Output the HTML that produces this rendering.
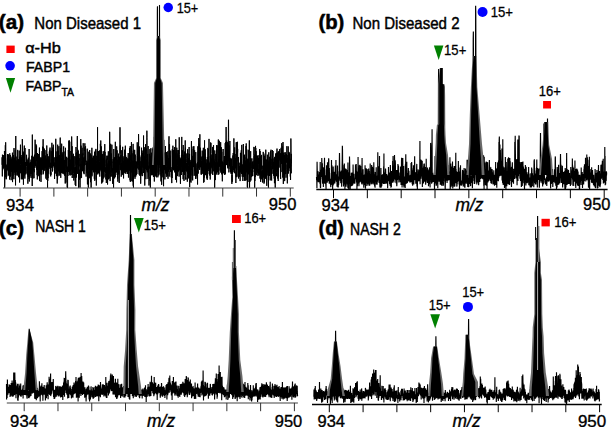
<!DOCTYPE html>
<html><head><meta charset="utf-8"><style>
html,body{margin:0;padding:0;background:#fff;}
body{width:611px;height:427px;overflow:hidden;}
svg{display:block;}
text{font-family:"Liberation Sans",sans-serif;fill:#000;}
</style></head><body>
<svg width="611" height="427" viewBox="0 0 611 427">
<line x1="3" y1="188" x2="293.7" y2="188" stroke="#808080" stroke-width="1.5"/><line x1="20.10" y1="188" x2="20.10" y2="196.6" stroke="#333" stroke-width="1"/><line x1="53.88" y1="188" x2="53.88" y2="196.6" stroke="#333" stroke-width="1"/><line x1="87.65" y1="188" x2="87.65" y2="196.6" stroke="#333" stroke-width="1"/><line x1="121.42" y1="188" x2="121.42" y2="196.6" stroke="#333" stroke-width="1"/><line x1="155.20" y1="188" x2="155.20" y2="196.6" stroke="#333" stroke-width="1"/><line x1="188.97" y1="188" x2="188.97" y2="196.6" stroke="#333" stroke-width="1"/><line x1="222.75" y1="188" x2="222.75" y2="196.6" stroke="#333" stroke-width="1"/><line x1="256.52" y1="188" x2="256.52" y2="196.6" stroke="#333" stroke-width="1"/><line x1="290.30" y1="188" x2="290.30" y2="196.6" stroke="#333" stroke-width="1"/>
<polyline points="2.00,164.8 2.11,157.3 2.22,163.0 2.33,176.4 2.44,154.7 2.56,159.8 2.67,170.2 2.78,157.8 2.89,161.2 3.00,159.6 3.11,162.3 3.22,156.9 3.33,168.6 3.44,164.2 3.56,165.6 3.67,155.0 3.78,161.0 3.89,164.5 4.00,167.8 4.11,165.4 4.22,164.4 4.33,166.1 4.44,151.0 4.56,155.8 4.67,187.5 4.78,183.1 4.89,169.7 5.00,173.1 5.11,168.3 5.22,166.2 5.33,145.2 5.44,177.1 5.56,169.0 5.67,142.3 5.78,157.8 5.89,159.7 6.00,170.6 6.11,179.3 6.22,164.6 6.33,167.3 6.44,178.6 6.56,172.6 6.67,170.4 6.78,176.4 6.89,168.9 7.00,165.9 7.11,166.8 7.22,170.0 7.33,158.8 7.44,154.4 7.56,159.3 7.67,169.0 7.78,154.3 7.89,166.4 8.00,154.6 8.11,171.1 8.22,154.6 8.33,163.9 8.44,174.9 8.56,168.2 8.67,165.1 8.78,164.1 8.89,174.6 9.00,176.1 9.11,164.9 9.22,172.4 9.33,166.7 9.44,160.3 9.56,179.5 9.67,165.9 9.78,153.3 9.89,169.7 10.00,173.4 10.11,158.7 10.22,164.0 10.33,155.0 10.44,166.9 10.56,176.6 10.67,167.1 10.78,168.1 10.89,158.4 11.00,164.7 11.11,180.2 11.22,176.5 11.33,158.8 11.44,161.3 11.56,171.8 11.67,167.1 11.78,161.6 11.89,160.9 12.00,156.7 12.11,162.6 12.22,163.6 12.33,166.6 12.44,152.7 12.56,182.1 12.67,164.7 12.78,164.6 12.89,176.0 13.00,161.3 13.11,170.2 13.22,156.4 13.33,169.2 13.44,161.2 13.56,155.0 13.67,162.9 13.78,175.9 13.89,179.2 14.00,148.1 14.11,167.8 14.22,172.5 14.33,165.0 14.44,167.9 14.56,157.7 14.67,167.3 14.78,167.4 14.89,172.2 15.00,163.0 15.11,174.9 15.22,160.7 15.33,150.3 15.44,179.4 15.56,185.4 15.67,158.8 15.78,136.0 15.89,171.5 16.00,170.4 16.11,156.6 16.22,172.2 16.33,169.6 16.44,169.3 16.56,160.5 16.67,169.7 16.78,164.0 16.89,168.6 17.00,175.3 17.11,170.5 17.22,175.5 17.33,166.0 17.44,173.8 17.56,173.4 17.67,149.9 17.78,165.3 17.89,164.4 18.00,159.2 18.11,168.3 18.22,169.8 18.33,162.4 18.44,163.5 18.56,177.2 18.67,159.4 18.78,172.0 18.89,175.9 19.00,174.4 19.11,171.1 19.22,150.6 19.33,174.1 19.44,164.6 19.56,182.5 19.67,167.7 19.78,156.7 19.89,169.0 20.00,173.4 20.11,165.7 20.22,159.0 20.33,158.1 20.44,144.7 20.56,164.4 20.67,172.9 20.78,167.7 20.89,168.0 21.00,165.2 21.11,166.7 21.22,164.6 21.33,179.3 21.44,157.4 21.56,172.5 21.67,178.2 21.78,162.0 21.89,155.0 22.00,163.5 22.11,168.8 22.22,176.4 22.33,139.1 22.44,161.7 22.56,179.3 22.67,175.2 22.78,165.3 22.89,178.6 23.00,163.7 23.11,168.9 23.22,151.6 23.33,155.4 23.44,184.7 23.56,163.7 23.67,177.1 23.78,153.1 23.89,164.2 24.00,159.8 24.11,175.8 24.22,147.9 24.33,145.6 24.44,174.8 24.56,163.2 24.67,173.8 24.78,169.3 24.89,178.6 25.00,148.0 25.11,174.5 25.22,167.5 25.33,162.0 25.44,171.7 25.56,168.0 25.67,170.7 25.78,166.9 25.89,173.3 26.00,167.0 26.11,164.5 26.22,165.8 26.33,164.6 26.44,165.3 26.56,154.8 26.67,165.3 26.78,162.8 26.89,166.3 27.00,166.7 27.11,173.7 27.22,159.5 27.33,174.7 27.44,171.4 27.56,162.8 27.67,161.8 27.78,169.4 27.89,183.7 28.00,163.0 28.11,163.1 28.22,176.8 28.33,157.7 28.44,170.4 28.56,174.5 28.67,165.3 28.78,168.6 28.89,164.8 29.00,179.0 29.11,149.0 29.22,173.6 29.33,181.5 29.44,163.4 29.56,173.2 29.67,165.1 29.78,170.7 29.89,168.0 30.00,167.5 30.11,176.4 30.22,161.9 30.33,173.7 30.44,173.6 30.56,166.4 30.67,162.9 30.78,168.4 30.89,172.6 31.00,159.6 31.11,178.0 31.22,172.2 31.33,163.9 31.44,173.8 31.56,165.4 31.67,167.3 31.78,155.8 31.89,171.8 32.00,170.3 32.11,161.9 32.22,186.0 32.33,134.6 32.44,173.6 32.56,172.4 32.67,156.8 32.78,165.1 32.89,178.5 33.00,159.1 33.11,156.8 33.22,169.5 33.33,165.9 33.44,157.5 33.56,170.3 33.67,160.4 33.78,163.7 33.89,171.7 34.00,178.2 34.11,169.0 34.22,172.2 34.33,155.8 34.44,163.2 34.56,154.7 34.67,161.3 34.78,160.2 34.89,168.0 35.00,154.1 35.11,139.7 35.22,163.0 35.33,166.3 35.44,160.5 35.56,163.1 35.67,165.7 35.78,160.2 35.89,163.0 36.00,144.3 36.11,159.8 36.22,156.8 36.33,149.8 36.44,160.8 36.56,145.6 36.67,167.7 36.78,169.8 36.89,166.2 37.00,163.0 37.11,175.2 37.22,165.5 37.33,179.4 37.44,153.0 37.56,169.7 37.67,174.8 37.78,176.5 37.89,170.0 38.00,168.3 38.11,175.8 38.22,174.1 38.33,168.4 38.44,171.4 38.56,155.9 38.67,154.0 38.78,162.7 38.89,157.7 39.00,175.4 39.11,156.5 39.22,167.6 39.33,160.6 39.44,147.6 39.56,181.1 39.67,160.6 39.78,172.0 39.89,159.0 40.00,174.7 40.11,169.6 40.22,163.9 40.33,157.4 40.44,165.8 40.56,174.0 40.67,172.2 40.78,159.9 40.89,169.2 41.00,181.9 41.11,160.0 41.22,165.8 41.33,158.5 41.44,171.9 41.56,157.6 41.67,174.7 41.78,160.7 41.89,169.8 42.00,155.9 42.11,151.1 42.22,168.4 42.33,160.5 42.44,160.2 42.56,146.7 42.67,152.9 42.78,169.8 42.89,156.1 43.00,152.3 43.11,139.2 43.22,174.3 43.33,165.9 43.44,147.0 43.56,172.7 43.67,170.9 43.78,156.5 43.89,151.5 44.00,168.1 44.11,157.3 44.22,162.8 44.33,148.6 44.44,165.1 44.56,152.5 44.67,170.7 44.78,166.0 44.89,164.9 45.00,150.1 45.11,154.7 45.22,168.2 45.33,156.3 45.44,155.6 45.56,164.2 45.67,167.4 45.78,167.0 45.89,178.6 46.00,164.1 46.11,164.0 46.22,174.3 46.33,159.6 46.44,175.4 46.56,170.4 46.67,170.0 46.78,145.5 46.89,179.8 47.00,162.8 47.11,158.6 47.22,165.9 47.33,153.9 47.44,174.9 47.56,187.5 47.67,162.6 47.78,180.9 47.89,172.7 48.00,178.1 48.11,156.3 48.22,160.0 48.33,173.6 48.44,159.7 48.56,165.6 48.67,165.9 48.78,163.4 48.89,164.2 49.00,156.5 49.11,159.8 49.22,165.8 49.33,151.4 49.44,166.9 49.56,160.1 49.67,160.4 49.78,149.7 49.89,168.7 50.00,147.6 50.11,166.9 50.22,169.3 50.33,174.4 50.44,162.8 50.56,169.8 50.67,176.2 50.78,176.4 50.89,172.2 51.00,174.8 51.11,156.2 51.22,151.2 51.33,158.7 51.44,162.9 51.56,167.7 51.67,165.1 51.78,157.7 51.89,142.8 52.00,155.2 52.11,167.1 52.22,167.0 52.33,170.4 52.44,171.5 52.56,167.6 52.67,164.8 52.78,147.5 52.89,167.5 53.00,153.5 53.11,148.5 53.22,166.1 53.33,144.7 53.44,155.9 53.56,165.5 53.67,158.6 53.78,163.8 53.89,164.3 54.00,162.0 54.11,159.7 54.22,157.3 54.33,170.5 54.44,166.2 54.56,179.0 54.67,166.3 54.78,162.6 54.89,167.0 55.00,165.5 55.11,162.9 55.22,173.6 55.33,169.8 55.44,160.3 55.56,155.2 55.67,160.9 55.78,138.8 55.89,167.1 56.00,154.9 56.11,151.4 56.22,168.5 56.33,173.5 56.44,176.1 56.56,166.3 56.67,156.9 56.78,166.5 56.89,165.7 57.00,171.9 57.11,162.4 57.22,183.5 57.33,164.7 57.44,167.6 57.56,179.5 57.67,144.7 57.78,176.4 57.89,170.8 58.00,171.7 58.11,150.7 58.22,169.4 58.33,156.6 58.44,156.6 58.56,158.8 58.67,171.1 58.78,166.1 58.89,146.2 59.00,175.6 59.11,172.1 59.22,166.4 59.33,157.2 59.44,161.7 59.56,157.0 59.67,173.1 59.78,155.0 59.89,159.7 60.00,175.5 60.11,145.9 60.22,137.6 60.33,167.8 60.44,161.1 60.56,148.1 60.67,174.5 60.78,177.8 60.89,170.7 61.00,165.9 61.11,166.2 61.22,158.3 61.33,161.3 61.44,173.1 61.56,157.4 61.67,143.7 61.78,149.8 61.89,153.1 62.00,165.2 62.11,153.4 62.22,172.8 62.33,156.8 62.44,167.4 62.56,155.0 62.67,160.8 62.78,173.2 62.89,163.3 63.00,152.0 63.11,174.0 63.22,169.4 63.33,169.2 63.44,172.8 63.56,149.3 63.67,146.4 63.78,155.9 63.89,161.9 64.00,167.1 64.11,165.4 64.22,174.6 64.33,160.9 64.44,160.0 64.56,162.5 64.67,175.7 64.78,171.2 64.89,170.9 65.00,151.5 65.11,168.8 65.22,183.5 65.33,163.3 65.44,147.8 65.56,159.5 65.67,158.3 65.78,168.5 65.89,182.6 66.00,180.5 66.11,174.5 66.22,165.5 66.33,160.8 66.44,158.3 66.56,168.4 66.67,156.8 66.78,167.2 66.89,172.0 67.00,157.9 67.11,173.3 67.22,187.4 67.33,174.7 67.44,167.1 67.56,187.5 67.67,167.7 67.78,167.2 67.89,176.0 68.00,175.4 68.11,166.2 68.22,167.6 68.33,150.0 68.44,158.8 68.56,172.0 68.67,166.4 68.78,154.0 68.89,140.8 69.00,158.1 69.11,156.8 69.22,140.3 69.33,162.5 69.44,164.7 69.56,172.4 69.67,168.5 69.78,141.7 69.89,174.9 70.00,164.5 70.11,175.5 70.22,165.9 70.33,159.7 70.44,170.7 70.56,161.3 70.67,163.1 70.78,165.3 70.89,151.0 71.00,161.6 71.11,172.6 71.22,174.5 71.33,175.0 71.44,161.3 71.56,169.4 71.67,136.5 71.78,145.2 71.89,166.8 72.00,167.2 72.11,146.2 72.22,178.0 72.33,169.1 72.44,155.8 72.56,174.3 72.67,170.6 72.78,170.2 72.89,160.2 73.00,164.7 73.11,162.1 73.22,158.9 73.33,165.8 73.44,153.8 73.56,173.6 73.67,178.5 73.78,180.5 73.89,179.0 74.00,171.8 74.11,156.2 74.22,166.6 74.33,174.6 74.44,175.9 74.56,170.0 74.67,167.5 74.78,170.7 74.89,177.8 75.00,171.0 75.11,156.5 75.22,184.9 75.33,169.7 75.44,182.0 75.56,167.1 75.67,175.7 75.78,186.1 75.89,166.7 76.00,147.0 76.11,164.5 76.22,152.9 76.33,162.7 76.44,177.5 76.56,157.8 76.67,165.1 76.78,173.1 76.89,152.2 77.00,157.4 77.11,154.3 77.22,139.1 77.33,136.0 77.44,147.4 77.56,164.7 77.67,159.9 77.78,173.9 77.89,149.8 78.00,164.3 78.11,150.8 78.22,174.0 78.33,172.2 78.44,156.5 78.56,187.5 78.67,176.9 78.78,153.7 78.89,160.5 79.00,154.0 79.11,166.4 79.22,158.2 79.33,170.3 79.44,174.9 79.56,179.7 79.67,169.8 79.78,170.2 79.89,171.4 80.00,187.5 80.11,182.1 80.22,170.1 80.33,164.5 80.44,167.6 80.56,168.7 80.67,178.3 80.78,139.1 80.89,170.3 81.00,145.6 81.11,146.0 81.22,160.6 81.33,169.6 81.44,164.0 81.56,177.8 81.67,165.5 81.78,168.6 81.89,163.4 82.00,156.9 82.11,147.8 82.22,169.1 82.33,154.6 82.44,169.9 82.56,171.0 82.67,168.6 82.78,171.3 82.89,153.4 83.00,155.1 83.11,151.3 83.22,143.2 83.33,162.1 83.44,168.0 83.56,173.2 83.67,158.1 83.78,159.1 83.89,171.1 84.00,157.1 84.11,174.2 84.22,163.8 84.33,165.4 84.44,162.6 84.56,165.3 84.67,147.5 84.78,150.7 84.89,143.3 85.00,154.0 85.11,162.0 85.22,156.3 85.33,161.1 85.44,150.3 85.56,146.3 85.67,157.7 85.78,165.2 85.89,164.8 86.00,160.6 86.11,176.6 86.22,166.9 86.33,165.5 86.44,170.7 86.56,169.5 86.67,163.3 86.78,172.2 86.89,173.2 87.00,160.9 87.11,167.9 87.22,148.7 87.33,175.6 87.44,184.4 87.56,162.7 87.67,162.1 87.78,176.5 87.89,182.0 88.00,171.0 88.11,183.0 88.22,172.7 88.33,187.5 88.44,172.0 88.56,184.4 88.67,169.6 88.78,151.7 88.89,170.7 89.00,159.6 89.11,171.4 89.22,174.3 89.33,178.2 89.44,155.7 89.56,168.0 89.67,150.0 89.78,176.2 89.89,167.8 90.00,167.0 90.11,153.9 90.22,153.3 90.33,175.4 90.44,178.5 90.56,182.2 90.67,154.2 90.78,170.4 90.89,174.2 91.00,171.5 91.11,187.5 91.22,181.4 91.33,155.1 91.44,160.7 91.56,164.0 91.67,174.9 91.78,161.3 91.89,147.8 92.00,176.3 92.11,165.4 92.22,167.4 92.33,157.7 92.44,162.9 92.56,165.6 92.67,170.2 92.78,162.7 92.89,167.4 93.00,165.0 93.11,162.9 93.22,155.7 93.33,169.5 93.44,172.3 93.56,156.2 93.67,168.5 93.78,169.2 93.89,159.4 94.00,165.6 94.11,166.4 94.22,169.8 94.33,178.8 94.44,163.1 94.56,151.7 94.67,162.1 94.78,180.8 94.89,163.9 95.00,172.2 95.11,168.3 95.22,164.1 95.33,171.5 95.44,150.2 95.56,165.6 95.67,156.5 95.78,157.0 95.89,148.9 96.00,154.3 96.11,179.5 96.22,166.8 96.33,185.5 96.44,173.5 96.56,163.3 96.67,160.3 96.78,155.9 96.89,173.1 97.00,167.0 97.11,167.6 97.22,153.0 97.33,150.6 97.44,170.4 97.56,127.2 97.67,170.2 97.78,174.4 97.89,164.6 98.00,161.6 98.11,162.1 98.22,173.2 98.33,153.2 98.44,168.1 98.56,151.0 98.67,151.6 98.78,173.1 98.89,169.7 99.00,172.6 99.11,162.9 99.22,166.5 99.33,164.8 99.44,173.8 99.56,161.7 99.67,150.4 99.78,176.6 99.89,165.7 100.00,162.6 100.11,163.8 100.22,163.6 100.33,143.8 100.44,148.0 100.56,153.6 100.67,169.7 100.78,140.5 100.89,158.6 101.00,171.3 101.11,168.4 101.22,169.9 101.33,146.4 101.44,164.7 101.56,167.3 101.67,183.5 101.78,159.0 101.89,175.0 102.00,178.0 102.11,161.6 102.22,176.0 102.33,160.5 102.44,154.2 102.56,182.4 102.67,171.0 102.78,181.7 102.89,170.2 103.00,158.3 103.11,178.7 103.22,151.2 103.33,171.4 103.44,177.3 103.56,169.2 103.67,159.6 103.78,176.5 103.89,165.0 104.00,177.5 104.11,153.8 104.22,158.2 104.33,164.8 104.44,150.7 104.56,171.6 104.67,166.6 104.78,144.1 104.89,166.4 105.00,151.9 105.11,163.6 105.22,171.0 105.33,169.3 105.44,167.4 105.56,173.4 105.67,176.9 105.78,177.0 105.89,179.4 106.00,167.9 106.11,164.4 106.22,160.1 106.33,183.0 106.44,158.8 106.56,166.6 106.67,176.3 106.78,163.6 106.89,155.8 107.00,159.7 107.11,157.5 107.22,155.7 107.33,156.1 107.44,166.0 107.56,184.5 107.67,177.3 107.78,167.0 107.89,175.1 108.00,163.5 108.11,163.4 108.22,171.3 108.33,151.3 108.44,179.3 108.56,162.3 108.67,174.2 108.78,174.5 108.89,161.9 109.00,173.7 109.11,160.6 109.22,178.5 109.33,168.3 109.44,162.8 109.56,144.1 109.67,131.8 109.78,135.2 109.89,151.5 110.00,169.5 110.11,181.1 110.22,163.6 110.33,162.0 110.44,163.7 110.56,165.5 110.67,143.8 110.78,176.6 110.89,170.5 111.00,171.5 111.11,153.7 111.22,162.1 111.33,153.7 111.44,156.4 111.56,169.8 111.67,173.4 111.78,176.5 111.89,144.7 112.00,159.3 112.11,161.3 112.22,170.5 112.33,168.9 112.44,168.4 112.56,168.6 112.67,183.8 112.78,168.9 112.89,167.9 113.00,161.6 113.11,162.6 113.22,159.0 113.33,168.3 113.44,159.0 113.56,187.5 113.67,175.1 113.78,149.0 113.89,175.2 114.00,169.8 114.11,158.7 114.22,172.9 114.33,157.2 114.44,175.2 114.56,178.4 114.67,175.0 114.78,177.5 114.89,165.0 115.00,168.1 115.11,162.4 115.22,176.8 115.33,141.8 115.44,170.0 115.56,168.6 115.67,164.0 115.78,168.7 115.89,172.9 116.00,166.4 116.11,157.0 116.22,159.3 116.33,154.8 116.44,169.4 116.56,172.1 116.67,146.4 116.78,168.8 116.89,159.2 117.00,156.2 117.11,150.3 117.22,175.0 117.33,168.4 117.44,168.2 117.56,164.5 117.67,178.6 117.78,159.7 117.89,181.7 118.00,159.7 118.11,155.9 118.22,155.9 118.33,172.7 118.44,153.6 118.56,171.3 118.67,174.3 118.78,173.9 118.89,174.2 119.00,165.7 119.11,157.3 119.22,183.0 119.33,170.7 119.44,157.0 119.56,164.4 119.67,160.2 119.78,155.3 119.89,136.0 120.00,127.3 120.11,136.0 120.22,153.3 120.33,145.4 120.44,161.5 120.56,157.0 120.67,170.2 120.78,169.4 120.89,155.2 121.00,169.6 121.11,166.9 121.22,176.7 121.33,164.8 121.44,163.0 121.56,173.1 121.67,170.0 121.78,150.2 121.89,164.7 122.00,168.9 122.11,175.1 122.22,171.7 122.33,167.6 122.44,150.9 122.56,169.5 122.67,146.8 122.78,174.2 122.89,169.5 123.00,157.5 123.11,166.7 123.22,170.9 123.33,165.7 123.44,160.8 123.56,178.4 123.67,167.3 123.78,166.6 123.89,168.3 124.00,156.2 124.11,169.4 124.22,170.3 124.33,167.1 124.44,159.4 124.56,167.1 124.67,149.7 124.78,172.7 124.89,151.9 125.00,173.3 125.11,170.0 125.22,165.1 125.33,145.7 125.44,157.2 125.56,170.8 125.67,155.5 125.78,169.4 125.89,173.8 126.00,160.9 126.11,166.6 126.22,157.0 126.33,171.4 126.44,164.1 126.56,161.6 126.67,164.0 126.78,166.7 126.89,172.1 127.00,157.9 127.11,167.4 127.22,160.9 127.33,170.4 127.44,165.8 127.56,173.9 127.67,165.5 127.78,159.9 127.89,166.8 128.00,158.8 128.11,163.7 128.22,153.0 128.33,168.5 128.44,177.6 128.56,161.8 128.67,167.1 128.78,173.6 128.89,158.8 129.00,162.3 129.11,159.3 129.22,167.1 129.33,162.1 129.44,163.0 129.56,147.9 129.67,170.8 129.78,166.5 129.89,162.0 130.00,179.9 130.11,180.4 130.22,146.0 130.33,181.9 130.44,162.1 130.56,173.4 130.67,171.3 130.78,180.6 130.89,170.2 131.00,154.7 131.11,172.5 131.22,155.9 131.33,159.9 131.44,142.1 131.56,166.5 131.67,151.1 131.78,156.1 131.89,169.8 132.00,181.0 132.11,153.3 132.22,181.6 132.33,175.8 132.44,161.9 132.56,160.7 132.67,179.5 132.78,170.9 132.89,172.9 133.00,157.5 133.11,143.9 133.22,185.7 133.33,161.4 133.44,187.5 133.56,170.2 133.67,176.9 133.78,149.8 133.89,170.4 134.00,176.8 134.11,175.0 134.22,176.0 134.33,167.3 134.44,167.9 134.56,159.4 134.67,149.9 134.78,160.8 134.89,176.2 135.00,178.8 135.11,172.3 135.22,154.6 135.33,168.2 135.44,171.6 135.56,165.9 135.67,176.8 135.78,176.4 135.89,161.0 136.00,171.2 136.11,173.0 136.22,166.5 136.33,175.2 136.44,174.4 136.56,172.4 136.67,161.9 136.78,168.0 136.89,174.1 137.00,167.4 137.11,155.6 137.22,142.3 137.33,168.4 137.44,156.0 137.56,163.0 137.67,151.2 137.78,155.4 137.89,145.4 138.00,155.7 138.11,164.7 138.22,163.0 138.33,153.9 138.44,155.6 138.56,134.1 138.67,140.6 138.78,169.6 138.89,157.8 139.00,170.1 139.11,174.5 139.22,154.4 139.33,157.8 139.44,172.0 139.56,146.5 139.67,172.5 139.78,175.7 139.89,157.2 140.00,163.9 140.11,169.1 140.22,167.3 140.33,166.3 140.44,170.6 140.56,171.7 140.67,183.7 140.78,179.0 140.89,161.2 141.00,175.6 141.11,162.6 141.22,155.5 141.33,173.8 141.44,166.7 141.56,147.7 141.67,162.2 141.78,151.1 141.89,153.2 142.00,160.8 142.11,167.9 142.22,174.5 142.33,176.1 142.44,159.5 142.56,159.3 142.67,164.8 142.78,153.0 142.89,167.5 143.00,150.4 143.11,163.8 143.22,164.6 143.33,163.4 143.44,162.7 143.56,135.5 143.67,173.0 143.78,159.4 143.89,149.2 144.00,155.7 144.11,168.3 144.22,147.2 144.33,175.3 144.44,175.7 144.56,160.9 144.67,177.2 144.78,185.5 144.89,156.5 145.00,157.7 145.11,157.8 145.22,166.3 145.33,160.5 145.44,168.8 145.56,144.2 145.67,153.5 145.78,156.0 145.89,179.2 146.00,156.8 146.11,148.5 146.22,151.4 146.33,158.5 146.44,165.9 146.56,170.2 146.67,158.9 146.78,140.4 146.89,130.7 147.00,137.3 147.11,149.2 147.22,172.3 147.33,167.3 147.44,170.5 147.56,157.5 147.67,154.0 147.78,155.9 147.89,161.6 148.00,178.9 148.11,146.0 148.22,164.2 148.33,172.9 148.44,173.8 148.56,176.4 148.67,167.7 148.78,166.1 148.89,172.1 149.00,185.5 149.11,166.9 149.22,163.2 149.33,161.7 149.44,167.3 149.56,159.2 149.67,153.8 149.78,168.6 149.89,149.1 150.00,180.7 150.11,178.1 150.22,176.9 150.33,187.5 150.44,177.5 150.56,155.8 150.67,156.0 150.78,166.9 150.89,148.2 151.00,166.3 151.11,171.2 151.22,162.3 151.33,165.4 151.44,156.7 151.56,175.0 151.67,152.7 151.78,166.3 151.89,155.6 152.00,175.4 152.11,166.4 152.22,162.8 152.33,155.7 152.44,174.5 152.56,148.6 152.67,163.1 152.78,174.6 152.89,156.8 153.00,169.2 153.11,161.2 153.22,147.2 153.33,165.1 153.44,177.0 153.56,175.4 153.67,163.2 153.78,164.8 153.89,171.2 154.00,172.8 154.11,158.0 154.22,136.9 154.33,181.5 154.44,155.4 154.56,165.5 154.67,157.0 154.78,154.8 154.89,163.4 155.00,170.6 155.11,171.1 155.22,176.5 155.33,151.7 155.44,168.8 155.56,168.0 155.67,166.0 155.78,175.1 155.89,163.1 156.00,151.3 156.11,152.6 156.22,176.0 156.33,147.9 156.44,168.9 156.56,177.3 156.67,173.9 156.78,171.0 156.89,163.0 157.00,162.8 157.11,122.5 157.22,62.7 157.33,12.1 157.44,6.5 157.56,50.5 157.67,111.5 157.78,135.4 157.89,177.3 158.00,150.2 158.11,172.7 158.22,168.0 158.33,165.1 158.44,128.6 158.56,167.1 158.67,175.5 158.78,147.8 158.89,167.9 159.00,163.4 159.11,159.3 159.22,115.6 159.33,53.7 159.44,5.2 159.56,5.2 159.67,53.7 159.78,115.6 159.89,159.3 160.00,174.5 160.11,162.7 160.22,171.5 160.33,163.8 160.44,164.4 160.56,152.3 160.67,168.0 160.78,163.5 160.89,180.2 161.00,181.4 161.11,172.4 161.22,176.1 161.33,159.5 161.44,176.7 161.56,166.2 161.67,184.8 161.78,174.4 161.89,166.5 162.00,166.0 162.11,176.8 162.22,164.3 162.33,155.5 162.44,158.4 162.56,170.2 162.67,169.8 162.78,173.1 162.89,157.2 163.00,149.4 163.11,169.5 163.22,177.7 163.33,162.7 163.44,158.6 163.56,186.2 163.67,162.4 163.78,139.9 163.89,156.9 164.00,158.4 164.11,159.4 164.22,152.6 164.33,170.1 164.44,169.6 164.56,157.6 164.67,168.0 164.78,161.3 164.89,179.4 165.00,154.2 165.11,153.7 165.22,163.7 165.33,161.0 165.44,146.0 165.56,171.8 165.67,173.1 165.78,173.6 165.89,169.9 166.00,172.9 166.11,166.9 166.22,172.0 166.33,176.8 166.44,175.4 166.56,152.0 166.67,164.8 166.78,164.8 166.89,164.0 167.00,163.5 167.11,155.3 167.22,155.4 167.33,168.4 167.44,171.4 167.56,175.2 167.67,176.3 167.78,151.3 167.89,171.3 168.00,178.8 168.11,171.0 168.22,171.1 168.33,162.9 168.44,171.6 168.56,158.2 168.67,160.0 168.78,149.9 168.89,141.9 169.00,136.3 169.11,153.1 169.22,176.6 169.33,170.4 169.44,162.4 169.56,144.2 169.67,160.4 169.78,155.1 169.89,169.2 170.00,161.0 170.11,157.5 170.22,169.9 170.33,158.1 170.44,156.6 170.56,171.7 170.67,157.4 170.78,150.6 170.89,166.8 171.00,168.3 171.11,171.6 171.22,177.3 171.33,169.9 171.44,175.2 171.56,172.5 171.67,177.1 171.78,183.1 171.89,176.5 172.00,167.1 172.11,178.0 172.22,173.7 172.33,149.0 172.44,154.2 172.56,168.9 172.67,158.2 172.78,168.5 172.89,145.7 173.00,169.1 173.11,163.8 173.22,150.0 173.33,169.8 173.44,150.4 173.56,170.3 173.67,163.8 173.78,167.7 173.89,165.0 174.00,157.1 174.11,164.2 174.22,169.4 174.33,153.5 174.44,154.3 174.56,147.1 174.67,147.5 174.78,172.4 174.89,150.3 175.00,151.1 175.11,171.5 175.22,155.8 175.33,153.6 175.44,171.2 175.56,179.7 175.67,172.5 175.78,139.3 175.89,167.3 176.00,177.6 176.11,169.8 176.22,171.1 176.33,165.8 176.44,160.2 176.56,182.4 176.67,158.8 176.78,147.7 176.89,164.1 177.00,164.7 177.11,150.0 177.22,171.4 177.33,173.8 177.44,176.1 177.56,165.9 177.67,159.7 177.78,163.5 177.89,157.4 178.00,153.6 178.11,158.2 178.22,169.1 178.33,165.3 178.44,150.1 178.56,171.5 178.67,167.1 178.78,170.1 178.89,169.2 179.00,173.9 179.11,176.6 179.22,137.3 179.33,154.6 179.44,170.3 179.56,164.3 179.67,157.6 179.78,166.9 179.89,157.5 180.00,169.8 180.11,168.5 180.22,166.6 180.33,168.5 180.44,183.8 180.56,164.5 180.67,161.3 180.78,158.6 180.89,171.9 181.00,158.8 181.11,159.2 181.22,173.8 181.33,175.0 181.44,155.0 181.56,166.4 181.67,149.1 181.78,136.9 181.89,164.0 182.00,165.1 182.11,161.3 182.22,154.6 182.33,171.9 182.44,150.4 182.56,155.4 182.67,160.6 182.78,171.4 182.89,158.3 183.00,160.2 183.11,179.2 183.22,145.0 183.33,170.9 183.44,165.0 183.56,172.6 183.67,164.4 183.78,154.9 183.89,175.6 184.00,180.9 184.11,168.3 184.22,175.0 184.33,172.5 184.44,166.0 184.56,165.7 184.67,151.5 184.78,171.9 184.89,161.6 185.00,168.6 185.11,151.0 185.22,140.4 185.33,162.5 185.44,147.6 185.56,171.2 185.67,179.1 185.78,177.6 185.89,179.7 186.00,173.9 186.11,167.9 186.22,153.5 186.33,158.8 186.44,162.4 186.56,170.9 186.67,171.5 186.78,165.3 186.89,163.8 187.00,163.2 187.11,163.2 187.22,168.6 187.33,181.7 187.44,177.4 187.56,174.4 187.67,149.2 187.78,172.3 187.89,162.5 188.00,153.3 188.11,164.4 188.22,172.2 188.33,171.5 188.44,178.4 188.56,165.8 188.67,158.2 188.78,164.0 188.89,161.6 189.00,161.6 189.11,147.0 189.22,174.0 189.33,166.1 189.44,159.4 189.56,153.9 189.67,187.1 189.78,172.3 189.89,170.9 190.00,177.9 190.11,159.9 190.22,167.2 190.33,172.2 190.44,181.5 190.56,179.4 190.67,176.2 190.78,161.6 190.89,177.0 191.00,182.6 191.11,176.6 191.22,172.1 191.33,149.5 191.44,141.1 191.56,169.6 191.67,154.5 191.78,149.0 191.89,151.4 192.00,165.6 192.11,175.4 192.22,169.0 192.33,179.6 192.44,162.7 192.56,155.9 192.67,180.4 192.78,167.0 192.89,161.2 193.00,150.2 193.11,146.5 193.22,152.4 193.33,167.1 193.44,162.4 193.56,149.3 193.67,166.7 193.78,162.3 193.89,146.2 194.00,163.9 194.11,175.8 194.22,168.1 194.33,157.9 194.44,165.5 194.56,152.6 194.67,150.3 194.78,169.9 194.89,171.2 195.00,166.9 195.11,175.2 195.22,163.7 195.33,169.8 195.44,161.6 195.56,175.3 195.67,178.9 195.78,152.1 195.89,178.7 196.00,174.1 196.11,175.9 196.22,173.4 196.33,175.8 196.44,171.3 196.56,175.9 196.67,175.8 196.78,167.3 196.89,163.5 197.00,166.4 197.11,176.4 197.22,165.6 197.33,171.2 197.44,171.9 197.56,184.5 197.67,162.0 197.78,166.6 197.89,146.3 198.00,156.2 198.11,170.5 198.22,173.6 198.33,151.3 198.44,168.2 198.56,153.2 198.67,161.1 198.78,138.1 198.89,159.0 199.00,143.6 199.11,146.2 199.22,166.3 199.33,164.0 199.44,145.8 199.56,163.9 199.67,169.9 199.78,150.2 199.89,134.3 200.00,164.4 200.11,149.7 200.22,166.4 200.33,147.7 200.44,166.0 200.56,150.8 200.67,159.4 200.78,167.3 200.89,163.7 201.00,170.7 201.11,174.5 201.22,174.3 201.33,165.7 201.44,174.5 201.56,160.7 201.67,157.2 201.78,156.6 201.89,167.5 202.00,162.6 202.11,164.5 202.22,150.6 202.33,170.7 202.44,169.2 202.56,167.2 202.67,167.9 202.78,173.7 202.89,173.4 203.00,155.9 203.11,174.1 203.22,159.3 203.33,147.8 203.44,154.0 203.56,182.6 203.67,162.3 203.78,164.1 203.89,163.3 204.00,182.1 204.11,161.6 204.22,177.6 204.33,152.6 204.44,154.9 204.56,140.3 204.67,167.4 204.78,175.5 204.89,153.4 205.00,156.5 205.11,167.0 205.22,149.3 205.33,155.8 205.44,174.9 205.56,167.6 205.67,167.4 205.78,166.8 205.89,162.8 206.00,168.7 206.11,164.8 206.22,159.4 206.33,166.0 206.44,166.3 206.56,166.3 206.67,164.5 206.78,178.4 206.89,163.9 207.00,174.2 207.11,166.4 207.22,179.8 207.33,156.9 207.44,164.9 207.56,177.9 207.67,164.6 207.78,174.2 207.89,147.9 208.00,160.8 208.11,171.0 208.22,159.9 208.33,161.4 208.44,149.1 208.56,157.9 208.67,155.5 208.78,169.2 208.89,153.0 209.00,138.9 209.11,155.4 209.22,163.3 209.33,163.9 209.44,173.5 209.56,163.1 209.67,175.5 209.78,166.8 209.89,172.0 210.00,173.2 210.11,161.7 210.22,179.5 210.33,167.8 210.44,174.0 210.56,142.5 210.67,142.9 210.78,153.4 210.89,142.9 211.00,155.7 211.11,156.5 211.22,163.9 211.33,166.2 211.44,158.6 211.56,166.8 211.67,167.5 211.78,154.5 211.89,163.5 212.00,173.6 212.11,164.2 212.22,168.6 212.33,167.1 212.44,174.2 212.56,154.2 212.67,147.1 212.78,175.0 212.89,158.7 213.00,159.6 213.11,146.8 213.22,165.3 213.33,150.9 213.44,154.1 213.56,145.2 213.67,171.3 213.78,169.0 213.89,160.3 214.00,159.4 214.11,162.8 214.22,164.9 214.33,166.2 214.44,167.6 214.56,161.1 214.67,187.5 214.78,150.4 214.89,171.1 215.00,179.9 215.11,163.3 215.22,180.1 215.33,166.5 215.44,173.8 215.56,163.2 215.67,161.7 215.78,153.9 215.89,169.5 216.00,167.7 216.11,163.9 216.22,174.6 216.33,156.1 216.44,161.8 216.56,173.3 216.67,148.5 216.78,145.1 216.89,170.8 217.00,153.7 217.11,145.3 217.22,150.0 217.33,168.8 217.44,172.3 217.56,163.1 217.67,164.8 217.78,165.3 217.89,167.4 218.00,161.7 218.11,174.8 218.22,172.7 218.33,139.5 218.44,171.1 218.56,164.0 218.67,168.1 218.78,168.2 218.89,174.3 219.00,159.4 219.11,165.2 219.22,155.0 219.33,140.8 219.44,159.6 219.56,153.2 219.67,166.7 219.78,158.0 219.89,143.9 220.00,164.1 220.11,170.6 220.22,162.7 220.33,166.0 220.44,166.0 220.56,167.3 220.67,142.2 220.78,172.6 220.89,168.0 221.00,168.3 221.11,148.0 221.22,161.9 221.33,147.2 221.44,161.0 221.56,164.4 221.67,174.3 221.78,151.9 221.89,159.7 222.00,163.0 222.11,170.2 222.22,172.9 222.33,181.3 222.44,161.6 222.56,166.5 222.67,170.7 222.78,173.1 222.89,166.8 223.00,169.2 223.11,149.0 223.22,155.5 223.33,169.4 223.44,172.8 223.56,168.7 223.67,173.3 223.78,166.7 223.89,165.4 224.00,162.4 224.11,163.5 224.22,169.3 224.33,160.3 224.44,174.8 224.56,168.3 224.67,156.0 224.78,163.8 224.89,173.6 225.00,172.1 225.11,173.2 225.22,143.1 225.33,174.4 225.44,165.7 225.56,142.2 225.67,151.3 225.78,148.8 225.89,158.5 226.00,145.4 226.11,127.0 226.22,162.6 226.33,157.5 226.44,165.1 226.56,151.5 226.67,140.6 226.78,140.5 226.89,157.1 227.00,159.3 227.11,154.8 227.22,148.4 227.33,142.2 227.44,145.5 227.56,167.5 227.67,142.8 227.78,147.9 227.89,166.5 228.00,168.5 228.11,143.5 228.22,161.0 228.33,137.9 228.44,119.8 228.56,119.8 228.67,137.9 228.78,161.0 228.89,172.4 229.00,169.8 229.11,145.3 229.22,161.4 229.33,155.8 229.44,166.3 229.56,155.6 229.67,154.7 229.78,150.3 229.89,141.0 230.00,160.3 230.11,169.1 230.22,164.4 230.33,159.4 230.44,162.1 230.56,169.7 230.67,172.1 230.78,159.9 230.89,157.9 231.00,173.7 231.11,162.5 231.22,168.0 231.33,170.4 231.44,158.9 231.56,168.8 231.67,173.6 231.78,170.9 231.89,183.9 232.00,174.9 232.11,175.6 232.22,181.8 232.33,169.0 232.44,166.2 232.56,173.5 232.67,171.5 232.78,162.0 232.89,155.5 233.00,172.2 233.11,162.1 233.22,153.0 233.33,163.7 233.44,170.1 233.56,169.1 233.67,162.7 233.78,166.9 233.89,138.4 234.00,164.2 234.11,156.1 234.22,158.3 234.33,156.5 234.44,167.1 234.56,173.2 234.67,147.4 234.78,168.9 234.89,166.5 235.00,164.4 235.11,153.9 235.22,161.6 235.33,158.1 235.44,160.0 235.56,168.0 235.67,166.6 235.78,174.7 235.89,183.0 236.00,171.5 236.11,176.8 236.22,142.3 236.33,152.0 236.44,153.9 236.56,171.1 236.67,142.3 236.78,177.2 236.89,173.6 237.00,170.5 237.11,170.0 237.22,162.3 237.33,161.4 237.44,141.8 237.56,152.5 237.67,148.9 237.78,160.5 237.89,166.1 238.00,169.9 238.11,176.4 238.22,173.5 238.33,169.1 238.44,157.0 238.56,178.5 238.67,174.8 238.78,163.0 238.89,172.9 239.00,162.6 239.11,170.1 239.22,174.0 239.33,176.9 239.44,166.3 239.56,171.6 239.67,169.8 239.78,172.6 239.89,166.5 240.00,167.5 240.11,181.1 240.22,167.6 240.33,159.3 240.44,152.9 240.56,157.7 240.67,162.2 240.78,172.3 240.89,169.5 241.00,152.9 241.11,166.5 241.22,150.6 241.33,150.2 241.44,174.0 241.56,161.6 241.67,166.8 241.78,144.9 241.89,158.2 242.00,171.1 242.11,164.3 242.22,176.7 242.33,169.9 242.44,166.0 242.56,167.4 242.67,164.9 242.78,173.9 242.89,181.0 243.00,170.4 243.11,175.0 243.22,167.2 243.33,144.0 243.44,154.8 243.56,168.4 243.67,176.5 243.78,177.0 243.89,163.3 244.00,156.6 244.11,171.1 244.22,165.2 244.33,163.5 244.44,154.7 244.56,180.7 244.67,164.1 244.78,163.4 244.89,157.2 245.00,165.3 245.11,176.1 245.22,172.1 245.33,180.7 245.44,165.3 245.56,164.9 245.67,160.3 245.78,172.7 245.89,171.0 246.00,146.1 246.11,159.7 246.22,143.4 246.33,157.2 246.44,172.1 246.56,153.1 246.67,149.5 246.78,167.3 246.89,180.3 247.00,160.2 247.11,167.3 247.22,163.8 247.33,187.2 247.44,162.9 247.56,187.5 247.67,176.7 247.78,158.7 247.89,182.0 248.00,182.0 248.11,169.9 248.22,149.8 248.33,150.4 248.44,174.1 248.56,159.8 248.67,162.4 248.78,165.3 248.89,165.8 249.00,174.4 249.11,160.0 249.22,157.8 249.33,140.4 249.44,160.0 249.56,187.5 249.67,175.7 249.78,162.8 249.89,166.7 250.00,181.8 250.11,169.4 250.22,171.4 250.33,168.5 250.44,168.9 250.56,157.5 250.67,151.2 250.78,162.4 250.89,180.5 251.00,178.5 251.11,175.5 251.22,170.5 251.33,172.1 251.44,172.8 251.56,176.8 251.67,159.2 251.78,159.7 251.89,158.3 252.00,168.2 252.11,162.6 252.22,174.3 252.33,176.1 252.44,173.8 252.56,162.0 252.67,169.4 252.78,176.1 252.89,167.7 253.00,160.8 253.11,163.1 253.22,169.0 253.33,164.8 253.44,168.1 253.56,166.6 253.67,165.9 253.78,155.5 253.89,146.9 254.00,150.0 254.11,162.2 254.22,172.1 254.33,170.2 254.44,169.1 254.56,154.6 254.67,187.5 254.78,162.9 254.89,181.0 255.00,161.5 255.11,147.3 255.22,166.6 255.33,176.8 255.44,147.8 255.56,145.9 255.67,156.7 255.78,148.0 255.89,170.9 256.00,153.3 256.11,151.2 256.22,161.3 256.33,168.1 256.44,156.9 256.56,158.1 256.67,175.2 256.78,155.7 256.89,163.4 257.00,169.7 257.11,156.7 257.22,155.9 257.33,159.2 257.44,170.4 257.56,156.3 257.67,172.7 257.78,165.0 257.89,175.8 258.00,174.1 258.11,155.2 258.22,161.9 258.33,163.9 258.44,158.0 258.56,159.5 258.67,174.0 258.78,169.2 258.89,171.9 259.00,175.5 259.11,171.3 259.22,174.0 259.33,174.5 259.44,174.1 259.56,165.9 259.67,149.1 259.78,173.7 259.89,160.4 260.00,178.6 260.11,151.1 260.22,171.8 260.33,167.2 260.44,156.3 260.56,157.6 260.67,181.9 260.78,161.3 260.89,169.9 261.00,161.6 261.11,165.7 261.22,158.8 261.33,164.7 261.44,168.6 261.56,154.9 261.67,179.3 261.78,171.8 261.89,176.1 262.00,170.4 262.11,172.3 262.22,171.0 262.33,172.5 262.44,173.0 262.56,182.5 262.67,169.6 262.78,165.7 262.89,173.3 263.00,174.7 263.11,176.2 263.22,151.9 263.33,167.1 263.44,166.4 263.56,174.1 263.67,175.7 263.78,177.6 263.89,153.6 264.00,183.6 264.11,167.0 264.22,168.5 264.33,172.6 264.44,182.3 264.56,178.7 264.67,155.7 264.78,172.4 264.89,159.5 265.00,161.7 265.11,162.0 265.22,159.8 265.33,178.8 265.44,170.8 265.56,159.2 265.67,175.3 265.78,149.7 265.89,171.1 266.00,167.5 266.11,177.0 266.22,166.3 266.33,175.9 266.44,172.1 266.56,180.0 266.67,159.6 266.78,185.8 266.89,167.1 267.00,168.2 267.11,164.1 267.22,175.5 267.33,154.7 267.44,156.0 267.56,164.6 267.67,164.1 267.78,168.1 267.89,160.0 268.00,172.4 268.11,161.4 268.22,162.4 268.33,178.7 268.44,187.5 268.56,167.2 268.67,167.1 268.78,152.3 268.89,165.8 269.00,168.2 269.11,175.0 269.22,165.5 269.33,171.0 269.44,175.8 269.56,168.5 269.67,156.8 269.78,168.8 269.89,175.7 270.00,162.7 270.11,175.1 270.22,180.4 270.33,162.4 270.44,170.1 270.56,151.0 270.67,158.8 270.78,170.0 270.89,159.9 271.00,149.7 271.11,165.7 271.22,173.7 271.33,170.4 271.44,173.8 271.56,179.1 271.67,180.5 271.78,165.8 271.89,158.8 272.00,173.9 272.11,162.1 272.22,160.0 272.33,150.0 272.44,169.2 272.56,168.4 272.67,160.6 272.78,163.7 272.89,162.8 273.00,151.0 273.11,168.7 273.22,162.0 273.33,173.1 273.44,169.9 273.56,174.1 273.67,175.8 273.78,170.5 273.89,171.3 274.00,163.1 274.11,158.7 274.22,178.6 274.33,158.0 274.44,183.2 274.56,161.3 274.67,157.2 274.78,169.6 274.89,166.6 275.00,171.9 275.11,156.7 275.22,187.5 275.33,173.1 275.44,180.6 275.56,165.1 275.67,153.7 275.78,154.1 275.89,158.9 276.00,163.2 276.11,171.4 276.22,153.1 276.33,161.3 276.44,172.6 276.56,176.2 276.67,170.3 276.78,155.2 276.89,153.7 277.00,148.6 277.11,171.3 277.22,168.4 277.33,152.5 277.44,164.2 277.56,161.0 277.67,178.5 277.78,172.5 277.89,168.0 278.00,169.8 278.11,171.1 278.22,181.0 278.33,151.5 278.44,165.4 278.56,176.6 278.67,151.5 278.78,160.9 278.89,154.2 279.00,163.8 279.11,167.6 279.22,166.9 279.33,156.4 279.44,150.8 279.56,154.0 279.67,153.8 279.78,149.0 279.89,159.9 280.00,153.1 280.11,153.6 280.22,162.6 280.33,165.7 280.44,171.5 280.56,176.9 280.67,178.9 280.78,153.4 280.89,167.6 281.00,172.1 281.11,147.8 281.22,153.0 281.33,162.0 281.44,153.6 281.56,163.6 281.67,158.2 281.78,143.2 281.89,151.0 282.00,163.6 282.11,155.2 282.22,152.0 282.33,167.4 282.44,171.1 282.56,146.4 282.67,169.5 282.78,177.6 282.89,165.4 283.00,142.0 283.11,161.2 283.22,156.6 283.33,183.9 283.44,171.0 283.56,153.2 283.67,170.7 283.78,155.1 283.89,164.0 284.00,165.3 284.11,152.4 284.22,174.9 284.33,174.4 284.44,169.1 284.56,167.2 284.67,181.1 284.78,155.1 284.89,163.0 285.00,167.7 285.11,158.8 285.22,169.5 285.33,152.3 285.44,163.8 285.56,157.5 285.67,174.1 285.78,172.6 285.89,164.6 286.00,177.7 286.11,174.2 286.22,169.6 286.33,154.0 286.44,158.7 286.56,158.0 286.67,162.5 286.78,154.9 286.89,146.2 287.00,162.5 287.11,160.5 287.22,161.0 287.33,183.4 287.44,170.2 287.56,162.1 287.67,158.4 287.78,170.3 287.89,155.1 288.00,171.4 288.11,166.8 288.22,146.4 288.33,173.6 288.44,162.0 288.56,160.3 288.67,159.2 288.78,163.8 288.89,151.9 289.00,166.8 289.11,168.4 289.22,152.6 289.33,167.8 289.44,154.4 289.56,160.0 289.67,167.5 289.78,167.2 289.89,163.5 290.00,158.7 290.11,171.1 290.22,167.2 290.33,176.6 290.44,166.0 290.56,180.0 290.67,163.5 290.78,166.4 290.89,138.5 291.00,147.0 291.11,163.4 291.22,153.9 291.33,161.1 291.44,173.4" fill="none" stroke="#000" stroke-width="1.0" stroke-linejoin="bevel"/>
<polygon points="157.45,36.00 156.20,40.00 156.20,78.00 153.95,83.00 153.15,142.00 151.95,165.00 164.95,165.00 164.25,142.00 162.95,83.00 160.70,78.00 160.70,40.00 159.45,36.00" fill="#6a6a6a"/>
<polygon points="157.73,36.00 156.83,40.00 156.83,78.00 155.21,83.00 154.63,142.00 153.77,165.00 163.13,165.00 162.63,142.00 161.69,83.00 160.07,78.00 160.07,40.00 159.17,36.00" fill="#000"/>
<line x1="316.3" y1="189.5" x2="607.6" y2="189.5" stroke="#000" stroke-width="1.5"/><line x1="333.50" y1="189.5" x2="333.50" y2="198.2" stroke="#000" stroke-width="1"/><line x1="367.34" y1="189.5" x2="367.34" y2="198.2" stroke="#000" stroke-width="1"/><line x1="401.18" y1="189.5" x2="401.18" y2="198.2" stroke="#000" stroke-width="1"/><line x1="435.01" y1="189.5" x2="435.01" y2="198.2" stroke="#000" stroke-width="1"/><line x1="468.85" y1="189.5" x2="468.85" y2="198.2" stroke="#000" stroke-width="1"/><line x1="502.69" y1="189.5" x2="502.69" y2="198.2" stroke="#000" stroke-width="1"/><line x1="536.53" y1="189.5" x2="536.53" y2="198.2" stroke="#000" stroke-width="1"/><line x1="570.36" y1="189.5" x2="570.36" y2="198.2" stroke="#000" stroke-width="1"/><line x1="604.20" y1="189.5" x2="604.20" y2="198.2" stroke="#000" stroke-width="1"/>
<polyline points="316.50,177.1 316.64,180.8 316.79,180.4 316.93,188.3 317.07,161.7 317.21,168.8 317.36,179.4 317.50,171.8 317.64,176.2 317.79,181.4 317.93,171.1 318.07,179.4 318.21,180.0 318.36,182.2 318.50,174.5 318.64,178.5 318.79,174.6 318.93,180.5 319.07,178.0 319.21,182.2 319.36,171.9 319.50,178.4 319.64,176.5 319.79,176.5 319.93,183.8 320.07,173.1 320.21,162.0 320.36,186.9 320.50,188.1 320.64,187.0 320.79,172.9 320.93,179.2 321.07,169.7 321.21,171.4 321.36,176.3 321.50,176.1 321.64,166.4 321.79,158.1 321.93,163.9 322.07,177.0 322.21,176.1 322.36,163.3 322.50,182.1 322.64,183.6 322.79,182.1 322.93,171.1 323.07,180.4 323.21,167.4 323.36,187.1 323.50,169.8 323.64,170.2 323.79,183.1 323.93,176.5 324.07,166.9 324.21,176.6 324.36,168.9 324.50,157.8 324.64,177.3 324.79,181.3 324.93,183.9 325.07,175.3 325.21,181.0 325.36,180.8 325.50,182.2 325.64,175.9 325.79,185.1 325.93,186.4 326.07,189.0 326.21,169.6 326.36,178.7 326.50,165.3 326.64,178.3 326.79,180.8 326.93,174.3 327.07,178.8 327.21,182.6 327.36,180.8 327.50,162.2 327.64,175.2 327.79,175.6 327.93,179.3 328.07,181.3 328.21,171.2 328.36,179.7 328.50,169.8 328.64,158.3 328.79,159.9 328.93,172.6 329.07,169.8 329.21,183.7 329.36,167.9 329.50,182.9 329.64,179.8 329.79,183.4 329.93,180.9 330.07,178.8 330.21,181.9 330.36,183.3 330.50,184.4 330.64,184.8 330.79,187.3 330.93,182.5 331.07,177.5 331.21,172.9 331.36,175.2 331.50,160.1 331.64,178.5 331.79,183.7 331.93,165.3 332.07,185.1 332.21,172.5 332.36,185.1 332.50,179.3 332.64,189.0 332.79,174.4 332.93,182.0 333.07,185.4 333.21,166.4 333.36,174.9 333.50,181.4 333.64,184.6 333.79,181.0 333.93,180.9 334.07,174.0 334.21,171.8 334.36,181.4 334.50,181.1 334.64,181.7 334.79,183.5 334.93,181.0 335.07,178.2 335.21,170.7 335.36,165.6 335.50,180.4 335.64,172.7 335.79,179.1 335.93,160.1 336.07,179.0 336.21,173.9 336.36,181.7 336.50,181.5 336.64,176.9 336.79,181.1 336.93,177.3 337.07,186.8 337.21,174.9 337.36,183.7 337.50,165.6 337.64,181.9 337.79,171.2 337.93,187.5 338.07,178.9 338.21,187.5 338.36,185.7 338.50,183.4 338.64,185.1 338.79,181.1 338.93,176.6 339.07,177.8 339.21,176.3 339.36,161.2 339.50,153.0 339.64,161.2 339.79,176.3 339.93,172.6 340.07,180.3 340.21,180.5 340.36,171.4 340.50,173.9 340.64,178.3 340.79,183.2 340.93,176.5 341.07,176.2 341.21,182.5 341.36,170.5 341.50,175.4 341.64,186.8 341.79,177.7 341.93,182.8 342.07,167.4 342.21,160.4 342.36,145.7 342.50,150.0 342.64,168.1 342.79,179.1 342.93,164.8 343.07,168.3 343.21,178.8 343.36,173.3 343.50,186.6 343.64,176.1 343.79,172.3 343.93,180.7 344.07,183.2 344.21,175.8 344.36,163.6 344.50,178.0 344.64,184.4 344.79,168.6 344.93,188.9 345.07,177.5 345.21,183.3 345.36,173.1 345.50,184.0 345.64,168.6 345.79,177.0 345.93,185.7 346.07,186.8 346.21,181.0 346.36,169.2 346.50,179.3 346.64,179.4 346.79,180.4 346.93,173.5 347.07,176.8 347.21,177.2 347.36,184.4 347.50,171.0 347.64,170.5 347.79,187.7 347.93,162.4 348.07,175.7 348.21,183.9 348.36,188.8 348.50,176.5 348.64,177.9 348.79,184.9 348.93,189.0 349.07,172.3 349.21,184.0 349.36,183.2 349.50,156.5 349.64,162.2 349.79,172.4 349.93,183.1 350.07,176.2 350.21,189.0 350.36,180.3 350.50,183.5 350.64,185.8 350.79,186.4 350.93,176.1 351.07,179.6 351.21,178.7 351.36,172.8 351.50,183.3 351.64,183.8 351.79,186.0 351.93,179.7 352.07,172.4 352.21,180.9 352.36,174.6 352.50,185.4 352.64,181.9 352.79,182.9 352.93,184.5 353.07,164.4 353.21,172.4 353.36,182.2 353.50,181.8 353.64,178.8 353.79,183.4 353.93,173.7 354.07,183.1 354.21,179.1 354.36,181.1 354.50,179.0 354.64,183.0 354.79,183.6 354.93,181.1 355.07,179.7 355.21,178.3 355.36,177.0 355.50,164.4 355.64,169.8 355.79,176.5 355.93,169.4 356.07,179.0 356.21,164.0 356.36,172.1 356.50,182.6 356.64,171.3 356.79,172.0 356.93,189.0 357.07,182.0 357.21,180.7 357.36,186.1 357.50,183.6 357.64,183.5 357.79,176.1 357.93,177.7 358.07,156.9 358.21,180.9 358.36,169.4 358.50,170.8 358.64,176.5 358.79,183.3 358.93,186.2 359.07,182.8 359.21,172.1 359.36,165.3 359.50,173.4 359.64,174.3 359.79,182.5 359.93,164.8 360.07,166.5 360.21,180.2 360.36,178.3 360.50,181.8 360.64,166.1 360.79,174.9 360.93,180.1 361.07,175.9 361.21,174.5 361.36,179.4 361.50,182.1 361.64,182.5 361.79,184.1 361.93,172.5 362.07,157.9 362.21,184.6 362.36,175.5 362.50,173.8 362.64,181.1 362.79,175.6 362.93,183.2 363.07,169.2 363.21,182.3 363.36,179.4 363.50,174.8 363.64,182.5 363.79,187.7 363.93,182.0 364.07,174.9 364.21,181.2 364.36,179.2 364.50,185.0 364.64,179.1 364.79,174.1 364.93,180.6 365.07,165.2 365.21,182.5 365.36,185.8 365.50,188.7 365.64,173.7 365.79,182.9 365.93,174.0 366.07,178.2 366.21,168.2 366.36,171.1 366.50,183.5 366.64,179.4 366.79,171.9 366.93,186.1 367.07,169.0 367.21,170.0 367.36,171.2 367.50,180.9 367.64,177.6 367.79,184.6 367.93,179.6 368.07,181.7 368.21,178.1 368.36,180.5 368.50,175.9 368.64,168.4 368.79,183.6 368.93,171.0 369.07,185.7 369.21,185.5 369.36,177.4 369.50,177.4 369.64,173.5 369.79,185.4 369.93,179.8 370.07,178.4 370.21,163.4 370.36,179.1 370.50,173.9 370.64,182.5 370.79,180.2 370.93,182.0 371.07,174.2 371.21,184.0 371.36,184.0 371.50,174.8 371.64,165.0 371.79,177.3 371.93,178.5 372.07,182.8 372.21,172.5 372.36,177.3 372.50,166.7 372.64,178.1 372.79,183.9 372.93,182.0 373.07,183.3 373.21,184.4 373.36,167.9 373.50,172.0 373.64,183.2 373.79,162.3 373.93,175.8 374.07,181.4 374.21,174.2 374.36,178.4 374.50,180.9 374.64,186.4 374.79,178.1 374.93,175.6 375.07,187.8 375.21,172.4 375.36,172.2 375.50,180.7 375.64,177.4 375.79,179.0 375.93,181.6 376.07,179.1 376.21,167.2 376.36,184.4 376.50,176.7 376.64,177.6 376.79,181.6 376.93,180.4 377.07,184.7 377.21,181.2 377.36,177.5 377.50,175.5 377.64,181.8 377.79,152.2 377.93,180.1 378.07,177.3 378.21,178.9 378.36,179.2 378.50,166.9 378.64,180.1 378.79,166.3 378.93,168.5 379.07,183.1 379.21,169.7 379.36,181.8 379.50,156.0 379.64,181.8 379.79,183.6 379.93,187.6 380.07,185.3 380.21,182.4 380.36,184.3 380.50,185.6 380.64,184.0 380.79,181.1 380.93,168.1 381.07,187.8 381.21,182.8 381.36,183.8 381.50,186.2 381.64,186.2 381.79,185.5 381.93,175.0 382.07,181.9 382.21,183.4 382.36,174.5 382.50,178.3 382.64,181.7 382.79,176.6 382.93,183.3 383.07,174.0 383.21,175.8 383.36,180.7 383.50,184.1 383.64,166.6 383.79,179.1 383.93,153.6 384.07,183.6 384.21,173.0 384.36,181.0 384.50,177.3 384.64,172.6 384.79,183.9 384.93,180.2 385.07,179.0 385.21,177.1 385.36,173.3 385.50,168.5 385.64,169.9 385.79,175.1 385.93,179.8 386.07,183.8 386.21,182.5 386.36,181.7 386.50,174.0 386.64,180.5 386.79,182.7 386.93,174.6 387.07,182.9 387.21,183.0 387.36,181.1 387.50,175.6 387.64,188.2 387.79,182.6 387.93,176.8 388.07,179.2 388.21,180.9 388.36,179.8 388.50,167.1 388.64,181.0 388.79,173.2 388.93,172.5 389.07,180.8 389.21,175.0 389.36,181.5 389.50,181.9 389.64,184.3 389.79,172.5 389.93,181.9 390.07,183.6 390.21,185.9 390.36,165.0 390.50,173.8 390.64,182.0 390.79,184.1 390.93,187.8 391.07,177.0 391.21,178.8 391.36,187.0 391.50,171.0 391.64,172.9 391.79,181.4 391.93,177.9 392.07,180.5 392.21,176.6 392.36,178.1 392.50,182.7 392.64,161.1 392.79,176.5 392.93,168.3 393.07,156.0 393.21,180.9 393.36,171.2 393.50,175.0 393.64,174.5 393.79,168.6 393.93,182.4 394.07,165.4 394.21,177.1 394.36,162.8 394.50,155.0 394.64,162.8 394.79,177.1 394.93,176.5 395.07,179.5 395.21,160.4 395.36,162.7 395.50,173.8 395.64,179.8 395.79,180.0 395.93,182.7 396.07,170.0 396.21,183.2 396.36,180.1 396.50,183.4 396.64,182.8 396.79,186.3 396.93,183.6 397.07,180.5 397.21,170.1 397.36,179.8 397.50,179.0 397.64,173.0 397.79,174.4 397.93,163.9 398.07,173.5 398.21,178.9 398.36,165.7 398.50,165.5 398.64,179.7 398.79,176.0 398.93,182.5 399.07,177.6 399.21,179.7 399.36,178.3 399.50,178.5 399.64,177.9 399.79,177.1 399.93,172.5 400.07,175.3 400.21,179.2 400.36,182.1 400.50,167.4 400.64,166.5 400.79,181.2 400.93,174.5 401.07,184.9 401.21,184.4 401.36,174.0 401.50,160.8 401.64,157.7 401.79,168.4 401.93,165.4 402.07,187.5 402.21,173.8 402.36,175.6 402.50,180.2 402.64,178.9 402.79,157.9 402.93,184.9 403.07,181.6 403.21,181.2 403.36,183.2 403.50,185.5 403.64,166.1 403.79,178.1 403.93,187.4 404.07,183.7 404.21,177.6 404.36,176.5 404.50,185.6 404.64,180.5 404.79,177.6 404.93,176.7 405.07,176.8 405.21,187.9 405.36,164.5 405.50,178.0 405.64,163.8 405.79,154.2 405.93,179.6 406.07,184.0 406.21,171.1 406.36,178.7 406.50,178.9 406.64,181.3 406.79,161.8 406.93,179.0 407.07,183.1 407.21,180.3 407.36,182.9 407.50,176.4 407.64,178.7 407.79,181.2 407.93,172.9 408.07,181.4 408.21,173.2 408.36,168.0 408.50,180.5 408.64,181.1 408.79,177.3 408.93,170.7 409.07,179.0 409.21,178.1 409.36,180.1 409.50,177.5 409.64,175.2 409.79,182.4 409.93,175.8 410.07,179.2 410.21,182.4 410.36,178.4 410.50,174.7 410.64,179.0 410.79,181.5 410.93,182.3 411.07,163.1 411.21,170.2 411.36,181.7 411.50,181.1 411.64,162.0 411.79,165.2 411.93,177.7 412.07,168.3 412.21,184.3 412.36,178.4 412.50,172.1 412.64,185.8 412.79,182.7 412.93,173.6 413.07,170.2 413.21,181.4 413.36,176.3 413.50,165.2 413.64,180.1 413.79,184.6 413.93,178.9 414.07,180.0 414.21,166.4 414.36,176.0 414.50,180.2 414.64,156.3 414.79,179.3 414.93,173.6 415.07,172.7 415.21,172.0 415.36,176.6 415.50,172.4 415.64,177.9 415.79,183.7 415.93,178.9 416.07,178.2 416.21,178.3 416.36,175.0 416.50,179.0 416.64,167.1 416.79,163.9 416.93,186.5 417.07,177.9 417.21,180.9 417.36,189.0 417.50,176.0 417.64,181.7 417.79,180.7 417.93,180.3 418.07,171.2 418.21,169.4 418.36,176.8 418.50,173.0 418.64,180.2 418.79,173.4 418.93,181.2 419.07,176.6 419.21,171.7 419.36,173.6 419.50,170.0 419.64,174.0 419.79,163.0 419.93,141.0 420.07,184.3 420.21,177.2 420.36,163.0 420.50,174.4 420.64,173.8 420.79,159.5 420.93,178.7 421.07,168.0 421.21,159.9 421.36,167.3 421.50,175.8 421.64,161.5 421.79,176.4 421.93,162.1 422.07,172.2 422.21,160.8 422.36,186.9 422.50,167.8 422.64,178.5 422.79,171.5 422.93,169.5 423.07,168.0 423.21,170.2 423.36,171.5 423.50,183.4 423.64,166.7 423.79,166.3 423.93,163.7 424.07,172.2 424.21,181.7 424.36,163.5 424.50,174.8 424.64,176.0 424.79,181.8 424.93,174.0 425.07,174.7 425.21,168.8 425.36,166.9 425.50,173.7 425.64,184.8 425.79,182.4 425.93,178.8 426.07,179.5 426.21,158.8 426.36,177.8 426.50,179.7 426.64,171.3 426.79,169.8 426.93,180.4 427.07,173.7 427.21,182.4 427.36,181.0 427.50,167.6 427.64,183.0 427.79,169.7 427.93,172.0 428.07,171.2 428.21,169.5 428.36,172.7 428.50,186.2 428.64,181.9 428.79,180.5 428.93,171.0 429.07,183.6 429.21,181.6 429.36,180.0 429.50,167.3 429.64,184.0 429.79,184.0 429.93,173.5 430.07,187.5 430.21,176.2 430.36,178.3 430.50,160.1 430.64,142.9 430.79,145.3 430.93,164.3 431.07,178.1 431.21,169.0 431.36,182.3 431.50,181.1 431.64,183.7 431.79,180.9 431.93,171.3 432.07,129.2 432.21,174.4 432.36,182.4 432.50,179.6 432.64,176.6 432.79,172.7 432.93,177.3 433.07,180.8 433.21,177.2 433.36,180.0 433.50,181.9 433.64,179.4 433.79,174.4 433.93,180.4 434.07,180.3 434.21,180.2 434.36,182.7 434.50,189.0 434.64,175.6 434.79,185.7 434.93,170.4 435.07,156.0 435.21,182.9 435.36,169.8 435.50,176.7 435.64,182.7 435.79,183.4 435.93,176.0 436.07,168.3 436.21,176.7 436.36,185.8 436.50,184.1 436.64,181.6 436.79,168.8 436.93,178.0 437.07,178.3 437.21,171.2 437.36,181.9 437.50,181.6 437.64,181.3 437.79,188.3 437.93,177.0 438.07,177.3 438.21,170.3 438.36,130.6 438.50,80.8 438.64,69.1 438.79,109.4 438.93,157.5 439.07,181.8 439.21,177.5 439.36,181.3 439.50,175.4 439.64,180.1 439.79,173.6 439.93,168.9 440.07,173.1 440.21,184.7 440.36,168.9 440.50,172.7 440.64,180.2 440.79,179.9 440.93,176.8 441.07,172.6 441.21,179.5 441.36,184.9 441.50,176.6 441.64,178.0 441.79,158.5 441.93,186.0 442.07,159.2 442.21,166.0 442.36,178.6 442.50,167.0 442.64,179.6 442.79,172.3 442.93,183.5 443.07,179.2 443.21,183.9 443.36,185.8 443.50,180.3 443.64,181.6 443.79,173.8 443.93,168.3 444.07,162.1 444.21,120.8 444.36,86.2 444.50,96.2 444.64,138.9 444.79,173.0 444.93,181.4 445.07,185.8 445.21,189.0 445.36,183.1 445.50,179.5 445.64,170.3 445.79,171.8 445.93,168.6 446.07,177.3 446.21,170.8 446.36,180.8 446.50,173.8 446.64,170.7 446.79,156.1 446.93,176.7 447.07,183.0 447.21,165.9 447.36,180.7 447.50,177.0 447.64,178.2 447.79,180.7 447.93,165.1 448.07,171.9 448.21,179.7 448.36,177.0 448.50,179.3 448.64,171.4 448.79,178.4 448.93,180.2 449.07,179.6 449.21,178.3 449.36,172.6 449.50,179.9 449.64,176.9 449.79,172.3 449.93,157.3 450.07,170.3 450.21,189.0 450.36,179.3 450.50,178.8 450.64,173.8 450.79,163.5 450.93,171.2 451.07,187.3 451.21,174.2 451.36,176.1 451.50,173.9 451.64,166.5 451.79,181.7 451.93,168.5 452.07,185.8 452.21,178.9 452.36,176.8 452.50,161.4 452.64,184.1 452.79,188.4 452.93,175.9 453.07,184.1 453.21,167.8 453.36,183.3 453.50,184.2 453.64,169.3 453.79,179.4 453.93,171.9 454.07,186.8 454.21,166.0 454.36,183.2 454.50,173.6 454.64,183.8 454.79,186.6 454.93,181.6 455.07,178.4 455.21,166.0 455.36,176.5 455.50,173.8 455.64,174.1 455.79,152.8 455.93,183.2 456.07,168.9 456.21,180.9 456.36,179.0 456.50,183.3 456.64,171.2 456.79,186.2 456.93,186.6 457.07,182.1 457.21,184.4 457.36,173.8 457.50,172.2 457.64,181.9 457.79,172.0 457.93,180.5 458.07,178.6 458.21,178.0 458.36,161.0 458.50,176.7 458.64,180.4 458.79,180.7 458.93,167.4 459.07,184.6 459.21,179.9 459.36,180.6 459.50,189.0 459.64,182.6 459.79,171.5 459.93,179.2 460.07,185.4 460.21,176.1 460.36,178.1 460.50,165.3 460.64,185.4 460.79,183.9 460.93,181.2 461.07,182.6 461.21,180.9 461.36,181.0 461.50,183.4 461.64,185.6 461.79,180.5 461.93,184.4 462.07,181.9 462.21,179.3 462.36,172.8 462.50,169.9 462.64,181.9 462.79,174.7 462.93,170.5 463.07,177.7 463.21,183.6 463.36,186.6 463.50,171.9 463.64,170.5 463.79,177.6 463.93,184.1 464.07,168.0 464.21,170.4 464.36,180.5 464.50,180.1 464.64,187.4 464.79,174.0 464.93,187.8 465.07,175.7 465.21,175.7 465.36,181.7 465.50,168.6 465.64,182.9 465.79,176.3 465.93,174.4 466.07,179.1 466.21,183.7 466.36,170.6 466.50,176.8 466.64,180.3 466.79,180.1 466.93,178.0 467.07,159.8 467.21,178.4 467.36,180.9 467.50,184.1 467.64,183.8 467.79,187.0 467.93,159.7 468.07,180.4 468.21,185.1 468.36,187.3 468.50,183.0 468.64,184.4 468.79,186.9 468.93,178.2 469.07,179.4 469.21,180.2 469.36,174.7 469.50,183.8 469.64,168.8 469.79,184.0 469.93,175.4 470.07,174.6 470.21,180.5 470.36,176.3 470.50,184.9 470.64,186.1 470.79,180.7 470.93,182.8 471.07,175.2 471.21,179.9 471.36,175.6 471.50,178.1 471.64,179.0 471.79,179.5 471.93,181.9 472.07,183.0 472.21,163.7 472.36,188.2 472.50,182.9 472.64,174.4 472.79,177.9 472.93,160.2 473.07,103.8 473.21,39.3 473.36,31.5 473.50,89.7 473.64,151.6 473.79,168.3 473.93,181.1 474.07,175.2 474.21,180.6 474.36,184.1 474.50,180.7 474.64,184.0 474.79,180.0 474.93,174.8 475.07,170.0 475.21,165.4 475.36,145.4 475.50,73.3 475.64,5.7 475.79,14.8 475.93,89.8 476.07,155.4 476.21,170.6 476.36,182.5 476.50,175.2 476.64,170.0 476.79,184.6 476.93,177.9 477.07,175.4 477.21,177.0 477.36,182.6 477.50,174.8 477.64,179.4 477.79,169.9 477.93,174.1 478.07,180.2 478.21,177.8 478.36,181.1 478.50,183.5 478.64,185.3 478.79,181.0 478.93,172.4 479.07,179.3 479.21,179.0 479.36,181.7 479.50,178.1 479.64,168.9 479.79,182.0 479.93,160.3 480.07,172.7 480.21,158.3 480.36,164.9 480.50,179.1 480.64,173.0 480.79,164.2 480.93,147.4 481.07,147.4 481.21,164.2 481.36,167.1 481.50,177.2 481.64,178.5 481.79,175.8 481.93,166.9 482.07,173.8 482.21,175.4 482.36,175.0 482.50,171.1 482.64,176.4 482.79,179.3 482.93,169.0 483.07,172.1 483.21,170.1 483.36,171.5 483.50,155.2 483.64,168.8 483.79,185.7 483.93,166.7 484.07,189.0 484.21,156.8 484.36,170.3 484.50,181.0 484.64,170.1 484.79,180.2 484.93,162.4 485.07,179.8 485.21,180.0 485.36,185.3 485.50,176.9 485.64,174.4 485.79,174.0 485.93,169.5 486.07,180.7 486.21,161.6 486.36,179.5 486.50,185.7 486.64,175.9 486.79,181.0 486.93,162.0 487.07,189.0 487.21,170.3 487.36,180.2 487.50,177.6 487.64,162.2 487.79,182.2 487.93,181.9 488.07,170.4 488.21,179.0 488.36,181.3 488.50,173.8 488.64,180.6 488.79,171.7 488.93,177.1 489.07,175.8 489.21,168.6 489.36,160.0 489.50,179.4 489.64,166.6 489.79,168.9 489.93,177.2 490.07,174.1 490.21,181.1 490.36,179.8 490.50,175.4 490.64,177.7 490.79,167.2 490.93,183.3 491.07,179.3 491.21,180.8 491.36,178.8 491.50,168.9 491.64,183.7 491.79,171.3 491.93,180.2 492.07,178.5 492.21,169.2 492.36,178.5 492.50,172.2 492.64,177.2 492.79,178.3 492.93,178.2 493.07,184.5 493.21,180.5 493.36,176.5 493.50,176.3 493.64,183.8 493.79,170.3 493.93,174.7 494.07,184.1 494.21,183.0 494.36,174.8 494.50,185.8 494.64,182.0 494.79,178.6 494.93,179.9 495.07,179.7 495.21,176.2 495.36,182.5 495.50,181.2 495.64,161.9 495.79,185.0 495.93,180.1 496.07,178.4 496.21,181.4 496.36,168.4 496.50,178.7 496.64,172.8 496.79,187.7 496.93,168.9 497.07,168.8 497.21,180.7 497.36,168.4 497.50,178.1 497.64,163.1 497.79,162.4 497.93,171.4 498.07,179.9 498.21,169.9 498.36,181.3 498.50,160.6 498.64,162.7 498.79,177.7 498.93,142.1 499.07,160.8 499.21,139.2 499.36,136.6 499.50,156.1 499.64,161.6 499.79,176.3 499.93,144.4 500.07,174.4 500.21,169.1 500.36,150.0 500.50,159.9 500.64,162.8 500.79,175.1 500.93,175.4 501.07,174.1 501.21,172.7 501.36,173.7 501.50,165.1 501.64,171.2 501.79,157.0 501.93,148.4 502.07,180.5 502.21,168.2 502.36,167.0 502.50,178.5 502.64,183.1 502.79,139.3 502.93,183.6 503.07,165.9 503.21,185.0 503.36,177.2 503.50,178.5 503.64,180.8 503.79,167.3 503.93,180.3 504.07,167.5 504.21,179.5 504.36,181.9 504.50,188.1 504.64,173.6 504.79,170.8 504.93,173.7 505.07,177.9 505.21,181.9 505.36,156.9 505.50,171.7 505.64,186.4 505.79,179.4 505.93,189.0 506.07,165.9 506.21,162.1 506.36,167.8 506.50,180.9 506.64,182.5 506.79,186.2 506.93,175.3 507.07,183.7 507.21,180.4 507.36,180.3 507.50,180.2 507.64,168.5 507.79,158.4 507.93,171.9 508.07,182.7 508.21,184.2 508.36,179.5 508.50,168.7 508.64,157.2 508.79,180.4 508.93,162.2 509.07,176.9 509.21,180.7 509.36,185.1 509.50,177.6 509.64,184.2 509.79,157.9 509.93,171.4 510.07,178.7 510.21,161.2 510.36,179.0 510.50,172.8 510.64,178.5 510.79,175.7 510.93,180.9 511.07,175.5 511.21,167.4 511.36,184.3 511.50,187.0 511.64,166.8 511.79,177.5 511.93,171.6 512.07,180.2 512.21,165.3 512.36,162.3 512.50,182.3 512.64,171.0 512.79,179.7 512.93,182.3 513.07,179.0 513.21,171.5 513.36,181.7 513.50,183.8 513.64,168.8 513.79,175.7 513.93,176.3 514.07,172.7 514.21,179.0 514.36,177.8 514.50,179.0 514.64,177.4 514.79,142.1 514.93,168.0 515.07,145.7 515.21,135.7 515.36,149.9 515.50,163.6 515.64,174.9 515.79,166.2 515.93,176.1 516.07,178.4 516.21,172.7 516.36,170.6 516.50,159.3 516.64,173.6 516.79,175.7 516.93,173.2 517.07,185.2 517.21,166.3 517.36,158.9 517.50,174.9 517.64,177.1 517.79,139.4 517.93,181.0 518.07,165.0 518.21,175.7 518.36,155.7 518.50,176.3 518.64,171.0 518.79,157.3 518.93,135.8 519.07,135.8 519.21,136.4 519.36,173.9 519.50,162.9 519.64,164.5 519.79,164.9 519.93,178.8 520.07,171.2 520.21,175.9 520.36,166.4 520.50,181.0 520.64,180.4 520.79,162.0 520.93,176.1 521.07,174.3 521.21,172.6 521.36,187.1 521.50,180.3 521.64,178.5 521.79,161.9 521.93,182.8 522.07,174.7 522.21,186.0 522.36,183.0 522.50,179.3 522.64,175.8 522.79,178.3 522.93,161.6 523.07,174.3 523.21,173.4 523.36,166.5 523.50,173.0 523.64,180.0 523.79,183.3 523.93,174.8 524.07,182.0 524.21,168.7 524.36,183.8 524.50,189.0 524.64,179.3 524.79,169.9 524.93,179.3 525.07,177.3 525.21,178.3 525.36,164.9 525.50,178.0 525.64,180.5 525.79,182.1 525.93,185.6 526.07,166.8 526.21,168.6 526.36,183.0 526.50,174.4 526.64,177.3 526.79,180.5 526.93,179.8 527.07,172.3 527.21,183.3 527.36,180.8 527.50,179.6 527.64,179.4 527.79,180.5 527.93,178.4 528.07,174.3 528.21,182.5 528.36,178.1 528.50,181.1 528.64,167.1 528.79,185.3 528.93,179.9 529.07,173.4 529.21,179.8 529.36,180.4 529.50,181.6 529.64,177.6 529.79,185.7 529.93,180.9 530.07,181.4 530.21,187.5 530.36,178.7 530.50,182.2 530.64,178.8 530.79,173.2 530.93,177.4 531.07,185.7 531.21,177.5 531.36,187.5 531.50,184.6 531.64,167.6 531.79,182.2 531.93,168.7 532.07,182.3 532.21,182.3 532.36,186.2 532.50,173.3 532.64,181.6 532.79,175.2 532.93,177.8 533.07,176.0 533.21,176.4 533.36,179.1 533.50,178.8 533.64,181.3 533.79,187.3 533.93,173.6 534.07,160.2 534.21,169.8 534.36,159.2 534.50,174.8 534.64,182.3 534.79,183.2 534.93,173.6 535.07,177.3 535.21,180.7 535.36,173.7 535.50,184.4 535.64,176.6 535.79,181.7 535.93,179.0 536.07,170.5 536.21,181.3 536.36,168.3 536.50,168.0 536.64,182.3 536.79,159.4 536.93,184.6 537.07,179.2 537.21,171.6 537.36,187.5 537.50,169.7 537.64,168.1 537.79,177.7 537.93,175.2 538.07,175.9 538.21,178.8 538.36,169.1 538.50,179.9 538.64,178.1 538.79,174.4 538.93,170.2 539.07,168.5 539.21,184.0 539.36,187.8 539.50,180.5 539.64,179.4 539.79,183.0 539.93,175.7 540.07,172.4 540.21,169.1 540.36,145.7 540.50,133.0 540.64,145.7 540.79,162.1 540.93,172.5 541.07,181.4 541.21,175.8 541.36,167.4 541.50,159.8 541.64,172.4 541.79,168.5 541.93,183.2 542.07,179.8 542.21,168.6 542.36,182.8 542.50,178.0 542.64,186.4 542.79,166.1 542.93,178.5 543.07,173.0 543.21,184.5 543.36,183.7 543.50,162.1 543.64,175.3 543.79,150.1 543.93,123.8 544.07,123.8 544.21,150.1 544.36,175.3 544.50,178.6 544.64,179.9 544.79,177.7 544.93,182.8 545.07,181.6 545.21,178.6 545.36,183.5 545.50,184.4 545.64,182.9 545.79,180.3 545.93,181.6 546.07,183.2 546.21,182.5 546.36,181.0 546.50,177.7 546.64,177.5 546.79,186.1 546.93,172.3 547.07,182.4 547.21,163.9 547.36,134.5 547.50,118.5 547.64,134.5 547.79,163.9 547.93,173.3 548.07,176.5 548.21,181.2 548.36,174.9 548.50,180.2 548.64,176.3 548.79,181.8 548.93,170.4 549.07,171.7 549.21,170.8 549.36,180.5 549.50,161.7 549.64,161.2 549.79,178.5 549.93,179.5 550.07,180.6 550.21,172.8 550.36,171.1 550.50,183.0 550.64,188.5 550.79,176.9 550.93,180.6 551.07,178.3 551.21,175.2 551.36,184.0 551.50,179.2 551.64,181.0 551.79,175.9 551.93,169.0 552.07,179.7 552.21,183.0 552.36,169.0 552.50,172.7 552.64,179.8 552.79,187.1 552.93,183.3 553.07,179.0 553.21,175.4 553.36,181.4 553.50,175.2 553.64,181.8 553.79,181.0 553.93,175.1 554.07,179.2 554.21,178.0 554.36,171.6 554.50,169.4 554.64,181.0 554.79,178.9 554.93,183.3 555.07,171.5 555.21,158.0 555.36,156.4 555.50,168.6 555.64,176.8 555.79,185.8 555.93,183.4 556.07,178.4 556.21,178.3 556.36,182.0 556.50,189.0 556.64,176.8 556.79,182.4 556.93,185.0 557.07,187.4 557.21,166.9 557.36,177.4 557.50,177.0 557.64,172.8 557.79,179.3 557.93,185.1 558.07,173.4 558.21,169.8 558.36,175.2 558.50,167.6 558.64,164.7 558.79,184.3 558.93,183.3 559.07,173.1 559.21,179.8 559.36,180.3 559.50,173.2 559.64,174.6 559.79,183.3 559.93,180.6 560.07,182.7 560.21,176.7 560.36,162.0 560.50,154.0 560.64,162.0 560.79,176.7 560.93,171.1 561.07,164.8 561.21,178.3 561.36,174.9 561.50,180.5 561.64,182.9 561.79,181.7 561.93,181.2 562.07,177.6 562.21,179.4 562.36,165.7 562.50,180.5 562.64,187.5 562.79,179.8 562.93,183.6 563.07,179.3 563.21,172.1 563.36,183.2 563.50,180.2 563.64,175.8 563.79,184.3 563.93,179.0 564.07,176.5 564.21,174.3 564.36,171.3 564.50,176.0 564.64,177.8 564.79,185.8 564.93,189.0 565.07,183.8 565.21,168.1 565.36,178.7 565.50,189.0 565.64,181.5 565.79,176.9 565.93,187.6 566.07,175.4 566.21,184.4 566.36,169.6 566.50,179.4 566.64,152.9 566.79,184.8 566.93,177.0 567.07,185.1 567.21,168.9 567.36,177.7 567.50,170.4 567.64,177.6 567.79,183.6 567.93,181.7 568.07,184.0 568.21,182.9 568.36,176.9 568.50,169.9 568.64,172.4 568.79,175.4 568.93,182.3 569.07,175.8 569.21,184.1 569.36,178.2 569.50,173.1 569.64,181.7 569.79,184.0 569.93,183.7 570.07,176.5 570.21,182.3 570.36,186.1 570.50,182.4 570.64,184.1 570.79,167.1 570.93,179.1 571.07,184.7 571.21,175.8 571.36,171.1 571.50,173.3 571.64,177.9 571.79,175.6 571.93,175.2 572.07,169.5 572.21,174.2 572.36,158.5 572.50,179.5 572.64,165.4 572.79,178.3 572.93,185.4 573.07,183.9 573.21,185.9 573.36,185.0 573.50,167.4 573.64,180.1 573.79,171.8 573.93,181.2 574.07,177.8 574.21,181.7 574.36,171.0 574.50,180.2 574.64,181.2 574.79,179.1 574.93,160.4 575.07,176.5 575.21,173.2 575.36,185.9 575.50,183.5 575.64,178.3 575.79,188.1 575.93,169.0 576.07,178.3 576.21,179.7 576.36,181.5 576.50,182.5 576.64,183.2 576.79,168.5 576.93,175.0 577.07,170.0 577.21,182.5 577.36,184.4 577.50,169.5 577.64,185.6 577.79,182.4 577.93,175.2 578.07,171.5 578.21,185.9 578.36,182.3 578.50,180.6 578.64,181.8 578.79,184.5 578.93,174.8 579.07,182.9 579.21,180.9 579.36,189.0 579.50,181.4 579.64,188.9 579.79,174.8 579.93,175.9 580.07,182.1 580.21,179.2 580.36,179.7 580.50,181.1 580.64,177.6 580.79,180.4 580.93,182.1 581.07,185.0 581.21,167.6 581.36,178.8 581.50,179.6 581.64,174.3 581.79,180.8 581.93,180.1 582.07,174.4 582.21,172.0 582.36,175.5 582.50,187.9 582.64,180.9 582.79,180.6 582.93,173.9 583.07,179.7 583.21,182.9 583.36,181.0 583.50,183.3 583.64,184.4 583.79,179.0 583.93,169.3 584.07,171.4 584.21,166.3 584.36,181.3 584.50,164.3 584.64,171.2 584.79,171.5 584.93,174.5 585.07,174.8 585.21,178.1 585.36,177.4 585.50,157.8 585.64,172.3 585.79,181.4 585.93,169.4 586.07,172.7 586.21,177.3 586.36,166.6 586.50,180.2 586.64,178.1 586.79,154.6 586.93,178.1 587.07,172.1 587.21,158.9 587.36,157.3 587.50,169.2 587.64,179.5 587.79,159.8 587.93,180.4 588.07,177.3 588.21,174.7 588.36,182.9 588.50,187.8 588.64,166.1 588.79,167.3 588.93,172.2 589.07,186.6 589.21,175.5 589.36,156.7 589.50,186.1 589.64,189.0 589.79,170.9 589.93,175.6 590.07,169.1 590.21,169.9 590.36,178.7 590.50,174.1 590.64,177.1 590.79,178.5 590.93,179.7 591.07,177.8 591.21,174.4 591.36,172.6 591.50,182.0 591.64,167.2 591.79,182.9 591.93,179.5 592.07,178.3 592.21,183.1 592.36,180.6 592.50,170.0 592.64,172.9 592.79,182.0 592.93,179.8 593.07,182.2 593.21,178.6 593.36,178.6 593.50,185.2 593.64,174.8 593.79,178.7 593.93,180.1 594.07,181.8 594.21,181.0 594.36,186.5 594.50,179.4 594.64,179.0 594.79,180.2 594.93,185.3 595.07,169.0 595.21,171.1 595.36,188.1 595.50,177.1 595.64,177.8 595.79,188.2 595.93,174.0 596.07,173.6 596.21,173.0 596.36,177.7 596.50,182.3 596.64,181.3 596.79,176.6 596.93,169.9 597.07,181.5 597.21,179.8 597.36,173.8 597.50,188.5 597.64,176.9 597.79,181.1 597.93,188.1 598.07,172.2 598.21,181.7 598.36,171.1 598.50,165.1 598.64,182.7 598.79,182.6 598.93,179.3 599.07,185.7 599.21,172.5 599.36,177.0 599.50,171.0 599.64,186.4 599.79,178.1 599.93,176.1 600.07,187.3 600.21,173.4 600.36,185.5 600.50,177.8 600.64,184.1 600.79,171.7 600.93,164.8 601.07,178.4 601.21,177.7 601.36,166.7 601.50,178.8 601.64,176.4 601.79,170.2 601.93,173.1 602.07,163.7 602.21,167.5 602.36,160.8 602.50,177.2 602.64,167.4 602.79,180.1 602.93,169.7 603.07,163.1 603.21,158.8 603.36,183.5 603.50,178.9 603.64,171.4 603.79,180.9 603.93,173.7 604.07,174.6 604.21,182.1 604.36,181.5 604.50,182.8 604.64,176.7 604.79,147.1 604.93,176.7 605.07,156.1 605.21,185.3 605.36,182.2 605.50,174.2 605.64,184.4 605.79,176.2 605.93,172.2 606.07,177.9 606.21,180.9 606.36,171.3 606.50,175.5 606.64,172.5" fill="none" stroke="#000" stroke-width="1.15" stroke-linejoin="bevel"/>
<polygon points="439.70,68.00 438.30,84.00 438.30,84.50 438.30,124.00 436.90,125.00 435.90,135.00 435.70,143.00 435.00,155.00 433.50,175.00 449.50,175.00 448.00,155.00 446.00,143.00 445.30,135.00 444.90,125.00 444.80,124.00 444.80,84.50 443.00,84.00 443.00,68.00" fill="#6a6a6a"/>
<polygon points="440.20,68.00 439.20,84.00 439.20,84.50 439.20,124.00 438.19,125.00 437.47,135.00 437.32,143.00 436.82,155.00 435.74,175.00 447.26,175.00 446.18,155.00 444.74,143.00 444.24,135.00 443.95,125.00 443.88,124.00 443.88,84.50 442.58,84.00 442.58,68.00" fill="#000"/>
<polygon points="473.00,56.00 472.90,58.00 471.90,68.00 470.90,87.00 469.80,115.00 469.00,144.00 468.00,158.00 466.50,175.00 484.50,175.00 483.50,158.00 482.00,144.00 479.60,115.00 477.30,87.00 476.80,68.00 476.50,58.00 476.50,56.00" fill="#6a6a6a"/>
<polygon points="473.42,56.00 473.35,58.00 472.63,68.00 471.91,87.00 471.12,115.00 470.54,144.00 469.82,158.00 468.74,175.00 481.70,175.00 480.98,158.00 479.90,144.00 478.17,115.00 476.52,87.00 476.16,68.00 475.94,58.00 475.94,56.00" fill="#000"/>
<polygon points="544.00,122.00 543.50,133.00 542.50,145.00 540.50,159.00 539.00,175.00 553.00,175.00 552.00,159.00 549.20,145.00 548.50,133.00 548.20,122.00" fill="#6a6a6a"/>
<polygon points="544.56,122.00 544.20,133.00 543.48,145.00 542.04,159.00 540.96,175.00 551.04,175.00 550.32,159.00 548.30,145.00 547.80,133.00 547.58,122.00" fill="#000"/>
<line x1="6.8" y1="402.9" x2="297.9" y2="402.9" stroke="#808080" stroke-width="1.5"/><line x1="24.20" y1="402.9" x2="24.20" y2="411.2" stroke="#333" stroke-width="1"/><line x1="57.97" y1="402.9" x2="57.97" y2="411.2" stroke="#333" stroke-width="1"/><line x1="91.75" y1="402.9" x2="91.75" y2="411.2" stroke="#333" stroke-width="1"/><line x1="125.52" y1="402.9" x2="125.52" y2="411.2" stroke="#333" stroke-width="1"/><line x1="159.30" y1="402.9" x2="159.30" y2="411.2" stroke="#333" stroke-width="1"/><line x1="193.07" y1="402.9" x2="193.07" y2="411.2" stroke="#333" stroke-width="1"/><line x1="226.85" y1="402.9" x2="226.85" y2="411.2" stroke="#333" stroke-width="1"/><line x1="260.62" y1="402.9" x2="260.62" y2="411.2" stroke="#333" stroke-width="1"/><line x1="294.40" y1="402.9" x2="294.40" y2="411.2" stroke="#333" stroke-width="1"/>
<polyline points="6.50,383.9 6.60,399.5 6.70,389.8 6.80,392.5 6.90,392.8 7.00,393.1 7.10,398.1 7.20,392.5 7.30,395.1 7.40,379.4 7.50,391.8 7.60,393.2 7.70,393.6 7.80,393.9 7.90,394.8 8.00,391.2 8.10,388.8 8.20,392.1 8.30,387.2 8.40,392.5 8.50,390.4 8.60,386.8 8.70,389.8 8.80,393.2 8.90,392.5 9.00,389.5 9.10,384.2 9.20,392.5 9.30,390.8 9.40,385.3 9.50,391.2 9.60,393.0 9.70,389.6 9.80,391.0 9.90,391.9 10.00,385.1 10.10,397.0 10.20,388.1 10.30,393.1 10.40,395.9 10.50,386.7 10.60,388.4 10.70,393.1 10.80,388.7 10.90,390.4 11.00,392.8 11.10,386.7 11.20,383.1 11.30,389.6 11.40,386.2 11.50,384.0 11.60,395.7 11.70,388.5 11.80,386.7 11.90,392.0 12.00,394.3 12.10,380.5 12.20,396.7 12.30,387.8 12.40,387.0 12.50,382.7 12.60,389.7 12.70,391.6 12.80,387.2 12.90,389.7 13.00,392.3 13.10,385.0 13.20,385.2 13.30,396.6 13.40,388.5 13.50,389.6 13.60,387.4 13.70,372.6 13.80,380.8 13.90,375.1 14.00,395.3 14.10,387.0 14.20,384.1 14.30,390.5 14.40,395.0 14.50,385.7 14.60,386.2 14.70,386.2 14.80,372.4 14.90,377.8 15.00,394.6 15.10,389.0 15.20,382.7 15.30,380.0 15.40,382.7 15.50,388.6 15.60,393.3 15.70,382.5 15.80,390.1 15.90,393.6 16.00,398.3 16.10,385.6 16.20,387.6 16.30,386.5 16.40,386.5 16.50,394.0 16.60,390.7 16.70,390.3 16.80,389.6 16.90,393.3 17.00,392.9 17.10,390.8 17.20,393.2 17.30,394.3 17.40,383.8 17.50,385.8 17.60,388.4 17.70,400.4 17.80,395.4 17.90,392.8 18.00,389.1 18.10,400.8 18.20,387.8 18.30,388.7 18.40,397.5 18.50,396.3 18.60,394.6 18.70,392.0 18.80,388.8 18.90,383.8 19.00,393.2 19.10,389.8 19.20,391.0 19.30,385.9 19.40,390.1 19.50,386.2 19.60,395.1 19.70,392.9 19.80,394.4 19.90,385.6 20.00,389.3 20.10,392.9 20.20,394.5 20.30,391.2 20.40,395.2 20.50,395.8 20.60,391.5 20.70,383.5 20.80,393.4 20.90,394.1 21.00,396.5 21.10,396.8 21.20,390.5 21.30,389.8 21.40,393.4 21.50,391.2 21.60,391.6 21.70,390.4 21.80,395.5 21.90,392.7 22.00,391.3 22.10,394.2 22.20,394.0 22.30,395.4 22.40,393.8 22.50,389.2 22.60,393.0 22.70,392.1 22.80,387.8 22.90,389.1 23.00,385.6 23.10,398.5 23.20,389.5 23.30,394.1 23.40,392.4 23.50,389.5 23.60,387.7 23.70,387.2 23.80,390.4 23.90,385.1 24.00,392.4 24.10,392.9 24.20,389.8 24.30,394.9 24.40,384.7 24.50,389.1 24.60,384.6 24.70,392.8 24.80,393.6 24.90,391.5 25.00,389.3 25.10,394.9 25.20,391.6 25.30,392.4 25.40,386.0 25.50,394.5 25.60,387.5 25.70,393.4 25.80,394.9 25.90,393.6 26.00,395.1 26.10,391.1 26.20,388.8 26.30,392.0 26.40,390.1 26.50,386.0 26.60,390.8 26.70,391.6 26.80,394.0 26.90,397.7 27.00,390.2 27.10,398.8 27.20,390.9 27.30,392.8 27.40,389.0 27.50,393.2 27.60,395.4 27.70,391.0 27.80,394.3 27.90,393.3 28.00,392.5 28.10,393.5 28.20,393.4 28.30,395.0 28.40,392.8 28.50,397.9 28.60,392.7 28.70,395.9 28.80,388.2 28.90,387.3 29.00,398.2 29.10,392.3 29.20,393.7 29.30,396.0 29.40,391.2 29.50,394.3 29.60,397.3 29.70,393.2 29.80,393.2 29.90,392.4 30.00,396.3 30.10,389.7 30.20,389.7 30.30,396.1 30.40,395.0 30.50,393.8 30.60,395.0 30.70,386.2 30.80,392.3 30.90,395.9 31.00,395.1 31.10,393.4 31.20,383.8 31.30,393.2 31.40,392.1 31.50,390.5 31.60,392.5 31.70,382.5 31.80,392.7 31.90,387.8 32.00,389.3 32.10,387.6 32.20,393.4 32.30,383.4 32.40,390.9 32.50,390.9 32.60,393.3 32.70,392.7 32.80,388.3 32.90,387.0 33.00,388.6 33.10,386.3 33.20,388.8 33.30,391.3 33.40,388.4 33.50,389.9 33.60,392.7 33.70,389.5 33.80,386.7 33.90,391.0 34.00,392.8 34.10,389.4 34.20,384.6 34.30,393.0 34.40,392.3 34.50,392.4 34.60,388.4 34.70,398.7 34.80,392.5 34.90,389.4 35.00,396.6 35.10,387.9 35.20,392.1 35.30,396.1 35.40,393.5 35.50,399.0 35.60,396.6 35.70,387.8 35.80,397.3 35.90,387.6 36.00,395.0 36.10,390.2 36.20,394.0 36.30,400.2 36.40,395.0 36.50,392.0 36.60,396.8 36.70,397.2 36.80,392.1 36.90,395.6 37.00,398.5 37.10,395.4 37.20,390.2 37.30,395.2 37.40,389.9 37.50,387.9 37.60,393.7 37.70,397.3 37.80,397.3 37.90,393.5 38.00,390.7 38.10,392.4 38.20,391.1 38.30,394.4 38.40,391.5 38.50,393.8 38.60,393.4 38.70,395.8 38.80,396.7 38.90,393.9 39.00,395.4 39.10,395.7 39.20,389.1 39.30,392.4 39.40,381.2 39.50,388.8 39.60,394.5 39.70,390.3 39.80,392.4 39.90,396.0 40.00,389.2 40.10,395.5 40.20,401.6 40.30,389.7 40.40,394.2 40.50,386.6 40.60,393.6 40.70,395.4 40.80,386.5 40.90,395.2 41.00,391.0 41.10,385.5 41.20,389.7 41.30,390.3 41.40,389.7 41.50,387.4 41.60,393.0 41.70,389.0 41.80,389.5 41.90,383.2 42.00,393.0 42.10,394.8 42.20,389.7 42.30,393.4 42.40,391.3 42.50,392.1 42.60,389.0 42.70,395.9 42.80,394.1 42.90,400.8 43.00,395.4 43.10,386.7 43.20,394.6 43.30,393.9 43.40,394.6 43.50,388.9 43.60,390.4 43.70,394.8 43.80,387.8 43.90,389.6 44.00,388.6 44.10,393.2 44.20,385.0 44.30,389.9 44.40,393.1 44.50,394.6 44.60,394.1 44.70,388.9 44.80,393.7 44.90,388.4 45.00,390.5 45.10,389.2 45.20,390.9 45.30,394.8 45.40,400.4 45.50,392.9 45.60,392.8 45.70,394.9 45.80,392.5 45.90,395.6 46.00,393.5 46.10,397.3 46.20,385.3 46.30,392.3 46.40,398.1 46.50,397.2 46.60,394.6 46.70,388.9 46.80,391.9 46.90,390.8 47.00,385.9 47.10,384.4 47.20,382.3 47.30,388.2 47.40,385.2 47.50,388.5 47.60,384.6 47.70,395.9 47.80,387.5 47.90,389.8 48.00,384.8 48.10,399.3 48.20,390.8 48.30,390.0 48.40,389.5 48.50,391.1 48.60,391.0 48.70,388.7 48.80,384.3 48.90,394.0 49.00,383.5 49.10,376.7 49.20,391.6 49.30,392.1 49.40,378.7 49.50,387.6 49.60,389.7 49.70,394.9 49.80,389.2 49.90,386.7 50.00,390.4 50.10,379.1 50.20,386.5 50.30,382.2 50.40,387.5 50.50,385.1 50.60,373.5 50.70,396.1 50.80,395.4 50.90,387.3 51.00,388.8 51.10,394.6 51.20,394.1 51.30,382.3 51.40,390.9 51.50,389.0 51.60,386.9 51.70,393.7 51.80,385.5 51.90,392.4 52.00,382.0 52.10,383.4 52.20,382.4 52.30,387.3 52.40,388.6 52.50,383.9 52.60,385.9 52.70,387.6 52.80,389.0 52.90,387.7 53.00,389.8 53.10,390.3 53.20,380.9 53.30,379.1 53.40,390.9 53.50,390.0 53.60,397.0 53.70,390.7 53.80,392.0 53.90,395.7 54.00,390.6 54.10,399.1 54.20,395.0 54.30,392.8 54.40,399.0 54.50,392.2 54.60,389.8 54.70,398.2 54.80,398.6 54.90,391.6 55.00,394.4 55.10,397.2 55.20,394.8 55.30,395.7 55.40,395.1 55.50,391.1 55.60,392.2 55.70,385.9 55.80,387.6 55.90,390.3 56.00,388.4 56.10,388.5 56.20,391.9 56.30,396.8 56.40,389.7 56.50,393.1 56.60,386.8 56.70,393.0 56.80,390.9 56.90,391.7 57.00,386.6 57.10,393.0 57.20,395.0 57.30,392.7 57.40,395.1 57.50,393.8 57.60,393.6 57.70,391.8 57.80,385.7 57.90,394.8 58.00,393.0 58.10,393.9 58.20,390.3 58.30,396.4 58.40,395.3 58.50,392.9 58.60,390.5 58.70,392.9 58.80,394.4 58.90,395.4 59.00,390.3 59.10,386.2 59.20,391.1 59.30,391.3 59.40,390.7 59.50,395.1 59.60,392.7 59.70,392.9 59.80,391.5 59.90,392.5 60.00,396.6 60.10,388.4 60.20,386.3 60.30,393.8 60.40,391.3 60.50,392.0 60.60,390.5 60.70,397.5 60.80,386.7 60.90,394.6 61.00,387.8 61.10,392.8 61.20,394.7 61.30,393.1 61.40,389.3 61.50,395.1 61.60,393.0 61.70,393.2 61.80,396.9 61.90,386.9 62.00,390.1 62.10,392.0 62.20,386.4 62.30,394.3 62.40,392.1 62.50,385.6 62.60,388.4 62.70,396.7 62.80,400.1 62.90,393.9 63.00,386.8 63.10,390.2 63.20,392.5 63.30,385.5 63.40,395.1 63.50,391.7 63.60,383.1 63.70,390.7 63.80,381.7 63.90,394.3 64.00,390.7 64.10,390.8 64.20,378.1 64.30,377.9 64.40,381.9 64.50,396.7 64.60,384.9 64.70,382.9 64.80,387.0 64.90,382.4 65.00,377.9 65.10,390.4 65.20,382.6 65.30,386.9 65.40,386.8 65.50,384.4 65.60,376.0 65.70,371.3 65.80,376.0 65.90,379.4 66.00,393.0 66.10,381.3 66.20,387.9 66.30,387.1 66.40,383.3 66.50,393.0 66.60,390.4 66.70,383.8 66.80,394.6 66.90,386.9 67.00,390.3 67.10,389.5 67.20,383.7 67.30,394.4 67.40,394.6 67.50,390.1 67.60,387.7 67.70,398.5 67.80,379.8 67.90,383.6 68.00,385.3 68.10,387.2 68.20,380.1 68.30,384.9 68.40,390.4 68.50,391.8 68.60,389.8 68.70,390.6 68.80,398.1 68.90,388.8 69.00,393.9 69.10,391.9 69.20,392.9 69.30,388.8 69.40,393.2 69.50,394.4 69.60,390.5 69.70,387.1 69.80,393.9 69.90,386.1 70.00,390.8 70.10,393.6 70.20,385.6 70.30,394.2 70.40,387.7 70.50,393.3 70.60,389.5 70.70,395.2 70.80,394.6 70.90,389.0 71.00,392.1 71.10,393.0 71.20,394.1 71.30,391.9 71.40,398.3 71.50,398.0 71.60,395.2 71.70,396.9 71.80,395.5 71.90,394.2 72.00,394.1 72.10,394.6 72.20,387.2 72.30,388.1 72.40,386.6 72.50,392.7 72.60,394.0 72.70,396.0 72.80,393.6 72.90,397.8 73.00,394.2 73.10,388.6 73.20,385.0 73.30,388.2 73.40,392.8 73.50,390.6 73.60,394.4 73.70,389.5 73.80,392.3 73.90,389.3 74.00,382.5 74.10,389.2 74.20,382.4 74.30,389.9 74.40,391.0 74.50,386.6 74.60,384.3 74.70,393.6 74.80,391.8 74.90,393.4 75.00,392.0 75.10,388.1 75.20,388.5 75.30,392.1 75.40,389.9 75.50,389.8 75.60,380.9 75.70,390.2 75.80,387.8 75.90,393.0 76.00,376.9 76.10,384.0 76.20,383.1 76.30,388.3 76.40,397.7 76.50,390.2 76.60,391.1 76.70,390.8 76.80,384.1 76.90,382.6 77.00,390.5 77.10,393.1 77.20,387.5 77.30,381.3 77.40,383.7 77.50,397.4 77.60,390.8 77.70,392.1 77.80,388.7 77.90,397.8 78.00,379.5 78.10,401.5 78.20,389.4 78.30,377.7 78.40,394.5 78.50,387.3 78.60,396.7 78.70,382.1 78.80,397.0 78.90,391.3 79.00,393.3 79.10,395.9 79.20,377.6 79.30,397.7 79.40,381.2 79.50,380.4 79.60,384.4 79.70,385.8 79.80,389.7 79.90,393.1 80.00,382.5 80.10,385.0 80.20,384.9 80.30,376.8 80.40,393.6 80.50,392.5 80.60,387.7 80.70,393.0 80.80,388.7 80.90,395.9 81.00,394.2 81.10,373.0 81.20,381.4 81.30,384.7 81.40,394.1 81.50,386.5 81.60,379.1 81.70,375.9 81.80,379.1 81.90,383.6 82.00,383.3 82.10,381.4 82.20,390.4 82.30,392.9 82.40,392.4 82.50,392.8 82.60,395.0 82.70,391.2 82.80,381.4 82.90,384.2 83.00,387.1 83.10,381.7 83.20,385.7 83.30,393.6 83.40,388.9 83.50,394.0 83.60,392.2 83.70,382.5 83.80,392.0 83.90,393.9 84.00,388.1 84.10,389.3 84.20,391.3 84.30,390.4 84.40,390.1 84.50,391.1 84.60,387.4 84.70,397.8 84.80,396.9 84.90,387.3 85.00,389.5 85.10,396.9 85.20,388.9 85.30,392.8 85.40,392.1 85.50,390.9 85.60,392.9 85.70,392.8 85.80,390.6 85.90,392.1 86.00,397.2 86.10,401.6 86.20,396.6 86.30,396.9 86.40,393.6 86.50,388.9 86.60,391.4 86.70,395.3 86.80,391.9 86.90,387.7 87.00,394.8 87.10,389.5 87.20,390.3 87.30,391.1 87.40,386.8 87.50,394.6 87.60,387.9 87.70,394.1 87.80,393.1 87.90,392.9 88.00,389.4 88.10,393.6 88.20,391.2 88.30,394.5 88.40,388.1 88.50,385.4 88.60,392.2 88.70,387.0 88.80,392.0 88.90,386.4 89.00,394.3 89.10,399.3 89.20,389.8 89.30,395.8 89.40,399.7 89.50,399.3 89.60,401.5 89.70,397.1 89.80,399.6 89.90,390.3 90.00,393.0 90.10,399.4 90.20,399.2 90.30,396.3 90.40,399.2 90.50,394.1 90.60,393.9 90.70,395.3 90.80,394.4 90.90,390.5 91.00,386.4 91.10,386.6 91.20,392.7 91.30,388.9 91.40,394.1 91.50,391.1 91.60,395.6 91.70,390.4 91.80,397.3 91.90,396.7 92.00,393.7 92.10,391.4 92.20,397.3 92.30,394.6 92.40,392.2 92.50,391.8 92.60,394.6 92.70,392.1 92.80,393.4 92.90,387.0 93.00,390.1 93.10,396.7 93.20,398.9 93.30,392.1 93.40,387.7 93.50,392.1 93.60,389.8 93.70,395.4 93.80,398.0 93.90,391.2 94.00,393.6 94.10,391.5 94.20,397.4 94.30,392.7 94.40,395.4 94.50,390.1 94.60,394.5 94.70,394.3 94.80,394.0 94.90,387.1 95.00,391.9 95.10,393.9 95.20,394.0 95.30,393.9 95.40,385.7 95.50,396.9 95.60,394.5 95.70,389.9 95.80,388.0 95.90,392.8 96.00,389.8 96.10,389.6 96.20,389.1 96.30,393.0 96.40,386.6 96.50,392.5 96.60,387.2 96.70,396.3 96.80,389.8 96.90,396.4 97.00,396.1 97.10,389.7 97.20,394.5 97.30,390.7 97.40,396.2 97.50,386.3 97.60,392.8 97.70,395.8 97.80,391.6 97.90,389.1 98.00,395.3 98.10,390.5 98.20,384.5 98.30,388.9 98.40,392.8 98.50,394.9 98.60,391.0 98.70,397.5 98.80,401.3 98.90,394.2 99.00,395.1 99.10,384.9 99.20,392.3 99.30,395.8 99.40,396.1 99.50,390.0 99.60,394.7 99.70,394.2 99.80,393.5 99.90,392.8 100.00,393.3 100.10,392.6 100.20,387.6 100.30,386.0 100.40,397.2 100.50,382.0 100.60,392.1 100.70,386.8 100.80,394.0 100.90,390.9 101.00,391.7 101.10,392.5 101.20,389.1 101.30,389.7 101.40,394.6 101.50,392.0 101.60,388.8 101.70,389.6 101.80,393.5 101.90,392.9 102.00,392.8 102.10,387.8 102.20,395.0 102.30,384.5 102.40,392.1 102.50,390.1 102.60,392.3 102.70,385.2 102.80,384.2 102.90,392.2 103.00,389.3 103.10,394.1 103.20,384.3 103.30,387.0 103.40,394.4 103.50,387.4 103.60,391.2 103.70,392.3 103.80,393.1 103.90,396.4 104.00,395.7 104.10,389.9 104.20,393.7 104.30,395.8 104.40,385.1 104.50,392.3 104.60,392.4 104.70,395.0 104.80,390.0 104.90,387.0 105.00,391.1 105.10,386.5 105.20,394.0 105.30,389.7 105.40,392.6 105.50,391.2 105.60,387.8 105.70,396.5 105.80,376.9 105.90,391.1 106.00,388.4 106.10,386.6 106.20,386.0 106.30,389.4 106.40,398.0 106.50,393.6 106.60,387.7 106.70,393.6 106.80,392.0 106.90,398.0 107.00,382.8 107.10,385.5 107.20,392.5 107.30,389.2 107.40,389.1 107.50,392.8 107.60,388.7 107.70,389.0 107.80,388.2 107.90,385.8 108.00,390.7 108.10,390.3 108.20,388.6 108.30,387.5 108.40,395.5 108.50,382.6 108.60,390.9 108.70,391.5 108.80,381.1 108.90,388.2 109.00,383.8 109.10,390.2 109.20,384.4 109.30,380.7 109.40,393.4 109.50,392.1 109.60,392.6 109.70,383.8 109.80,388.9 109.90,389.8 110.00,380.9 110.10,386.8 110.20,379.2 110.30,383.4 110.40,379.0 110.50,375.2 110.60,388.6 110.70,389.1 110.80,373.6 110.90,377.8 111.00,374.5 111.10,377.8 111.20,385.3 111.30,391.0 111.40,390.8 111.50,383.6 111.60,384.6 111.70,386.3 111.80,389.3 111.90,379.9 112.00,386.8 112.10,390.9 112.20,386.8 112.30,374.5 112.40,377.9 112.50,387.8 112.60,377.6 112.70,384.7 112.80,384.6 112.90,378.4 113.00,394.5 113.10,376.1 113.20,392.7 113.30,390.9 113.40,375.9 113.50,379.6 113.60,385.8 113.70,386.3 113.80,382.9 113.90,393.6 114.00,382.6 114.10,393.0 114.20,394.7 114.30,387.2 114.40,383.8 114.50,382.9 114.60,390.8 114.70,387.2 114.80,393.7 114.90,387.2 115.00,388.8 115.10,389.5 115.20,392.0 115.30,390.1 115.40,378.7 115.50,396.5 115.60,397.1 115.70,388.9 115.80,397.1 115.90,387.5 116.00,388.0 116.10,394.7 116.20,393.2 116.30,388.4 116.40,382.6 116.50,391.7 116.60,398.8 116.70,388.6 116.80,393.3 116.90,398.9 117.00,392.7 117.10,388.5 117.20,392.3 117.30,390.6 117.40,388.0 117.50,382.7 117.60,397.5 117.70,391.0 117.80,378.7 117.90,395.4 118.00,385.9 118.10,384.1 118.20,387.1 118.30,388.8 118.40,394.4 118.50,395.1 118.60,386.4 118.70,385.1 118.80,387.5 118.90,387.2 119.00,384.3 119.10,391.4 119.20,395.2 119.30,388.1 119.40,390.4 119.50,392.2 119.60,393.5 119.70,393.4 119.80,394.8 119.90,393.1 120.00,393.5 120.10,393.4 120.20,389.2 120.30,392.6 120.40,387.5 120.50,393.6 120.60,397.9 120.70,385.8 120.80,384.3 120.90,386.0 121.00,390.1 121.10,389.3 121.20,390.5 121.30,395.1 121.40,393.7 121.50,388.9 121.60,393.9 121.70,383.7 121.80,396.1 121.90,394.0 122.00,389.0 122.10,394.8 122.20,396.1 122.30,396.5 122.40,394.8 122.50,387.2 122.60,391.7 122.70,390.2 122.80,393.8 122.90,388.0 123.00,390.6 123.10,394.3 123.20,393.8 123.30,392.4 123.40,388.7 123.50,393.7 123.60,391.4 123.70,385.9 123.80,396.3 123.90,397.4 124.00,390.4 124.10,392.5 124.20,395.0 124.30,393.9 124.40,396.0 124.50,393.3 124.60,396.1 124.70,391.5 124.80,397.6 124.90,396.7 125.00,393.8 125.10,395.8 125.20,391.2 125.30,393.3 125.40,394.1 125.50,391.6 125.60,393.6 125.70,396.2 125.80,394.8 125.90,393.2 126.00,392.6 126.10,390.4 126.20,387.3 126.30,388.5 126.40,383.6 126.50,386.0 126.60,392.0 126.70,384.3 126.80,386.5 126.90,393.2 127.00,390.9 127.10,387.5 127.20,391.4 127.30,388.6 127.40,390.8 127.50,389.1 127.60,393.1 127.70,390.2 127.80,393.4 127.90,389.6 128.00,397.1 128.10,390.4 128.20,387.7 128.30,390.8 128.40,393.0 128.50,390.7 128.60,395.5 128.70,395.4 128.80,394.4 128.90,394.2 129.00,390.1 129.10,397.4 129.20,390.6 129.30,398.9 129.40,396.4 129.50,393.6 129.60,389.0 129.70,395.3 129.80,399.7 129.90,392.0 130.00,393.9 130.10,377.5 130.20,341.9 130.30,288.9 130.40,237.1 130.50,215.0 130.60,237.1 130.70,288.9 130.80,341.9 130.90,377.5 131.00,390.7 131.10,393.0 131.20,383.5 131.30,388.1 131.40,393.0 131.50,392.7 131.60,393.4 131.70,392.8 131.80,388.8 131.90,393.5 132.00,384.4 132.10,391.2 132.20,391.1 132.30,386.7 132.40,396.1 132.50,394.1 132.60,388.7 132.70,392.0 132.80,392.0 132.90,391.1 133.00,394.4 133.10,393.2 133.20,396.3 133.30,398.2 133.40,387.9 133.50,396.0 133.60,394.3 133.70,386.9 133.80,388.4 133.90,394.8 134.00,394.6 134.10,392.9 134.20,395.0 134.30,390.6 134.40,392.0 134.50,391.7 134.60,389.7 134.70,389.5 134.80,384.4 134.90,385.7 135.00,396.8 135.10,388.2 135.20,395.2 135.30,395.8 135.40,388.3 135.50,393.4 135.60,392.9 135.70,387.3 135.80,393.4 135.90,394.2 136.00,390.6 136.10,386.7 136.20,390.4 136.30,397.0 136.40,395.0 136.50,393.4 136.60,385.6 136.70,389.3 136.80,389.4 136.90,388.1 137.00,393.3 137.10,390.8 137.20,390.8 137.30,395.6 137.40,392.4 137.50,390.3 137.60,395.3 137.70,388.9 137.80,388.9 137.90,387.3 138.00,394.1 138.10,391.1 138.20,386.0 138.30,389.3 138.40,395.0 138.50,392.5 138.60,388.0 138.70,394.1 138.80,392.8 138.90,384.3 139.00,395.1 139.10,395.4 139.20,397.2 139.30,396.5 139.40,388.9 139.50,394.6 139.60,398.2 139.70,397.5 139.80,394.7 139.90,391.5 140.00,396.1 140.10,390.5 140.20,394.9 140.30,391.4 140.40,390.7 140.50,389.6 140.60,393.2 140.70,393.3 140.80,390.4 140.90,395.8 141.00,392.2 141.10,391.5 141.20,389.6 141.30,393.3 141.40,393.4 141.50,392.7 141.60,394.9 141.70,393.5 141.80,391.0 141.90,391.9 142.00,395.8 142.10,393.7 142.20,398.5 142.30,389.4 142.40,394.5 142.50,391.9 142.60,395.4 142.70,392.7 142.80,390.8 142.90,388.6 143.00,396.0 143.10,389.5 143.20,392.9 143.30,394.9 143.40,390.5 143.50,393.5 143.60,393.7 143.70,394.4 143.80,392.0 143.90,392.5 144.00,393.6 144.10,395.8 144.20,394.5 144.30,391.9 144.40,388.5 144.50,393.8 144.60,387.6 144.70,393.5 144.80,396.8 144.90,392.1 145.00,397.1 145.10,392.6 145.20,390.6 145.30,395.7 145.40,395.7 145.50,385.2 145.60,394.3 145.70,393.7 145.80,391.5 145.90,395.1 146.00,395.2 146.10,394.2 146.20,401.9 146.30,389.3 146.40,396.6 146.50,397.4 146.60,391.3 146.70,393.5 146.80,396.3 146.90,392.0 147.00,396.6 147.10,395.3 147.20,396.8 147.30,395.4 147.40,391.0 147.50,390.9 147.60,391.7 147.70,387.2 147.80,392.5 147.90,392.2 148.00,394.1 148.10,383.9 148.20,394.3 148.30,390.2 148.40,389.6 148.50,392.5 148.60,386.8 148.70,392.2 148.80,393.8 148.90,395.3 149.00,396.3 149.10,389.0 149.20,387.3 149.30,387.3 149.40,392.8 149.50,395.8 149.60,392.9 149.70,393.2 149.80,396.5 149.90,390.0 150.00,385.3 150.10,381.8 150.20,393.8 150.30,389.9 150.40,382.5 150.50,395.1 150.60,393.9 150.70,385.2 150.80,391.0 150.90,396.1 151.00,386.6 151.10,387.7 151.20,386.4 151.30,385.2 151.40,390.8 151.50,375.8 151.60,383.7 151.70,387.9 151.80,390.6 151.90,383.7 152.00,390.9 152.10,387.7 152.20,390.3 152.30,384.5 152.40,382.2 152.50,384.0 152.60,385.8 152.70,388.6 152.80,393.2 152.90,392.6 153.00,390.6 153.10,387.2 153.20,383.5 153.30,384.1 153.40,386.8 153.50,394.3 153.60,385.5 153.70,387.6 153.80,396.3 153.90,395.1 154.00,388.9 154.10,394.5 154.20,377.1 154.30,390.8 154.40,394.5 154.50,391.5 154.60,382.3 154.70,394.2 154.80,386.9 154.90,391.1 155.00,386.5 155.10,389.8 155.20,393.2 155.30,387.6 155.40,392.3 155.50,388.7 155.60,389.7 155.70,382.7 155.80,393.2 155.90,390.6 156.00,390.9 156.10,391.9 156.20,391.9 156.30,390.7 156.40,388.6 156.50,392.6 156.60,394.2 156.70,387.0 156.80,391.9 156.90,394.5 157.00,388.5 157.10,389.2 157.20,399.9 157.30,393.3 157.40,388.9 157.50,388.9 157.60,393.5 157.70,385.6 157.80,394.3 157.90,392.0 158.00,390.7 158.10,391.3 158.20,387.4 158.30,386.8 158.40,390.4 158.50,384.0 158.60,392.4 158.70,391.6 158.80,384.4 158.90,390.8 159.00,387.1 159.10,392.8 159.20,392.6 159.30,392.5 159.40,392.0 159.50,392.9 159.60,391.6 159.70,389.3 159.80,387.0 159.90,392.4 160.00,390.5 160.10,389.0 160.20,395.7 160.30,397.7 160.40,386.4 160.50,387.9 160.60,392.7 160.70,391.1 160.80,394.7 160.90,395.6 161.00,390.5 161.10,396.3 161.20,388.2 161.30,393.5 161.40,390.0 161.50,383.1 161.60,383.9 161.70,392.3 161.80,386.8 161.90,394.8 162.00,393.8 162.10,390.8 162.20,387.1 162.30,393.4 162.40,390.4 162.50,392.5 162.60,396.7 162.70,394.7 162.80,388.2 162.90,394.2 163.00,391.7 163.10,390.7 163.20,395.5 163.30,388.1 163.40,386.8 163.50,386.3 163.60,387.1 163.70,393.0 163.80,394.7 163.90,394.9 164.00,395.1 164.10,393.7 164.20,389.1 164.30,387.4 164.40,394.4 164.50,390.1 164.60,396.1 164.70,394.4 164.80,393.6 164.90,398.0 165.00,391.3 165.10,391.8 165.20,392.2 165.30,391.9 165.40,395.2 165.50,390.9 165.60,394.0 165.70,389.6 165.80,392.4 165.90,387.2 166.00,388.8 166.10,384.9 166.20,386.4 166.30,389.5 166.40,389.5 166.50,394.3 166.60,392.4 166.70,386.4 166.80,384.1 166.90,399.5 167.00,394.7 167.10,387.1 167.20,389.1 167.30,389.6 167.40,393.3 167.50,394.7 167.60,390.7 167.70,395.2 167.80,393.1 167.90,386.7 168.00,382.2 168.10,393.4 168.20,385.4 168.30,384.5 168.40,389.1 168.50,382.9 168.60,388.5 168.70,389.2 168.80,385.7 168.90,379.9 169.00,377.9 169.10,381.4 169.20,384.8 169.30,392.7 169.40,384.9 169.50,382.4 169.60,386.0 169.70,385.8 169.80,375.4 169.90,383.0 170.00,383.9 170.10,381.8 170.20,390.1 170.30,383.0 170.40,383.7 170.50,389.2 170.60,384.6 170.70,388.6 170.80,391.8 170.90,388.6 171.00,384.5 171.10,389.1 171.20,385.8 171.30,389.7 171.40,395.5 171.50,388.2 171.60,392.0 171.70,386.5 171.80,387.2 171.90,393.4 172.00,391.6 172.10,399.9 172.20,386.9 172.30,381.0 172.40,383.3 172.50,389.4 172.60,393.6 172.70,386.2 172.80,385.4 172.90,389.1 173.00,385.8 173.10,384.1 173.20,382.5 173.30,391.3 173.40,377.1 173.50,392.0 173.60,386.2 173.70,389.5 173.80,390.8 173.90,393.2 174.00,392.7 174.10,388.3 174.20,382.4 174.30,393.2 174.40,390.8 174.50,388.8 174.60,392.7 174.70,383.6 174.80,394.7 174.90,393.5 175.00,395.7 175.10,386.3 175.20,391.9 175.30,381.7 175.40,394.5 175.50,390.3 175.60,388.8 175.70,389.4 175.80,382.1 175.90,382.5 176.00,381.5 176.10,391.6 176.20,386.0 176.30,386.1 176.40,388.8 176.50,390.1 176.60,390.8 176.70,394.7 176.80,391.7 176.90,385.6 177.00,395.7 177.10,392.3 177.20,388.9 177.30,396.1 177.40,391.8 177.50,396.3 177.60,393.0 177.70,395.5 177.80,394.4 177.90,393.4 178.00,392.3 178.10,391.4 178.20,397.8 178.30,385.7 178.40,392.7 178.50,394.2 178.60,393.2 178.70,391.7 178.80,395.8 178.90,394.5 179.00,395.0 179.10,390.9 179.20,396.0 179.30,392.4 179.40,392.7 179.50,395.0 179.60,388.3 179.70,393.3 179.80,396.9 179.90,385.9 180.00,392.3 180.10,393.5 180.20,392.6 180.30,384.1 180.40,392.5 180.50,390.9 180.60,392.1 180.70,384.7 180.80,391.7 180.90,393.9 181.00,394.8 181.10,387.6 181.20,386.2 181.30,394.8 181.40,389.1 181.50,384.7 181.60,383.7 181.70,393.2 181.80,389.5 181.90,384.9 182.00,386.5 182.10,387.4 182.20,391.1 182.30,390.9 182.40,389.0 182.50,388.7 182.60,392.6 182.70,390.2 182.80,381.8 182.90,388.5 183.00,381.8 183.10,389.7 183.20,383.4 183.30,390.4 183.40,385.6 183.50,386.9 183.60,393.3 183.70,386.2 183.80,393.1 183.90,391.0 184.00,392.6 184.10,395.7 184.20,383.2 184.30,384.4 184.40,387.3 184.50,383.4 184.60,395.9 184.70,397.0 184.80,391.5 184.90,387.9 185.00,394.5 185.10,382.9 185.20,378.9 185.30,387.2 185.40,387.3 185.50,395.2 185.60,382.8 185.70,383.1 185.80,387.6 185.90,383.9 186.00,388.7 186.10,386.6 186.20,379.2 186.30,376.0 186.40,379.2 186.50,386.6 186.60,394.2 186.70,377.1 186.80,394.4 186.90,391.9 187.00,393.8 187.10,382.0 187.20,393.2 187.30,397.2 187.40,389.3 187.50,395.6 187.60,390.8 187.70,379.9 187.80,392.8 187.90,387.3 188.00,384.5 188.10,389.2 188.20,383.8 188.30,377.4 188.40,388.0 188.50,391.1 188.60,384.3 188.70,387.8 188.80,390.1 188.90,388.0 189.00,382.2 189.10,394.3 189.20,383.9 189.30,381.6 189.40,395.0 189.50,389.0 189.60,381.6 189.70,385.5 189.80,392.8 189.90,385.5 190.00,390.6 190.10,391.3 190.20,388.5 190.30,379.6 190.40,386.1 190.50,391.6 190.60,388.8 190.70,385.0 190.80,384.2 190.90,390.9 191.00,392.3 191.10,394.4 191.20,391.6 191.30,393.8 191.40,394.7 191.50,383.5 191.60,398.2 191.70,394.9 191.80,392.1 191.90,389.6 192.00,387.0 192.10,396.7 192.20,395.9 192.30,393.6 192.40,393.0 192.50,394.6 192.60,394.5 192.70,386.9 192.80,394.9 192.90,394.2 193.00,386.3 193.10,386.3 193.20,389.8 193.30,395.8 193.40,395.5 193.50,395.5 193.60,395.2 193.70,393.8 193.80,388.2 193.90,392.8 194.00,395.0 194.10,395.5 194.20,396.6 194.30,389.2 194.40,399.1 194.50,392.3 194.60,397.9 194.70,395.9 194.80,397.4 194.90,389.5 195.00,393.8 195.10,382.6 195.20,396.6 195.30,395.8 195.40,390.1 195.50,391.2 195.60,393.2 195.70,398.9 195.80,387.6 195.90,390.9 196.00,391.5 196.10,393.7 196.20,390.4 196.30,393.9 196.40,392.5 196.50,392.7 196.60,387.7 196.70,393.1 196.80,393.0 196.90,388.7 197.00,391.5 197.10,391.9 197.20,392.0 197.30,386.9 197.40,393.7 197.50,388.8 197.60,383.4 197.70,389.9 197.80,392.6 197.90,395.0 198.00,390.6 198.10,394.4 198.20,396.7 198.30,394.2 198.40,393.1 198.50,388.5 198.60,394.6 198.70,387.6 198.80,395.6 198.90,391.9 199.00,391.8 199.10,392.5 199.20,392.1 199.30,396.4 199.40,396.7 199.50,394.8 199.60,396.4 199.70,394.9 199.80,388.4 199.90,393.9 200.00,391.4 200.10,397.2 200.20,393.4 200.30,393.8 200.40,392.5 200.50,392.1 200.60,391.9 200.70,390.7 200.80,392.8 200.90,387.3 201.00,386.2 201.10,391.3 201.20,385.5 201.30,388.8 201.40,381.8 201.50,382.6 201.60,388.9 201.70,388.3 201.80,381.3 201.90,395.4 202.00,383.3 202.10,384.2 202.20,380.5 202.30,390.4 202.40,383.3 202.50,394.5 202.60,392.4 202.70,383.6 202.80,380.4 202.90,390.5 203.00,389.8 203.10,370.5 203.20,380.0 203.30,392.5 203.40,385.0 203.50,400.5 203.60,386.5 203.70,393.0 203.80,389.9 203.90,387.6 204.00,387.6 204.10,392.1 204.20,390.4 204.30,386.2 204.40,391.1 204.50,390.6 204.60,392.6 204.70,396.5 204.80,387.6 204.90,381.8 205.00,387.5 205.10,391.3 205.20,392.7 205.30,387.4 205.40,395.1 205.50,382.2 205.60,391.3 205.70,390.2 205.80,392.0 205.90,396.0 206.00,383.4 206.10,392.9 206.20,392.0 206.30,391.5 206.40,394.9 206.50,389.7 206.60,392.5 206.70,389.0 206.80,390.8 206.90,393.9 207.00,387.4 207.10,389.2 207.20,392.8 207.30,389.5 207.40,389.5 207.50,382.8 207.60,392.7 207.70,387.0 207.80,390.5 207.90,388.2 208.00,391.7 208.10,391.0 208.20,389.8 208.30,396.0 208.40,398.8 208.50,393.4 208.60,395.8 208.70,393.4 208.80,391.6 208.90,393.7 209.00,388.0 209.10,392.6 209.20,392.1 209.30,389.2 209.40,390.8 209.50,394.1 209.60,393.2 209.70,395.7 209.80,394.8 209.90,392.3 210.00,387.6 210.10,392.9 210.20,389.1 210.30,384.0 210.40,384.2 210.50,393.6 210.60,389.6 210.70,391.5 210.80,390.9 210.90,389.4 211.00,391.5 211.10,388.5 211.20,392.8 211.30,393.0 211.40,390.8 211.50,389.0 211.60,389.0 211.70,392.6 211.80,390.8 211.90,387.0 212.00,395.0 212.10,394.5 212.20,390.7 212.30,390.1 212.40,395.4 212.50,388.0 212.60,392.7 212.70,393.2 212.80,383.9 212.90,393.1 213.00,392.6 213.10,394.3 213.20,387.0 213.30,389.0 213.40,393.4 213.50,387.9 213.60,390.9 213.70,392.4 213.80,386.1 213.90,385.3 214.00,383.7 214.10,385.6 214.20,393.4 214.30,383.9 214.40,393.4 214.50,383.7 214.60,399.4 214.70,395.7 214.80,391.9 214.90,383.9 215.00,383.9 215.10,392.9 215.20,381.8 215.30,384.9 215.40,378.3 215.50,378.8 215.60,378.8 215.70,388.7 215.80,378.9 215.90,385.4 216.00,385.1 216.10,394.5 216.20,382.8 216.30,373.5 216.40,391.9 216.50,378.9 216.60,391.5 216.70,385.3 216.80,390.3 216.90,381.9 217.00,387.9 217.10,398.8 217.20,381.5 217.30,384.4 217.40,396.8 217.50,388.1 217.60,392.4 217.70,387.9 217.80,379.0 217.90,386.4 218.00,383.3 218.10,373.9 218.20,374.4 218.30,376.5 218.40,382.2 218.50,386.9 218.60,376.5 218.70,392.9 218.80,377.5 218.90,385.0 219.00,387.7 219.10,365.6 219.20,378.0 219.30,380.5 219.40,374.9 219.50,391.6 219.60,389.9 219.70,378.1 219.80,376.8 219.90,393.3 220.00,392.8 220.10,389.5 220.20,381.6 220.30,371.9 220.40,388.0 220.50,387.0 220.60,386.9 220.70,384.1 220.80,386.9 220.90,390.3 221.00,381.4 221.10,384.8 221.20,393.0 221.30,377.1 221.40,388.6 221.50,394.1 221.60,383.3 221.70,400.2 221.80,389.1 221.90,389.3 222.00,376.8 222.10,384.6 222.20,394.2 222.30,390.9 222.40,388.4 222.50,385.8 222.60,392.1 222.70,389.0 222.80,388.8 222.90,386.9 223.00,391.1 223.10,392.3 223.20,389.9 223.30,389.8 223.40,395.1 223.50,393.5 223.60,388.8 223.70,388.4 223.80,387.4 223.90,388.7 224.00,388.0 224.10,395.4 224.20,391.8 224.30,389.2 224.40,397.2 224.50,395.7 224.60,396.6 224.70,396.2 224.80,395.0 224.90,396.0 225.00,390.4 225.10,394.9 225.20,393.6 225.30,394.5 225.40,396.4 225.50,389.6 225.60,392.8 225.70,390.5 225.80,395.6 225.90,390.9 226.00,392.2 226.10,394.1 226.20,399.6 226.30,390.1 226.40,390.1 226.50,393.7 226.60,392.7 226.70,392.5 226.80,391.7 226.90,395.4 227.00,392.5 227.10,390.6 227.20,394.5 227.30,395.2 227.40,384.5 227.50,390.3 227.60,394.0 227.70,393.9 227.80,400.1 227.90,396.6 228.00,393.8 228.10,388.1 228.20,398.8 228.30,395.1 228.40,385.3 228.50,390.2 228.60,391.9 228.70,388.2 228.80,393.1 228.90,392.8 229.00,388.6 229.10,387.9 229.20,394.9 229.30,386.2 229.40,397.8 229.50,394.1 229.60,379.3 229.70,393.1 229.80,388.6 229.90,394.0 230.00,392.0 230.10,392.5 230.20,391.8 230.30,388.2 230.40,383.8 230.50,387.9 230.60,385.7 230.70,393.9 230.80,385.0 230.90,388.1 231.00,385.0 231.10,392.3 231.20,392.1 231.30,386.3 231.40,389.4 231.50,391.9 231.60,394.8 231.70,393.1 231.80,390.6 231.90,389.9 232.00,393.9 232.10,392.8 232.20,389.6 232.30,395.4 232.40,388.6 232.50,392.4 232.60,392.1 232.70,399.0 232.80,396.6 232.90,394.9 233.00,392.6 233.10,394.0 233.20,389.7 233.30,391.0 233.40,392.1 233.50,397.3 233.60,386.8 233.70,393.4 233.80,390.2 233.90,394.6 234.00,379.5 234.10,346.9 234.20,298.2 234.30,250.6 234.40,230.3 234.50,250.6 234.60,298.2 234.70,346.9 234.80,379.5 234.90,395.3 235.00,396.1 235.10,399.0 235.20,388.9 235.30,398.8 235.40,391.2 235.50,392.7 235.60,389.7 235.70,387.2 235.80,394.2 235.90,394.8 236.00,393.4 236.10,397.4 236.20,389.0 236.30,393.7 236.40,391.9 236.50,395.9 236.60,393.0 236.70,394.8 236.80,393.2 236.90,396.5 237.00,389.0 237.10,395.5 237.20,401.3 237.30,392.0 237.40,395.7 237.50,396.5 237.60,384.0 237.70,393.6 237.80,397.2 237.90,394.6 238.00,391.8 238.10,393.7 238.20,388.1 238.30,389.1 238.40,396.3 238.50,394.2 238.60,391.3 238.70,395.1 238.80,395.3 238.90,390.3 239.00,391.9 239.10,397.3 239.20,395.8 239.30,395.5 239.40,394.6 239.50,395.6 239.60,387.6 239.70,395.9 239.80,396.0 239.90,392.2 240.00,399.1 240.10,396.1 240.20,390.8 240.30,397.1 240.40,395.4 240.50,388.4 240.60,391.4 240.70,392.7 240.80,391.3 240.90,394.8 241.00,392.0 241.10,394.1 241.20,383.2 241.30,391.4 241.40,394.6 241.50,394.0 241.60,393.2 241.70,396.9 241.80,395.2 241.90,387.4 242.00,397.7 242.10,395.2 242.20,389.3 242.30,387.7 242.40,396.0 242.50,387.3 242.60,394.4 242.70,387.4 242.80,392.1 242.90,394.0 243.00,389.8 243.10,390.5 243.20,394.9 243.30,383.7 243.40,392.8 243.50,387.5 243.60,393.4 243.70,397.5 243.80,395.5 243.90,392.4 244.00,389.2 244.10,384.7 244.20,390.8 244.30,391.6 244.40,394.6 244.50,391.8 244.60,390.9 244.70,398.0 244.80,386.5 244.90,386.8 245.00,382.1 245.10,394.3 245.20,391.1 245.30,391.3 245.40,395.6 245.50,394.5 245.60,394.9 245.70,390.6 245.80,391.0 245.90,386.7 246.00,393.0 246.10,395.4 246.20,390.1 246.30,390.4 246.40,389.9 246.50,387.7 246.60,394.0 246.70,389.4 246.80,395.4 246.90,392.3 247.00,389.6 247.10,392.5 247.20,391.1 247.30,395.8 247.40,394.0 247.50,391.4 247.60,395.6 247.70,394.5 247.80,382.9 247.90,391.2 248.00,393.9 248.10,394.1 248.20,385.3 248.30,399.3 248.40,392.3 248.50,389.2 248.60,393.4 248.70,390.4 248.80,395.4 248.90,392.3 249.00,392.6 249.10,393.0 249.20,392.7 249.30,393.7 249.40,389.8 249.50,395.5 249.60,396.9 249.70,396.4 249.80,395.8 249.90,398.8 250.00,400.5 250.10,399.2 250.20,394.6 250.30,397.7 250.40,397.8 250.50,385.0 250.60,391.6 250.70,396.6 250.80,396.6 250.90,389.9 251.00,397.3 251.10,390.5 251.20,393.3 251.30,390.2 251.40,398.3 251.50,392.6 251.60,401.4 251.70,396.6 251.80,391.4 251.90,392.2 252.00,400.3 252.10,392.5 252.20,393.5 252.30,395.5 252.40,397.5 252.50,396.1 252.60,396.5 252.70,391.0 252.80,392.6 252.90,390.1 253.00,391.0 253.10,396.7 253.20,392.7 253.30,385.3 253.40,396.5 253.50,392.4 253.60,395.5 253.70,395.7 253.80,392.2 253.90,388.6 254.00,389.0 254.10,390.5 254.20,388.6 254.30,396.6 254.40,389.1 254.50,391.9 254.60,393.5 254.70,392.3 254.80,394.7 254.90,388.2 255.00,394.5 255.10,396.5 255.20,391.7 255.30,393.4 255.40,392.5 255.50,386.7 255.60,392.6 255.70,391.5 255.80,383.4 255.90,395.7 256.00,390.1 256.10,387.1 256.20,386.5 256.30,383.0 256.40,393.2 256.50,388.7 256.60,391.6 256.70,394.0 256.80,395.1 256.90,396.6 257.00,391.2 257.10,389.7 257.20,396.3 257.30,390.5 257.40,395.7 257.50,397.1 257.60,402.1 257.70,389.4 257.80,391.0 257.90,395.5 258.00,396.3 258.10,398.9 258.20,392.6 258.30,394.7 258.40,393.3 258.50,394.8 258.60,399.6 258.70,399.2 258.80,393.5 258.90,399.3 259.00,393.5 259.10,390.6 259.20,398.7 259.30,392.8 259.40,395.3 259.50,393.8 259.60,397.4 259.70,395.6 259.80,394.1 259.90,388.3 260.00,393.0 260.10,387.1 260.20,399.6 260.30,394.2 260.40,397.0 260.50,394.8 260.60,393.2 260.70,389.8 260.80,391.0 260.90,392.3 261.00,392.8 261.10,386.9 261.20,394.5 261.30,391.6 261.40,385.8 261.50,391.2 261.60,387.6 261.70,387.4 261.80,383.2 261.90,387.1 262.00,396.7 262.10,392.4 262.20,391.0 262.30,389.0 262.40,390.6 262.50,384.3 262.60,387.3 262.70,394.8 262.80,393.2 262.90,397.4 263.00,385.4 263.10,391.8 263.20,392.3 263.30,396.1 263.40,392.7 263.50,389.2 263.60,392.2 263.70,392.5 263.80,393.7 263.90,384.1 264.00,393.7 264.10,396.7 264.20,394.5 264.30,393.9 264.40,393.0 264.50,392.8 264.60,395.8 264.70,392.9 264.80,390.9 264.90,396.4 265.00,384.7 265.10,385.9 265.20,397.0 265.30,392.4 265.40,387.8 265.50,386.4 265.60,384.5 265.70,396.7 265.80,395.0 265.90,393.0 266.00,389.9 266.10,394.5 266.20,389.8 266.30,389.9 266.40,382.3 266.50,394.9 266.60,391.4 266.70,392.4 266.80,393.7 266.90,387.1 267.00,393.0 267.10,386.1 267.20,393.3 267.30,384.5 267.40,385.2 267.50,393.8 267.60,390.1 267.70,390.6 267.80,394.5 267.90,389.0 268.00,390.2 268.10,394.5 268.20,391.4 268.30,388.4 268.40,392.5 268.50,394.4 268.60,386.1 268.70,395.5 268.80,391.1 268.90,387.6 269.00,388.9 269.10,397.2 269.20,392.4 269.30,392.2 269.40,391.9 269.50,388.9 269.60,388.7 269.70,390.4 269.80,390.1 269.90,387.2 270.00,385.4 270.10,395.5 270.20,381.7 270.30,393.0 270.40,388.5 270.50,396.8 270.60,395.2 270.70,397.5 270.80,389.6 270.90,390.8 271.00,394.7 271.10,395.6 271.20,393.9 271.30,397.2 271.40,396.2 271.50,397.1 271.60,391.9 271.70,394.5 271.80,398.0 271.90,393.6 272.00,391.9 272.10,386.9 272.20,394.1 272.30,391.1 272.40,383.6 272.50,392.7 272.60,392.9 272.70,389.9 272.80,393.5 272.90,392.1 273.00,393.8 273.10,394.8 273.20,389.3 273.30,394.2 273.40,395.2 273.50,393.8 273.60,393.3 273.70,392.1 273.80,389.0 273.90,385.7 274.00,396.2 274.10,393.6 274.20,397.9 274.30,392.1 274.40,390.4 274.50,394.4 274.60,394.4 274.70,394.3 274.80,395.6 274.90,389.4 275.00,384.1 275.10,395.5 275.20,385.2 275.30,392.4 275.40,396.5 275.50,391.2 275.60,390.2 275.70,391.4 275.80,393.1 275.90,385.6 276.00,393.1 276.10,390.3 276.20,390.0 276.30,394.6 276.40,396.9 276.50,396.6 276.60,393.2 276.70,391.1 276.80,396.5 276.90,393.4 277.00,384.7 277.10,395.5 277.20,389.0 277.30,389.8 277.40,388.6 277.50,395.8 277.60,390.5 277.70,396.0 277.80,387.1 277.90,395.2 278.00,391.3 278.10,394.8 278.20,391.7 278.30,396.9 278.40,391.4 278.50,390.3 278.60,393.3 278.70,387.3 278.80,392.9 278.90,390.8 279.00,392.0 279.10,385.9 279.20,395.9 279.30,394.9 279.40,394.7 279.50,391.8 279.60,393.9 279.70,392.3 279.80,394.4 279.90,397.6 280.00,395.8 280.10,393.2 280.20,401.0 280.30,388.6 280.40,396.0 280.50,395.4 280.60,393.3 280.70,394.3 280.80,397.3 280.90,393.7 281.00,387.2 281.10,387.8 281.20,387.2 281.30,394.2 281.40,392.7 281.50,388.7 281.60,387.2 281.70,393.1 281.80,396.0 281.90,398.8 282.00,387.8 282.10,397.6 282.20,392.5 282.30,391.2 282.40,382.1 282.50,394.5 282.60,395.4 282.70,392.3 282.80,392.0 282.90,388.5 283.00,390.9 283.10,395.9 283.20,399.5 283.30,392.7 283.40,395.9 283.50,388.1 283.60,398.2 283.70,392.8 283.80,396.0 283.90,395.9 284.00,387.0 284.10,394.2 284.20,396.3 284.30,392.7 284.40,398.6 284.50,397.5 284.60,397.9 284.70,388.0 284.80,394.0 284.90,392.3 285.00,390.0 285.10,394.5 285.20,394.5 285.30,398.3 285.40,391.8 285.50,392.3 285.60,393.8 285.70,387.2 285.80,397.0 285.90,389.6 286.00,395.4 286.10,395.4 286.20,392.8 286.30,387.2 286.40,397.0 286.50,396.5 286.60,398.2 286.70,386.2 286.80,392.7 286.90,392.8 287.00,386.5 287.10,394.2 287.20,401.0 287.30,396.5 287.40,398.4 287.50,386.0 287.60,398.4 287.70,392.8 287.80,395.2 287.90,394.5 288.00,393.3 288.10,393.7 288.20,396.4 288.30,397.8 288.40,396.5 288.50,397.2 288.60,396.5 288.70,393.7 288.80,394.5 288.90,392.5 289.00,395.1 289.10,386.3 289.20,396.5 289.30,397.5 289.40,390.0 289.50,396.4 289.60,393.7 289.70,389.2 289.80,393.2 289.90,393.5 290.00,388.4 290.10,391.2 290.20,393.7 290.30,395.4 290.40,392.9 290.50,396.7 290.60,394.5 290.70,394.7 290.80,390.4 290.90,388.6 291.00,392.7 291.10,392.2 291.20,393.5 291.30,394.7 291.40,392.1 291.50,388.2 291.60,388.7 291.70,388.7 291.80,392.6 291.90,399.7 292.00,388.0 292.10,386.7 292.20,388.6 292.30,388.2 292.40,387.8 292.50,381.6 292.60,391.1 292.70,386.9 292.80,389.7 292.90,390.2 293.00,393.8 293.10,394.1 293.20,396.8 293.30,391.6 293.40,394.6 293.50,397.2 293.60,394.9 293.70,396.5 293.80,386.3 293.90,393.9 294.00,393.3 294.10,397.6 294.20,396.7 294.30,389.5 294.40,394.3 294.50,392.1 294.60,385.9 294.70,384.6 294.80,389.0 294.90,389.5 295.00,390.9 295.10,393.5 295.20,383.5 295.30,396.0 295.40,392.0 295.50,397.6 295.60,395.6 295.70,390.6 295.80,390.2 295.90,390.6 296.00,393.1 296.10,393.5 296.20,392.5 296.30,392.0 296.40,386.6 296.50,385.4 296.60,389.8 296.70,393.5 296.80,394.2 296.90,390.3 297.00,391.7 297.10,396.4 297.20,385.7 297.30,391.9 297.40,393.2 297.50,395.2 297.60,396.1" fill="none" stroke="#000" stroke-width="1.15" stroke-linejoin="bevel"/>
<polygon points="28.50,328.70 27.30,342.40 26.20,355.00 25.10,373.00 23.30,390.00 37.80,390.00 36.00,373.00 34.40,355.00 33.20,342.40 29.30,328.70" fill="#6a6a6a"/>
<polygon points="28.99,328.70 28.14,342.40 27.35,355.00 26.56,373.00 25.26,390.00 35.70,390.00 34.40,373.00 33.25,355.00 32.39,342.40 29.59,328.70" fill="#000"/>
<polygon points="129.80,234.00 128.70,260.00 127.00,285.00 126.40,310.00 126.20,330.00 125.10,350.00 123.70,366.50 123.40,386.00 122.80,394.00 141.80,394.00 141.00,386.00 138.10,366.50 136.70,350.00 135.30,330.00 135.40,310.00 134.40,285.00 134.40,260.00 131.80,234.00" fill="#6a6a6a"/>
<polygon points="130.08,234.00 129.29,260.00 128.06,285.00 127.63,310.00 127.49,330.00 126.70,350.00 125.69,366.50 125.47,386.00 125.04,394.00 138.72,394.00 138.14,386.00 136.06,366.50 135.05,350.00 134.04,330.00 134.11,310.00 133.39,285.00 133.39,260.00 131.52,234.00" fill="#000"/>
<line x1="128.4" y1="300" x2="128.4" y2="388" stroke="#fff" stroke-width="0.7"/>
<polygon points="233.20,266.00 231.90,277.00 232.30,297.00 231.00,314.00 229.80,332.00 228.70,360.00 227.70,376.00 226.30,392.00 243.80,392.00 242.40,376.00 240.30,360.00 238.90,332.00 238.90,314.00 238.00,297.00 236.80,277.00 236.40,266.00" fill="#6a6a6a"/>
<polygon points="233.65,266.00 232.71,277.00 233.00,297.00 232.06,314.00 231.20,332.00 230.41,360.00 229.69,376.00 228.68,392.00 241.28,392.00 240.27,376.00 238.76,360.00 237.75,332.00 237.75,314.00 237.10,297.00 236.24,277.00 235.95,266.00" fill="#000"/>
<line x1="233.4" y1="248" x2="233.4" y2="268" stroke="#777" stroke-width="1.3"/>
<line x1="235.4" y1="240" x2="235.4" y2="268" stroke="#555" stroke-width="1.2"/>
<line x1="232.5" y1="262" x2="232.5" y2="280" stroke="#666" stroke-width="1.2"/>
<line x1="312" y1="404.5" x2="601.7" y2="404.5" stroke="#000" stroke-width="1.5"/><line x1="329.30" y1="404.5" x2="329.30" y2="412.2" stroke="#000" stroke-width="1"/><line x1="363.09" y1="404.5" x2="363.09" y2="412.2" stroke="#000" stroke-width="1"/><line x1="396.88" y1="404.5" x2="396.88" y2="412.2" stroke="#000" stroke-width="1"/><line x1="430.66" y1="404.5" x2="430.66" y2="412.2" stroke="#000" stroke-width="1"/><line x1="464.45" y1="404.5" x2="464.45" y2="412.2" stroke="#000" stroke-width="1"/><line x1="498.24" y1="404.5" x2="498.24" y2="412.2" stroke="#000" stroke-width="1"/><line x1="532.03" y1="404.5" x2="532.03" y2="412.2" stroke="#000" stroke-width="1"/><line x1="565.81" y1="404.5" x2="565.81" y2="412.2" stroke="#000" stroke-width="1"/><line x1="599.60" y1="404.5" x2="599.60" y2="412.2" stroke="#000" stroke-width="1"/>
<polyline points="313.80,396.9 313.90,395.0 314.00,389.4 314.10,392.8 314.20,399.4 314.30,394.7 314.40,396.3 314.50,393.6 314.60,398.1 314.70,392.6 314.80,393.1 314.90,388.1 315.00,392.2 315.10,391.5 315.20,397.6 315.30,385.9 315.40,399.1 315.50,390.1 315.60,395.1 315.70,396.8 315.80,396.5 315.90,396.4 316.00,393.7 316.10,396.1 316.20,390.6 316.30,399.7 316.40,395.3 316.50,398.1 316.60,393.1 316.70,400.9 316.80,396.1 316.90,394.7 317.00,399.4 317.10,391.9 317.20,395.2 317.30,392.1 317.40,392.7 317.50,398.4 317.60,397.3 317.70,395.7 317.80,393.3 317.90,392.7 318.00,397.7 318.10,397.4 318.20,398.6 318.30,397.4 318.40,396.7 318.50,397.3 318.60,389.4 318.70,397.6 318.80,397.3 318.90,394.8 319.00,398.5 319.10,397.1 319.20,396.5 319.30,393.1 319.40,398.9 319.50,381.9 319.60,396.5 319.70,394.6 319.80,393.0 319.90,393.6 320.00,391.7 320.10,394.7 320.20,394.8 320.30,393.3 320.40,396.6 320.50,390.9 320.60,397.1 320.70,398.7 320.80,388.4 320.90,395.9 321.00,399.2 321.10,389.7 321.20,397.3 321.30,392.9 321.40,398.9 321.50,397.5 321.60,401.4 321.70,402.7 321.80,400.7 321.90,399.1 322.00,395.6 322.10,389.9 322.20,400.6 322.30,394.4 322.40,400.0 322.50,398.3 322.60,401.4 322.70,401.5 322.80,398.9 322.90,399.4 323.00,395.8 323.10,397.9 323.20,391.6 323.30,394.9 323.40,394.3 323.50,391.0 323.60,393.4 323.70,395.6 323.80,396.6 323.90,396.2 324.00,392.1 324.10,393.2 324.20,394.2 324.30,393.0 324.40,397.4 324.50,394.8 324.60,400.1 324.70,391.5 324.80,395.7 324.90,395.3 325.00,393.9 325.10,396.1 325.20,396.1 325.30,390.6 325.40,394.5 325.50,397.2 325.60,393.1 325.70,399.3 325.80,388.6 325.90,394.7 326.00,393.7 326.10,386.1 326.20,386.5 326.30,393.8 326.40,392.2 326.50,390.7 326.60,388.9 326.70,395.4 326.80,394.2 326.90,390.9 327.00,394.4 327.10,393.1 327.20,393.4 327.30,399.2 327.40,398.6 327.50,403.1 327.60,397.0 327.70,391.6 327.80,399.7 327.90,392.5 328.00,392.9 328.10,395.9 328.20,396.1 328.30,396.1 328.40,398.1 328.50,396.4 328.60,395.6 328.70,393.7 328.80,393.1 328.90,397.8 329.00,393.0 329.10,397.3 329.20,396.0 329.30,393.9 329.40,395.2 329.50,395.9 329.60,395.2 329.70,397.7 329.80,397.9 329.90,397.4 330.00,394.1 330.10,398.4 330.20,391.5 330.30,396.8 330.40,404.0 330.50,398.8 330.60,392.2 330.70,397.7 330.80,398.9 330.90,400.6 331.00,393.2 331.10,393.5 331.20,394.5 331.30,395.7 331.40,391.5 331.50,393.1 331.60,398.8 331.70,392.8 331.80,394.7 331.90,395.8 332.00,392.4 332.10,394.8 332.20,403.0 332.30,389.7 332.40,390.9 332.50,394.9 332.60,395.3 332.70,392.9 332.80,396.8 332.90,392.4 333.00,393.9 333.10,394.3 333.20,396.1 333.30,395.7 333.40,390.3 333.50,389.9 333.60,392.4 333.70,393.6 333.80,395.6 333.90,390.9 334.00,387.8 334.10,398.3 334.20,390.6 334.30,400.5 334.40,396.1 334.50,393.7 334.60,398.5 334.70,398.9 334.80,394.3 334.90,391.3 335.00,395.2 335.10,390.2 335.20,394.5 335.30,380.5 335.40,359.7 335.50,339.4 335.60,330.7 335.70,339.4 335.80,359.7 335.90,380.5 336.00,394.5 336.10,397.6 336.20,399.9 336.30,399.1 336.40,397.5 336.50,398.5 336.60,398.4 336.70,398.2 336.80,395.8 336.90,401.5 337.00,400.8 337.10,394.1 337.20,395.8 337.30,400.4 337.40,394.4 337.50,400.0 337.60,398.4 337.70,402.5 337.80,395.0 337.90,398.1 338.00,393.6 338.10,394.8 338.20,396.2 338.30,396.0 338.40,392.0 338.50,396.5 338.60,396.1 338.70,394.8 338.80,392.0 338.90,390.9 339.00,387.8 339.10,395.3 339.20,390.4 339.30,396.2 339.40,392.1 339.50,393.8 339.60,387.5 339.70,392.3 339.80,395.6 339.90,392.5 340.00,393.2 340.10,396.1 340.20,396.2 340.30,397.7 340.40,385.5 340.50,395.0 340.60,391.7 340.70,398.2 340.80,398.1 340.90,395.5 341.00,395.4 341.10,392.7 341.20,397.8 341.30,393.0 341.40,389.8 341.50,396.8 341.60,390.6 341.70,396.4 341.80,393.1 341.90,393.8 342.00,389.3 342.10,396.9 342.20,394.9 342.30,391.8 342.40,398.7 342.50,395.9 342.60,398.1 342.70,397.5 342.80,393.7 342.90,394.0 343.00,388.6 343.10,392.7 343.20,392.6 343.30,397.4 343.40,397.7 343.50,395.7 343.60,402.8 343.70,390.9 343.80,399.0 343.90,400.1 344.00,399.6 344.10,395.6 344.20,395.1 344.30,400.2 344.40,397.0 344.50,398.3 344.60,400.4 344.70,397.6 344.80,389.7 344.90,402.3 345.00,394.4 345.10,401.8 345.20,396.1 345.30,399.2 345.40,398.9 345.50,398.0 345.60,393.0 345.70,399.1 345.80,396.2 345.90,390.1 346.00,397.5 346.10,396.3 346.20,393.5 346.30,396.6 346.40,392.9 346.50,396.2 346.60,392.2 346.70,395.4 346.80,398.8 346.90,390.6 347.00,395.1 347.10,396.2 347.20,396.7 347.30,395.8 347.40,395.2 347.50,394.6 347.60,390.8 347.70,398.9 347.80,397.2 347.90,392.3 348.00,395.9 348.10,394.8 348.20,390.7 348.30,394.5 348.40,394.8 348.50,397.0 348.60,389.8 348.70,392.5 348.80,397.7 348.90,394.0 349.00,398.7 349.10,392.4 349.20,393.1 349.30,395.6 349.40,395.9 349.50,399.1 349.60,392.4 349.70,395.1 349.80,395.3 349.90,391.8 350.00,395.4 350.10,395.7 350.20,395.9 350.30,398.4 350.40,385.8 350.50,394.7 350.60,395.1 350.70,391.5 350.80,403.0 350.90,395.4 351.00,396.4 351.10,398.5 351.20,394.1 351.30,400.8 351.40,395.8 351.50,393.0 351.60,402.1 351.70,400.3 351.80,396.4 351.90,396.0 352.00,397.9 352.10,394.9 352.20,395.1 352.30,398.7 352.40,395.8 352.50,398.4 352.60,400.6 352.70,401.8 352.80,393.3 352.90,396.5 353.00,388.2 353.10,400.4 353.20,397.0 353.30,395.8 353.40,396.0 353.50,392.9 353.60,393.8 353.70,397.5 353.80,402.7 353.90,394.4 354.00,390.6 354.10,393.9 354.20,388.7 354.30,392.4 354.40,396.3 354.50,398.0 354.60,387.2 354.70,388.5 354.80,392.4 354.90,388.5 355.00,394.6 355.10,393.1 355.20,386.9 355.30,392.2 355.40,391.8 355.50,391.9 355.60,383.1 355.70,387.9 355.80,385.9 355.90,397.2 356.00,396.7 356.10,393.4 356.20,393.0 356.30,395.6 356.40,395.6 356.50,392.2 356.60,382.2 356.70,386.5 356.80,386.1 356.90,387.0 357.00,389.7 357.10,386.7 357.20,394.9 357.30,381.3 357.40,388.4 357.50,392.2 357.60,390.6 357.70,392.4 357.80,394.3 357.90,394.5 358.00,392.3 358.10,398.7 358.20,396.5 358.30,394.1 358.40,396.6 358.50,394.2 358.60,391.1 358.70,401.0 358.80,395.4 358.90,396.2 359.00,396.1 359.10,397.9 359.20,395.8 359.30,395.9 359.40,393.4 359.50,397.2 359.60,392.0 359.70,396.9 359.80,392.6 359.90,392.3 360.00,399.4 360.10,393.4 360.20,389.4 360.30,398.5 360.40,396.0 360.50,397.5 360.60,397.2 360.70,398.3 360.80,399.0 360.90,395.1 361.00,394.6 361.10,397.1 361.20,391.7 361.30,393.0 361.40,393.4 361.50,397.5 361.60,388.4 361.70,390.3 361.80,400.7 361.90,397.8 362.00,396.5 362.10,392.1 362.20,390.8 362.30,395.8 362.40,393.8 362.50,392.4 362.60,398.6 362.70,392.9 362.80,395.9 362.90,395.0 363.00,395.2 363.10,398.5 363.20,397.7 363.30,394.4 363.40,393.5 363.50,395.4 363.60,390.9 363.70,396.5 363.80,397.9 363.90,395.6 364.00,395.5 364.10,395.6 364.20,391.6 364.30,394.5 364.40,391.4 364.50,393.6 364.60,396.4 364.70,392.4 364.80,396.9 364.90,395.9 365.00,398.4 365.10,394.8 365.20,396.3 365.30,395.1 365.40,388.0 365.50,388.2 365.60,392.0 365.70,396.4 365.80,393.2 365.90,394.9 366.00,396.8 366.10,394.9 366.20,395.7 366.30,396.3 366.40,389.5 366.50,394.4 366.60,395.1 366.70,392.4 366.80,395.0 366.90,396.5 367.00,393.8 367.10,392.1 367.20,390.0 367.30,390.6 367.40,393.4 367.50,395.2 367.60,390.8 367.70,393.2 367.80,389.6 367.90,395.2 368.00,393.7 368.10,394.0 368.20,392.4 368.30,400.5 368.40,391.6 368.50,398.4 368.60,395.4 368.70,392.7 368.80,394.2 368.90,389.4 369.00,389.5 369.10,395.6 369.20,392.9 369.30,395.0 369.40,387.5 369.50,390.1 369.60,382.5 369.70,388.6 369.80,392.5 369.90,396.1 370.00,387.6 370.10,391.3 370.20,396.5 370.30,388.1 370.40,396.5 370.50,386.8 370.60,386.2 370.70,392.3 370.80,393.9 370.90,393.4 371.00,395.5 371.10,394.1 371.20,379.4 371.30,389.1 371.40,391.3 371.50,392.8 371.60,398.9 371.70,377.1 371.80,390.9 371.90,392.6 372.00,386.8 372.10,376.8 372.20,392.3 372.30,383.2 372.40,389.3 372.50,379.5 372.60,373.4 372.70,376.2 372.80,386.5 372.90,395.6 373.00,392.3 373.10,382.0 373.20,393.8 373.30,382.7 373.40,383.6 373.50,393.2 373.60,391.6 373.70,369.6 373.80,394.4 373.90,372.1 374.00,373.6 374.10,386.0 374.20,372.9 374.30,391.0 374.40,387.5 374.50,379.7 374.60,376.4 374.70,379.7 374.80,374.5 374.90,391.5 375.00,390.9 375.10,392.3 375.20,395.7 375.30,373.1 375.40,376.7 375.50,370.0 375.60,385.9 375.70,376.1 375.80,391.9 375.90,389.9 376.00,369.9 376.10,389.0 376.20,386.3 376.30,381.8 376.40,389.7 376.50,383.2 376.60,388.4 376.70,389.3 376.80,397.9 376.90,380.4 377.00,386.0 377.10,381.1 377.20,395.0 377.30,381.2 377.40,386.6 377.50,382.7 377.60,383.1 377.70,378.9 377.80,394.9 377.90,393.5 378.00,392.3 378.10,395.8 378.20,400.4 378.30,396.6 378.40,389.4 378.50,400.7 378.60,388.0 378.70,383.0 378.80,383.5 378.90,386.1 379.00,397.8 379.10,393.1 379.20,389.1 379.30,391.5 379.40,393.0 379.50,386.9 379.60,391.9 379.70,390.7 379.80,395.9 379.90,387.4 380.00,388.2 380.10,392.8 380.20,375.3 380.30,391.2 380.40,388.3 380.50,396.0 380.60,392.3 380.70,392.4 380.80,393.3 380.90,395.0 381.00,394.4 381.10,391.6 381.20,392.9 381.30,394.8 381.40,399.9 381.50,390.9 381.60,393.8 381.70,398.3 381.80,395.9 381.90,385.7 382.00,392.4 382.10,392.4 382.20,391.3 382.30,392.9 382.40,397.9 382.50,395.2 382.60,395.2 382.70,397.1 382.80,395.8 382.90,396.2 383.00,393.2 383.10,397.7 383.20,386.1 383.30,399.5 383.40,397.4 383.50,393.1 383.60,398.2 383.70,396.5 383.80,393.6 383.90,402.5 384.00,396.0 384.10,397.3 384.20,396.0 384.30,393.6 384.40,392.3 384.50,388.7 384.60,388.8 384.70,390.1 384.80,392.8 384.90,389.4 385.00,396.1 385.10,393.4 385.20,388.3 385.30,390.7 385.40,397.4 385.50,395.1 385.60,390.5 385.70,391.1 385.80,389.9 385.90,399.2 386.00,398.7 386.10,395.7 386.20,398.2 386.30,395.4 386.40,396.4 386.50,395.1 386.60,397.2 386.70,395.6 386.80,395.1 386.90,396.0 387.00,399.9 387.10,392.3 387.20,397.0 387.30,395.5 387.40,396.2 387.50,400.1 387.60,391.5 387.70,397.2 387.80,399.2 387.90,390.4 388.00,394.9 388.10,394.0 388.20,391.7 388.30,389.3 388.40,396.5 388.50,397.8 388.60,390.2 388.70,391.2 388.80,399.8 388.90,390.6 389.00,387.4 389.10,384.5 389.20,392.6 389.30,387.0 389.40,387.3 389.50,386.1 389.60,397.2 389.70,386.9 389.80,385.3 389.90,388.7 390.00,388.8 390.10,384.4 390.20,391.7 390.30,401.3 390.40,391.7 390.50,393.3 390.60,394.6 390.70,389.8 390.80,396.1 390.90,387.4 391.00,392.4 391.10,392.7 391.20,387.5 391.30,392.1 391.40,393.4 391.50,397.0 391.60,392.9 391.70,389.8 391.80,390.6 391.90,397.9 392.00,389.4 392.10,389.0 392.20,392.1 392.30,395.9 392.40,398.6 392.50,398.2 392.60,398.0 392.70,395.1 392.80,393.6 392.90,396.3 393.00,400.9 393.10,397.3 393.20,398.6 393.30,391.4 393.40,398.6 393.50,394.5 393.60,393.2 393.70,398.8 393.80,387.6 393.90,393.8 394.00,391.6 394.10,397.4 394.20,397.9 394.30,385.2 394.40,402.0 394.50,392.6 394.60,391.2 394.70,400.6 394.80,397.8 394.90,390.9 395.00,396.2 395.10,396.3 395.20,394.6 395.30,391.2 395.40,390.8 395.50,394.8 395.60,401.5 395.70,397.4 395.80,398.8 395.90,396.0 396.00,395.6 396.10,391.2 396.20,397.3 396.30,392.6 396.40,396.7 396.50,397.8 396.60,390.5 396.70,396.5 396.80,397.3 396.90,398.0 397.00,396.1 397.10,395.0 397.20,396.8 397.30,399.2 397.40,395.0 397.50,398.1 397.60,397.2 397.70,395.9 397.80,395.7 397.90,403.0 398.00,390.1 398.10,393.6 398.20,389.7 398.30,387.0 398.40,398.9 398.50,397.4 398.60,394.9 398.70,392.8 398.80,397.2 398.90,396.2 399.00,392.3 399.10,398.8 399.20,395.5 399.30,392.6 399.40,397.1 399.50,394.2 399.60,397.6 399.70,401.5 399.80,399.1 399.90,398.0 400.00,398.5 400.10,397.1 400.20,395.0 400.30,395.9 400.40,396.6 400.50,397.4 400.60,396.6 400.70,396.6 400.80,397.4 400.90,390.8 401.00,400.2 401.10,393.5 401.20,398.0 401.30,395.0 401.40,390.1 401.50,393.7 401.60,388.7 401.70,395.9 401.80,393.9 401.90,394.6 402.00,392.7 402.10,393.0 402.20,393.2 402.30,392.1 402.40,388.7 402.50,392.4 402.60,393.2 402.70,394.6 402.80,395.6 402.90,398.0 403.00,396.9 403.10,394.2 403.20,400.4 403.30,393.5 403.40,397.0 403.50,398.4 403.60,397.9 403.70,394.6 403.80,395.5 403.90,395.9 404.00,390.9 404.10,388.5 404.20,400.3 404.30,394.1 404.40,398.7 404.50,400.2 404.60,398.0 404.70,393.0 404.80,396.7 404.90,397.9 405.00,392.0 405.10,395.3 405.20,397.2 405.30,390.6 405.40,395.7 405.50,398.2 405.60,399.2 405.70,396.9 405.80,395.5 405.90,392.8 406.00,392.6 406.10,394.9 406.20,398.5 406.30,392.9 406.40,395.9 406.50,399.1 406.60,399.3 406.70,395.3 406.80,394.9 406.90,393.2 407.00,399.6 407.10,390.1 407.20,401.3 407.30,396.0 407.40,391.1 407.50,392.6 407.60,399.1 407.70,393.8 407.80,391.5 407.90,392.5 408.00,397.7 408.10,389.9 408.20,400.0 408.30,395.8 408.40,399.0 408.50,397.7 408.60,397.2 408.70,395.3 408.80,400.5 408.90,396.9 409.00,393.1 409.10,397.4 409.20,395.9 409.30,396.6 409.40,399.8 409.50,398.5 409.60,397.3 409.70,396.2 409.80,390.1 409.90,391.1 410.00,397.9 410.10,397.6 410.20,398.6 410.30,401.0 410.40,390.4 410.50,394.3 410.60,401.1 410.70,396.2 410.80,387.2 410.90,393.7 411.00,393.7 411.10,394.6 411.20,396.6 411.30,398.1 411.40,396.8 411.50,394.5 411.60,396.0 411.70,393.3 411.80,390.3 411.90,394.7 412.00,392.8 412.10,396.5 412.20,398.5 412.30,388.0 412.40,392.7 412.50,391.5 412.60,396.5 412.70,399.8 412.80,390.8 412.90,401.9 413.00,396.0 413.10,397.1 413.20,394.9 413.30,393.3 413.40,392.3 413.50,400.6 413.60,391.2 413.70,399.8 413.80,392.2 413.90,396.0 414.00,398.1 414.10,396.8 414.20,399.0 414.30,395.1 414.40,391.5 414.50,392.4 414.60,394.7 414.70,391.4 414.80,392.8 414.90,388.0 415.00,394.0 415.10,397.9 415.20,397.3 415.30,399.3 415.40,398.2 415.50,397.8 415.60,394.2 415.70,394.8 415.80,397.3 415.90,395.4 416.00,399.2 416.10,398.6 416.20,403.1 416.30,399.1 416.40,397.9 416.50,387.9 416.60,399.7 416.70,396.6 416.80,397.2 416.90,399.8 417.00,394.9 417.10,396.5 417.20,399.6 417.30,401.9 417.40,394.5 417.50,399.1 417.60,392.4 417.70,395.8 417.80,392.8 417.90,395.1 418.00,387.1 418.10,391.7 418.20,387.4 418.30,388.2 418.40,396.3 418.50,393.6 418.60,389.6 418.70,392.1 418.80,392.4 418.90,382.5 419.00,391.8 419.10,388.0 419.20,389.1 419.30,390.3 419.40,389.5 419.50,391.1 419.60,383.4 419.70,394.1 419.80,394.3 419.90,387.5 420.00,389.5 420.10,391.0 420.20,384.5 420.30,389.9 420.40,395.5 420.50,390.0 420.60,388.4 420.70,389.8 420.80,387.4 420.90,390.1 421.00,389.4 421.10,395.3 421.20,399.5 421.30,390.9 421.40,396.3 421.50,392.8 421.60,392.6 421.70,388.9 421.80,392.8 421.90,389.4 422.00,387.9 422.10,394.6 422.20,393.1 422.30,392.3 422.40,396.4 422.50,388.6 422.60,396.2 422.70,398.3 422.80,394.9 422.90,393.1 423.00,392.8 423.10,394.5 423.20,394.9 423.30,398.8 423.40,390.5 423.50,387.8 423.60,395.1 423.70,397.5 423.80,389.8 423.90,393.3 424.00,403.1 424.10,394.6 424.20,396.7 424.30,396.5 424.40,386.0 424.50,390.5 424.60,394.2 424.70,393.9 424.80,389.0 424.90,398.3 425.00,391.5 425.10,395.6 425.20,391.0 425.30,393.2 425.40,395.8 425.50,390.7 425.60,392.8 425.70,388.3 425.80,395.9 425.90,394.4 426.00,396.4 426.10,390.5 426.20,396.6 426.30,394.6 426.40,389.9 426.50,393.2 426.60,395.2 426.70,395.1 426.80,394.7 426.90,393.5 427.00,397.0 427.10,401.4 427.20,391.0 427.30,398.9 427.40,388.9 427.50,394.9 427.60,384.3 427.70,391.4 427.80,394.4 427.90,392.6 428.00,400.1 428.10,395.1 428.20,397.2 428.30,396.3 428.40,402.3 428.50,402.1 428.60,393.4 428.70,396.0 428.80,397.4 428.90,396.6 429.00,397.7 429.10,397.7 429.20,394.4 429.30,397.6 429.40,394.6 429.50,398.1 429.60,400.8 429.70,398.2 429.80,397.0 429.90,399.7 430.00,397.4 430.10,397.9 430.20,393.0 430.30,393.5 430.40,392.8 430.50,398.4 430.60,394.2 430.70,390.6 430.80,394.0 430.90,393.9 431.00,395.9 431.10,390.9 431.20,393.0 431.30,389.4 431.40,393.1 431.50,386.3 431.60,393.4 431.70,396.8 431.80,392.7 431.90,391.4 432.00,389.0 432.10,395.7 432.20,396.1 432.30,395.3 432.40,396.3 432.50,400.8 432.60,392.8 432.70,390.2 432.80,397.0 432.90,397.7 433.00,394.7 433.10,396.4 433.20,391.2 433.30,395.2 433.40,391.9 433.50,396.8 433.60,396.7 433.70,396.6 433.80,396.5 433.90,390.8 434.00,389.9 434.10,393.0 434.20,393.2 434.30,399.9 434.40,390.0 434.50,397.3 434.60,389.7 434.70,385.8 434.80,394.9 434.90,392.9 435.00,392.8 435.10,399.0 435.20,398.8 435.30,398.1 435.40,395.7 435.50,392.5 435.60,382.3 435.70,363.1 435.80,344.2 435.90,336.2 436.00,344.2 436.10,363.1 436.20,382.3 436.30,391.8 436.40,397.5 436.50,397.3 436.60,395.1 436.70,398.3 436.80,392.7 436.90,393.7 437.00,394.0 437.10,395.4 437.20,396.4 437.30,397.6 437.40,394.1 437.50,390.0 437.60,392.5 437.70,393.9 437.80,392.1 437.90,391.2 438.00,399.4 438.10,395.9 438.20,391.6 438.30,397.7 438.40,397.4 438.50,394.2 438.60,396.6 438.70,392.2 438.80,396.9 438.90,394.2 439.00,386.8 439.10,391.5 439.20,398.7 439.30,397.6 439.40,397.6 439.50,395.3 439.60,398.5 439.70,393.0 439.80,389.4 439.90,390.3 440.00,398.3 440.10,397.0 440.20,396.2 440.30,397.8 440.40,388.9 440.50,397.2 440.60,398.4 440.70,394.7 440.80,394.7 440.90,390.5 441.00,390.2 441.10,396.4 441.20,402.1 441.30,394.0 441.40,392.9 441.50,388.9 441.60,400.2 441.70,399.6 441.80,391.0 441.90,391.1 442.00,392.0 442.10,396.8 442.20,392.0 442.30,398.0 442.40,399.6 442.50,397.2 442.60,396.3 442.70,393.6 442.80,392.3 442.90,400.9 443.00,394.6 443.10,393.5 443.20,398.5 443.30,395.9 443.40,395.2 443.50,394.4 443.60,397.8 443.70,397.2 443.80,398.9 443.90,395.2 444.00,396.6 444.10,398.2 444.20,393.9 444.30,395.9 444.40,399.1 444.50,392.8 444.60,393.2 444.70,395.3 444.80,399.2 444.90,392.7 445.00,397.8 445.10,401.2 445.20,396.4 445.30,390.0 445.40,398.0 445.50,394.8 445.60,391.7 445.70,396.1 445.80,397.6 445.90,396.9 446.00,394.6 446.10,398.2 446.20,394.9 446.30,394.5 446.40,396.6 446.50,393.5 446.60,394.3 446.70,397.2 446.80,396.3 446.90,394.7 447.00,395.4 447.10,395.0 447.20,397.1 447.30,394.6 447.40,391.9 447.50,392.1 447.60,396.4 447.70,392.7 447.80,392.8 447.90,397.7 448.00,393.7 448.10,396.3 448.20,396.8 448.30,394.9 448.40,396.1 448.50,401.0 448.60,395.0 448.70,398.2 448.80,395.3 448.90,392.9 449.00,396.0 449.10,396.9 449.20,395.9 449.30,394.8 449.40,399.0 449.50,397.8 449.60,394.2 449.70,389.8 449.80,395.5 449.90,392.7 450.00,397.6 450.10,395.6 450.20,395.9 450.30,399.4 450.40,395.2 450.50,395.5 450.60,401.0 450.70,394.2 450.80,392.2 450.90,391.8 451.00,391.3 451.10,395.0 451.20,394.6 451.30,394.0 451.40,395.6 451.50,394.8 451.60,388.7 451.70,395.1 451.80,393.7 451.90,387.1 452.00,393.9 452.10,396.7 452.20,392.8 452.30,393.5 452.40,394.3 452.50,399.2 452.60,393.9 452.70,393.5 452.80,387.3 452.90,391.8 453.00,395.8 453.10,394.1 453.20,392.9 453.30,396.0 453.40,395.9 453.50,390.5 453.60,393.4 453.70,393.5 453.80,397.4 453.90,392.9 454.00,399.7 454.10,390.5 454.20,396.0 454.30,392.4 454.40,389.9 454.50,396.7 454.60,390.0 454.70,393.0 454.80,389.6 454.90,394.7 455.00,396.3 455.10,390.0 455.20,393.3 455.30,395.0 455.40,398.4 455.50,390.6 455.60,396.9 455.70,396.1 455.80,397.1 455.90,395.1 456.00,393.4 456.10,395.6 456.20,395.8 456.30,396.8 456.40,389.9 456.50,388.5 456.60,395.4 456.70,397.2 456.80,394.0 456.90,398.9 457.00,393.6 457.10,393.7 457.20,394.3 457.30,389.2 457.40,388.7 457.50,393.3 457.60,395.7 457.70,391.5 457.80,390.9 457.90,398.1 458.00,397.8 458.10,396.0 458.20,399.8 458.30,397.7 458.40,390.1 458.50,399.3 458.60,393.1 458.70,398.2 458.80,392.7 458.90,395.4 459.00,393.6 459.10,400.7 459.20,396.5 459.30,399.4 459.40,395.0 459.50,394.7 459.60,396.9 459.70,397.0 459.80,397.2 459.90,395.3 460.00,397.0 460.10,396.1 460.20,396.6 460.30,397.8 460.40,391.1 460.50,398.3 460.60,390.2 460.70,391.4 460.80,398.4 460.90,398.7 461.00,393.5 461.10,396.3 461.20,393.3 461.30,390.1 461.40,392.3 461.50,393.8 461.60,394.1 461.70,389.2 461.80,395.3 461.90,388.2 462.00,387.1 462.10,395.4 462.20,393.6 462.30,388.6 462.40,396.5 462.50,393.5 462.60,391.5 462.70,398.0 462.80,394.2 462.90,395.1 463.00,397.8 463.10,390.9 463.20,395.6 463.30,386.8 463.40,392.1 463.50,396.1 463.60,392.7 463.70,395.5 463.80,391.2 463.90,391.2 464.00,396.8 464.10,394.5 464.20,391.4 464.30,393.4 464.40,396.6 464.50,389.8 464.60,388.7 464.70,397.6 464.80,388.8 464.90,399.7 465.00,395.3 465.10,396.7 465.20,396.2 465.30,393.1 465.40,397.7 465.50,395.0 465.60,389.2 465.70,393.9 465.80,390.0 465.90,392.1 466.00,399.2 466.10,389.3 466.20,392.1 466.30,393.4 466.40,396.1 466.50,395.9 466.60,397.5 466.70,395.3 466.80,394.8 466.90,395.6 467.00,395.5 467.10,399.3 467.20,395.8 467.30,395.9 467.40,392.9 467.50,395.9 467.60,395.5 467.70,394.7 467.80,396.5 467.90,396.6 468.00,392.7 468.10,397.4 468.20,392.9 468.30,376.8 468.40,352.7 468.50,329.1 468.60,319.1 468.70,329.1 468.80,352.7 468.90,376.8 469.00,392.9 469.10,396.4 469.20,395.9 469.30,392.4 469.40,396.2 469.50,396.7 469.60,393.1 469.70,396.5 469.80,391.6 469.90,395.9 470.00,393.5 470.10,397.5 470.20,392.4 470.30,393.7 470.40,398.6 470.50,396.9 470.60,395.2 470.70,398.8 470.80,398.1 470.90,393.6 471.00,393.6 471.10,391.6 471.20,398.5 471.30,396.2 471.40,399.8 471.50,388.8 471.60,397.6 471.70,395.6 471.80,388.3 471.90,390.2 472.00,397.6 472.10,387.7 472.20,394.6 472.30,398.1 472.40,395.1 472.50,394.4 472.60,393.9 472.70,401.9 472.80,390.1 472.90,400.9 473.00,397.3 473.10,392.2 473.20,395.6 473.30,396.7 473.40,397.3 473.50,393.8 473.60,390.6 473.70,396.6 473.80,394.0 473.90,396.1 474.00,396.3 474.10,400.2 474.20,393.6 474.30,391.6 474.40,395.4 474.50,391.2 474.60,393.9 474.70,390.8 474.80,394.7 474.90,396.6 475.00,396.8 475.10,395.8 475.20,395.4 475.30,398.7 475.40,397.2 475.50,400.1 475.60,399.9 475.70,394.5 475.80,395.0 475.90,392.9 476.00,395.1 476.10,395.0 476.20,389.0 476.30,397.1 476.40,393.7 476.50,389.7 476.60,387.3 476.70,391.7 476.80,393.1 476.90,395.7 477.00,393.6 477.10,393.3 477.20,392.9 477.30,392.3 477.40,392.4 477.50,394.9 477.60,395.9 477.70,393.8 477.80,392.3 477.90,389.3 478.00,396.6 478.10,388.2 478.20,396.6 478.30,390.6 478.40,388.6 478.50,391.2 478.60,397.1 478.70,390.8 478.80,395.1 478.90,394.6 479.00,395.1 479.10,396.2 479.20,387.9 479.30,398.5 479.40,394.6 479.50,392.3 479.60,394.3 479.70,391.4 479.80,394.0 479.90,386.3 480.00,396.6 480.10,397.4 480.20,392.9 480.30,376.5 480.40,388.9 480.50,381.7 480.60,378.7 480.70,379.9 480.80,388.9 480.90,389.3 481.00,388.8 481.10,387.7 481.20,390.4 481.30,396.1 481.40,390.8 481.50,395.2 481.60,398.5 481.70,389.4 481.80,394.4 481.90,383.6 482.00,389.1 482.10,394.5 482.20,387.2 482.30,390.6 482.40,385.0 482.50,388.8 482.60,393.4 482.70,389.7 482.80,389.2 482.90,391.9 483.00,390.3 483.10,387.6 483.20,394.8 483.30,393.0 483.40,395.2 483.50,393.0 483.60,390.3 483.70,395.8 483.80,387.9 483.90,395.3 484.00,393.9 484.10,394.3 484.20,390.0 484.30,396.4 484.40,389.1 484.50,394.9 484.60,397.7 484.70,394.9 484.80,393.2 484.90,387.1 485.00,393.8 485.10,393.4 485.20,386.4 485.30,392.8 485.40,394.8 485.50,394.6 485.60,397.0 485.70,392.6 485.80,389.6 485.90,395.4 486.00,397.3 486.10,394.3 486.20,395.8 486.30,397.5 486.40,395.5 486.50,397.0 486.60,397.9 486.70,394.2 486.80,402.2 486.90,400.3 487.00,399.0 487.10,402.1 487.20,393.4 487.30,403.7 487.40,396.0 487.50,396.4 487.60,396.5 487.70,396.3 487.80,398.5 487.90,398.8 488.00,391.9 488.10,397.1 488.20,399.9 488.30,399.4 488.40,399.9 488.50,394.9 488.60,392.3 488.70,397.1 488.80,396.0 488.90,397.0 489.00,392.9 489.10,392.9 489.20,392.8 489.30,389.8 489.40,398.7 489.50,393.7 489.60,399.9 489.70,393.7 489.80,393.0 489.90,393.1 490.00,388.7 490.10,394.9 490.20,395.7 490.30,391.1 490.40,395.6 490.50,391.7 490.60,396.5 490.70,392.1 490.80,392.8 490.90,395.7 491.00,394.1 491.10,389.9 491.20,392.2 491.30,391.1 491.40,394.3 491.50,393.0 491.60,397.0 491.70,395.8 491.80,389.8 491.90,392.4 492.00,393.6 492.10,393.5 492.20,398.1 492.30,393.0 492.40,398.0 492.50,396.7 492.60,393.0 492.70,397.8 492.80,397.3 492.90,396.5 493.00,395.8 493.10,391.7 493.20,399.8 493.30,397.0 493.40,393.7 493.50,397.4 493.60,396.9 493.70,398.3 493.80,396.8 493.90,393.4 494.00,390.8 494.10,393.9 494.20,390.1 494.30,394.2 494.40,398.5 494.50,391.0 494.60,398.3 494.70,393.5 494.80,393.3 494.90,377.3 495.00,394.4 495.10,395.2 495.20,393.5 495.30,394.7 495.40,392.3 495.50,395.6 495.60,392.7 495.70,395.2 495.80,393.7 495.90,394.6 496.00,396.8 496.10,392.2 496.20,393.9 496.30,402.1 496.40,399.0 496.50,390.2 496.60,397.1 496.70,386.7 496.80,395.1 496.90,394.7 497.00,397.3 497.10,396.6 497.20,395.3 497.30,393.9 497.40,396.6 497.50,396.5 497.60,398.7 497.70,397.3 497.80,396.3 497.90,395.6 498.00,396.6 498.10,396.7 498.20,395.5 498.30,400.9 498.40,399.0 498.50,397.5 498.60,394.6 498.70,397.3 498.80,398.1 498.90,392.5 499.00,395.3 499.10,390.1 499.20,394.9 499.30,396.8 499.40,396.2 499.50,389.6 499.60,390.5 499.70,394.7 499.80,391.8 499.90,398.7 500.00,391.6 500.10,394.3 500.20,395.9 500.30,395.5 500.40,395.5 500.50,397.5 500.60,398.3 500.70,400.8 500.80,392.2 500.90,399.6 501.00,398.1 501.10,395.2 501.20,394.5 501.30,393.4 501.40,398.9 501.50,398.5 501.60,397.9 501.70,402.0 501.80,395.0 501.90,401.9 502.00,398.6 502.10,394.6 502.20,394.4 502.30,398.7 502.40,394.5 502.50,393.6 502.60,400.3 502.70,396.7 502.80,394.1 502.90,394.9 503.00,396.6 503.10,396.1 503.20,388.9 503.30,396.5 503.40,392.4 503.50,397.7 503.60,393.5 503.70,391.8 503.80,395.9 503.90,395.5 504.00,388.3 504.10,395.9 504.20,392.2 504.30,399.8 504.40,388.3 504.50,400.0 504.60,396.0 504.70,395.9 504.80,394.8 504.90,391.5 505.00,390.9 505.10,390.1 505.20,389.5 505.30,393.6 505.40,395.0 505.50,400.7 505.60,391.3 505.70,393.9 505.80,388.4 505.90,390.1 506.00,391.0 506.10,389.2 506.20,391.5 506.30,387.8 506.40,395.2 506.50,395.0 506.60,382.6 506.70,395.4 506.80,395.3 506.90,391.2 507.00,385.8 507.10,381.2 507.20,391.7 507.30,396.6 507.40,390.3 507.50,391.1 507.60,393.2 507.70,390.2 507.80,392.6 507.90,389.4 508.00,391.9 508.10,380.6 508.20,383.1 508.30,396.2 508.40,389.1 508.50,394.1 508.60,390.2 508.70,383.8 508.80,396.1 508.90,390.6 509.00,391.6 509.10,387.8 509.20,387.3 509.30,394.4 509.40,393.2 509.50,396.7 509.60,395.5 509.70,396.7 509.80,390.5 509.90,396.9 510.00,392.7 510.10,394.3 510.20,394.7 510.30,388.1 510.40,396.5 510.50,395.5 510.60,397.3 510.70,392.0 510.80,393.6 510.90,395.9 511.00,389.9 511.10,392.2 511.20,389.3 511.30,391.5 511.40,394.2 511.50,396.8 511.60,399.9 511.70,396.5 511.80,391.3 511.90,396.4 512.00,397.9 512.10,394.8 512.20,392.9 512.30,386.5 512.40,397.7 512.50,396.6 512.60,397.9 512.70,397.4 512.80,391.9 512.90,395.3 513.00,398.4 513.10,391.2 513.20,389.8 513.30,392.9 513.40,397.4 513.50,397.9 513.60,392.3 513.70,399.6 513.80,399.1 513.90,401.6 514.00,391.5 514.10,399.7 514.20,398.1 514.30,399.9 514.40,399.6 514.50,400.8 514.60,393.4 514.70,398.5 514.80,392.1 514.90,400.4 515.00,395.4 515.10,393.2 515.20,398.8 515.30,395.0 515.40,397.4 515.50,398.3 515.60,397.5 515.70,401.3 515.80,397.4 515.90,400.9 516.00,395.2 516.10,392.3 516.20,392.0 516.30,397.9 516.40,396.6 516.50,389.8 516.60,392.1 516.70,394.6 516.80,402.2 516.90,397.9 517.00,389.5 517.10,394.6 517.20,396.3 517.30,394.6 517.40,386.8 517.50,390.6 517.60,398.0 517.70,398.0 517.80,395.1 517.90,391.2 518.00,397.1 518.10,396.6 518.20,401.1 518.30,396.1 518.40,392.3 518.50,392.7 518.60,398.3 518.70,392.8 518.80,397.2 518.90,399.0 519.00,394.2 519.10,399.8 519.20,397.1 519.30,398.4 519.40,396.2 519.50,395.3 519.60,396.8 519.70,398.1 519.80,396.9 519.90,401.2 520.00,395.0 520.10,387.7 520.20,393.3 520.30,391.5 520.40,394.9 520.50,394.8 520.60,393.1 520.70,391.8 520.80,393.4 520.90,397.8 521.00,395.3 521.10,400.0 521.20,392.4 521.30,395.8 521.40,393.2 521.50,396.5 521.60,391.3 521.70,389.2 521.80,393.1 521.90,389.9 522.00,395.0 522.10,376.1 522.20,387.7 522.30,395.3 522.40,395.3 522.50,391.5 522.60,386.3 522.70,378.0 522.80,374.5 522.90,378.0 523.00,386.3 523.10,382.8 523.20,388.4 523.30,394.1 523.40,395.4 523.50,384.9 523.60,387.6 523.70,398.4 523.80,393.4 523.90,390.8 524.00,384.4 524.10,389.8 524.20,388.1 524.30,389.8 524.40,395.8 524.50,397.1 524.60,391.1 524.70,395.4 524.80,394.1 524.90,389.2 525.00,395.6 525.10,400.3 525.20,397.5 525.30,396.5 525.40,391.8 525.50,397.9 525.60,397.5 525.70,400.8 525.80,396.3 525.90,397.3 526.00,394.7 526.10,399.2 526.20,394.2 526.30,399.7 526.40,398.1 526.50,397.8 526.60,396.4 526.70,395.0 526.80,403.3 526.90,397.4 527.00,397.4 527.10,399.7 527.20,396.7 527.30,394.9 527.40,397.2 527.50,397.3 527.60,395.2 527.70,399.3 527.80,393.9 527.90,396.1 528.00,395.9 528.10,395.8 528.20,392.8 528.30,398.8 528.40,392.7 528.50,399.7 528.60,395.9 528.70,395.3 528.80,396.4 528.90,399.6 529.00,399.8 529.10,398.6 529.20,396.2 529.30,395.0 529.40,393.8 529.50,399.7 529.60,393.6 529.70,392.1 529.80,394.0 529.90,394.8 530.00,391.4 530.10,389.5 530.20,389.5 530.30,389.3 530.40,398.1 530.50,389.7 530.60,395.8 530.70,392.3 530.80,397.1 530.90,394.2 531.00,396.9 531.10,397.0 531.20,389.3 531.30,399.7 531.40,393.1 531.50,395.8 531.60,398.8 531.70,391.0 531.80,395.6 531.90,397.2 532.00,395.4 532.10,398.4 532.20,390.5 532.30,400.4 532.40,397.5 532.50,401.2 532.60,394.9 532.70,392.2 532.80,391.4 532.90,389.2 533.00,394.8 533.10,395.9 533.20,391.8 533.30,396.4 533.40,393.6 533.50,395.7 533.60,396.3 533.70,394.1 533.80,390.1 533.90,390.8 534.00,393.1 534.10,400.9 534.20,394.7 534.30,393.6 534.40,392.8 534.50,396.2 534.60,390.3 534.70,392.4 534.80,398.7 534.90,391.0 535.00,387.6 535.10,392.7 535.20,396.1 535.30,387.2 535.40,389.8 535.50,398.8 535.60,390.0 535.70,391.7 535.80,392.0 535.90,397.5 536.00,397.5 536.10,392.8 536.20,387.3 536.30,393.8 536.40,394.6 536.50,397.1 536.60,395.6 536.70,390.8 536.80,396.8 536.90,388.7 537.00,393.4 537.10,393.5 537.20,379.0 537.30,343.3 537.40,290.2 537.50,238.1 537.60,216.0 537.70,238.1 537.80,290.2 537.90,343.3 538.00,379.0 538.10,395.9 538.20,396.2 538.30,397.4 538.40,395.0 538.50,397.8 538.60,396.7 538.70,397.1 538.80,394.5 538.90,397.6 539.00,395.0 539.10,403.2 539.20,391.6 539.30,395.1 539.40,393.5 539.50,395.3 539.60,391.5 539.70,394.5 539.80,394.3 539.90,394.7 540.00,396.2 540.10,397.4 540.20,393.0 540.30,393.4 540.40,395.7 540.50,391.4 540.60,395.4 540.70,394.2 540.80,392.0 540.90,393.2 541.00,396.2 541.10,398.8 541.20,398.7 541.30,398.4 541.40,393.0 541.50,404.0 541.60,388.3 541.70,397.9 541.80,391.4 541.90,394.2 542.00,393.7 542.10,398.9 542.20,391.9 542.30,395.7 542.40,392.5 542.50,397.0 542.60,394.8 542.70,396.1 542.80,394.3 542.90,393.2 543.00,396.2 543.10,394.0 543.20,393.5 543.30,395.3 543.40,395.6 543.50,399.9 543.60,390.9 543.70,394.5 543.80,396.3 543.90,395.7 544.00,398.3 544.10,397.9 544.20,395.1 544.30,400.7 544.40,397.2 544.50,395.8 544.60,401.0 544.70,399.9 544.80,392.3 544.90,389.6 545.00,395.9 545.10,394.4 545.20,398.4 545.30,390.8 545.40,395.2 545.50,394.3 545.60,392.4 545.70,395.6 545.80,395.9 545.90,394.7 546.00,397.2 546.10,396.2 546.20,402.0 546.30,398.8 546.40,393.9 546.50,391.7 546.60,393.9 546.70,397.8 546.80,395.1 546.90,397.7 547.00,398.0 547.10,392.5 547.20,396.8 547.30,396.8 547.40,395.6 547.50,393.3 547.60,396.1 547.70,396.3 547.80,394.2 547.90,396.1 548.00,397.3 548.10,402.4 548.20,399.4 548.30,397.4 548.40,399.8 548.50,391.2 548.60,389.0 548.70,390.8 548.80,398.9 548.90,394.3 549.00,393.9 549.10,393.7 549.20,399.0 549.30,391.9 549.40,388.7 549.50,390.6 549.60,385.9 549.70,394.9 549.80,392.2 549.90,390.2 550.00,396.8 550.10,394.8 550.20,397.0 550.30,392.1 550.40,398.0 550.50,394.6 550.60,396.9 550.70,391.6 550.80,397.0 550.90,395.1 551.00,393.8 551.10,397.6 551.20,396.0 551.30,394.3 551.40,395.8 551.50,392.5 551.60,395.5 551.70,393.2 551.80,393.1 551.90,394.7 552.00,395.9 552.10,398.6 552.20,394.2 552.30,392.2 552.40,394.7 552.50,390.2 552.60,397.5 552.70,396.3 552.80,400.3 552.90,392.1 553.00,399.1 553.10,392.8 553.20,393.1 553.30,376.5 553.40,388.0 553.50,394.0 553.60,391.5 553.70,385.6 553.80,393.2 553.90,399.2 554.00,389.2 554.10,395.6 554.20,393.2 554.30,393.8 554.40,392.1 554.50,391.8 554.60,389.1 554.70,385.3 554.80,394.1 554.90,397.9 555.00,387.3 555.10,395.0 555.20,392.4 555.30,381.0 555.40,389.8 555.50,376.0 555.60,396.9 555.70,388.1 555.80,394.4 555.90,383.2 556.00,385.4 556.10,392.9 556.20,397.5 556.30,388.5 556.40,389.8 556.50,372.3 556.60,385.6 556.70,397.7 556.80,387.2 556.90,387.7 557.00,387.4 557.10,375.8 557.20,384.3 557.30,383.2 557.40,385.4 557.50,390.8 557.60,395.2 557.70,390.0 557.80,388.2 557.90,391.5 558.00,398.7 558.10,391.9 558.20,395.0 558.30,386.7 558.40,378.6 558.50,375.2 558.60,378.6 558.70,386.7 558.80,393.8 558.90,391.5 559.00,396.4 559.10,389.6 559.20,379.3 559.30,386.5 559.40,391.8 559.50,395.6 559.60,389.4 559.70,393.5 559.80,391.2 559.90,373.7 560.00,397.0 560.10,375.1 560.20,391.4 560.30,383.2 560.40,390.8 560.50,389.2 560.60,397.4 560.70,388.5 560.80,396.0 560.90,379.3 561.00,387.9 561.10,389.2 561.20,395.1 561.30,395.9 561.40,394.5 561.50,396.7 561.60,385.4 561.70,393.6 561.80,399.0 561.90,396.0 562.00,392.6 562.10,393.3 562.20,398.9 562.30,396.1 562.40,397.3 562.50,395.9 562.60,393.2 562.70,391.8 562.80,390.2 562.90,384.2 563.00,395.8 563.10,390.0 563.20,393.4 563.30,394.0 563.40,391.2 563.50,389.5 563.60,389.6 563.70,394.0 563.80,387.0 563.90,392.3 564.00,389.4 564.10,398.0 564.20,391.8 564.30,398.0 564.40,395.1 564.50,397.2 564.60,398.5 564.70,393.7 564.80,398.2 564.90,396.7 565.00,401.9 565.10,389.7 565.20,402.7 565.30,397.9 565.40,389.8 565.50,400.4 565.60,390.5 565.70,392.8 565.80,398.8 565.90,399.6 566.00,399.5 566.10,397.6 566.20,395.4 566.30,393.9 566.40,404.0 566.50,396.4 566.60,397.0 566.70,403.6 566.80,396.9 566.90,397.2 567.00,396.9 567.10,400.6 567.20,397.1 567.30,394.5 567.40,399.8 567.50,399.1 567.60,399.4 567.70,393.9 567.80,397.5 567.90,398.9 568.00,399.5 568.10,400.4 568.20,395.2 568.30,392.2 568.40,390.4 568.50,397.2 568.60,396.4 568.70,397.0 568.80,396.6 568.90,398.1 569.00,389.6 569.10,393.4 569.20,396.3 569.30,401.9 569.40,390.7 569.50,392.0 569.60,394.6 569.70,393.2 569.80,397.9 569.90,393.8 570.00,396.8 570.10,395.0 570.20,395.6 570.30,399.0 570.40,399.1 570.50,392.7 570.60,392.8 570.70,396.8 570.80,398.0 570.90,396.6 571.00,394.7 571.10,400.0 571.20,392.0 571.30,397.4 571.40,399.0 571.50,396.5 571.60,388.5 571.70,398.4 571.80,397.7 571.90,399.5 572.00,394.8 572.10,392.1 572.20,395.9 572.30,394.2 572.40,396.0 572.50,393.5 572.60,393.7 572.70,396.9 572.80,397.8 572.90,398.5 573.00,390.4 573.10,399.3 573.20,392.8 573.30,393.0 573.40,392.8 573.50,393.6 573.60,392.2 573.70,397.5 573.80,388.0 573.90,396.0 574.00,384.3 574.10,394.0 574.20,395.4 574.30,396.3 574.40,383.7 574.50,382.7 574.60,382.7 574.70,389.5 574.80,385.2 574.90,392.4 575.00,381.4 575.10,396.2 575.20,396.5 575.30,393.5 575.40,377.8 575.50,393.9 575.60,398.1 575.70,380.8 575.80,382.0 575.90,396.7 576.00,386.0 576.10,390.8 576.20,370.2 576.30,378.0 576.40,383.9 576.50,392.2 576.60,395.0 576.70,391.7 576.80,383.6 576.90,375.4 577.00,380.7 577.10,395.4 577.20,389.4 577.30,390.8 577.40,375.3 577.50,385.5 577.60,384.0 577.70,364.6 577.80,394.2 577.90,388.2 578.00,365.8 578.10,392.3 578.20,381.6 578.30,371.2 578.40,366.8 578.50,370.3 578.60,381.6 578.70,392.3 578.80,396.4 578.90,379.7 579.00,394.8 579.10,389.0 579.20,387.2 579.30,375.2 579.40,399.2 579.50,395.6 579.60,395.4 579.70,376.3 579.80,377.2 579.90,384.3 580.00,372.0 580.10,380.2 580.20,388.0 580.30,374.0 580.40,386.6 580.50,388.3 580.60,393.6 580.70,389.4 580.80,393.1 580.90,387.7 581.00,386.0 581.10,378.2 581.20,387.0 581.30,377.0 581.40,391.1 581.50,382.2 581.60,393.3 581.70,383.6 581.80,395.4 581.90,398.7 582.00,397.9 582.10,392.5 582.20,391.5 582.30,395.6 582.40,390.7 582.50,398.3 582.60,392.6 582.70,391.0 582.80,398.4 582.90,397.9 583.00,393.7 583.10,392.7 583.20,389.0 583.30,398.7 583.40,395.0 583.50,389.1 583.60,392.8 583.70,388.4 583.80,390.9 583.90,392.4 584.00,396.1 584.10,397.1 584.20,400.4 584.30,389.0 584.40,392.7 584.50,396.6 584.60,393.7 584.70,391.8 584.80,392.1 584.90,395.0 585.00,389.9 585.10,392.6 585.20,395.1 585.30,394.0 585.40,389.1 585.50,390.4 585.60,394.0 585.70,390.1 585.80,399.8 585.90,390.9 586.00,397.2 586.10,396.5 586.20,394.6 586.30,388.6 586.40,395.8 586.50,395.9 586.60,393.7 586.70,400.8 586.80,396.0 586.90,393.6 587.00,399.0 587.10,394.1 587.20,398.2 587.30,399.7 587.40,393.2 587.50,395.6 587.60,393.1 587.70,395.7 587.80,398.7 587.90,392.1 588.00,393.9 588.10,393.8 588.20,396.7 588.30,398.8 588.40,390.5 588.50,392.1 588.60,395.0 588.70,396.9 588.80,390.8 588.90,397.4 589.00,397.5 589.10,388.2 589.20,393.9 589.30,392.6 589.40,393.1 589.50,388.5 589.60,394.2 589.70,393.4 589.80,397.0 589.90,394.5 590.00,398.4 590.10,394.4 590.20,393.7 590.30,391.1 590.40,388.9 590.50,395.0 590.60,396.5 590.70,392.5 590.80,396.0 590.90,388.4 591.00,389.9 591.10,396.3 591.20,392.8 591.30,389.2 591.40,396.4 591.50,395.6 591.60,394.6 591.70,389.6 591.80,391.9 591.90,394.4 592.00,393.0 592.10,393.8 592.20,393.3 592.30,392.2 592.40,393.1 592.50,391.8 592.60,394.9 592.70,395.7 592.80,395.6 592.90,398.4 593.00,395.7 593.10,388.5 593.20,394.3 593.30,393.2 593.40,391.9 593.50,396.1 593.60,395.0 593.70,392.3 593.80,396.6 593.90,391.2 594.00,392.0 594.10,393.5 594.20,393.9 594.30,392.1 594.40,394.6 594.50,400.8 594.60,393.3 594.70,398.5 594.80,397.2 594.90,397.2 595.00,396.8 595.10,400.7 595.20,401.3 595.30,396.6 595.40,395.8 595.50,394.6 595.60,399.8 595.70,396.8 595.80,392.9 595.90,396.8 596.00,398.1 596.10,388.9 596.20,400.2 596.30,398.2 596.40,399.2 596.50,397.5 596.60,385.8 596.70,399.4 596.80,397.4 596.90,398.4 597.00,398.8 597.10,393.4 597.20,397.3 597.30,392.8 597.40,391.9 597.50,397.6 597.60,391.9 597.70,399.5 597.80,395.5 597.90,392.5 598.00,399.3 598.10,396.1 598.20,394.9 598.30,394.4 598.40,395.1 598.50,389.2 598.60,397.1 598.70,393.3 598.80,389.7 598.90,398.0 599.00,398.0 599.10,399.3 599.20,393.9 599.30,391.7 599.40,401.4 599.50,399.2" fill="none" stroke="#000" stroke-width="1.15" stroke-linejoin="bevel"/>
<polygon points="333.90,341.40 332.80,353.00 331.80,366.00 330.70,379.00 327.40,390.60 327.00,396.00 345.00,396.00 343.80,390.60 342.10,379.00 340.50,366.00 338.40,353.00 336.90,341.40" fill="#6a6a6a"/>
<polygon points="334.49,341.40 333.70,353.00 332.98,366.00 332.18,379.00 329.81,390.60 329.52,396.00 342.48,396.00 341.62,390.60 340.39,379.00 339.24,366.00 337.73,353.00 336.65,341.40" fill="#000"/>
<polygon points="433.10,346.40 431.10,358.00 430.20,372.60 429.00,384.00 428.00,396.00 444.00,396.00 443.00,384.00 441.30,372.60 438.90,358.00 437.20,346.40" fill="#6a6a6a"/>
<polygon points="433.91,346.40 432.47,358.00 431.82,372.60 430.96,384.00 430.24,396.00 441.76,396.00 441.04,384.00 439.82,372.60 438.09,358.00 436.86,346.40" fill="#000"/>
<polygon points="465.30,334.70 465.20,340.00 464.50,358.40 463.20,374.00 462.80,382.00 461.30,396.00 478.30,396.00 478.00,382.00 474.00,374.00 471.90,358.40 469.30,340.00 468.30,334.70" fill="#6a6a6a"/>
<polygon points="466.14,334.70 466.07,340.00 465.56,358.40 464.63,374.00 464.34,382.00 463.26,396.00 475.50,396.00 475.28,382.00 472.40,374.00 470.89,358.40 469.02,340.00 468.30,334.70" fill="#000"/>
<polygon points="535.40,238.00 535.40,252.00 535.40,262.00 534.30,273.00 534.30,280.00 534.30,314.00 532.70,327.50 532.50,336.60 531.80,353.00 531.00,372.80 529.40,387.50 529.00,396.00 549.00,396.00 548.20,387.50 545.80,372.80 544.10,353.00 543.60,336.60 542.80,327.50 542.30,314.00 542.00,280.00 540.90,273.00 540.90,262.00 539.50,252.00 537.70,238.00" fill="#6a6a6a"/>
<polygon points="536.13,238.00 536.13,252.00 536.13,262.00 535.34,273.00 535.34,280.00 535.34,314.00 534.18,327.50 534.04,336.60 533.54,353.00 532.96,372.80 531.81,387.50 531.52,396.00 545.92,396.00 545.34,387.50 543.62,372.80 542.39,353.00 542.03,336.60 541.46,327.50 541.10,314.00 540.88,280.00 540.09,273.00 540.09,262.00 539.08,252.00 537.78,238.00" fill="#000"/>
<line x1="538.6" y1="226" x2="538.6" y2="262" stroke="#777" stroke-width="1.6"/>
<line x1="535.6" y1="227" x2="535.6" y2="240" stroke="#000" stroke-width="1.0"/>
<line x1="537.6" y1="262" x2="537.6" y2="370" stroke="#fff" stroke-width="0.7"/>
<rect x="6.4" y="45.6" width="8.30" height="7.40" fill="#ff0000"/><circle cx="10.1" cy="65.8" r="4.8" fill="#0000ff"/><polygon points="5.9,77.9 15.1,77.9 10.50,92.7" fill="#008000"/><circle cx="168.25" cy="7.5" r="4.75" fill="#0000ff"/><circle cx="482.55" cy="11.95" r="5" fill="#0000ff"/><polygon points="433.9,45.4 443.4,45.4 438.65,60" fill="#008000"/><rect x="543.1" y="101" width="7.90" height="7.50" fill="#ff0000"/><polygon points="133.9,218 143.7,218 138.80,232.6" fill="#008000"/><rect x="232" y="215" width="8.80" height="8.00" fill="#ff0000"/><rect x="541.5" y="218.8" width="8.30" height="7.60" fill="#ff0000"/><polygon points="430.3,314.2 440,314.2 435.15,328.5" fill="#008000"/><circle cx="467.95" cy="306.9" r="5" fill="#0000ff"/>
<text x="-1.2" y="29.0" font-size="19.5" textLength="25.2" lengthAdjust="spacingAndGlyphs" font-weight="bold" stroke="#000" stroke-width="0.5">(a)</text><text x="34.3" y="28.5" font-size="16.4" textLength="106.7" lengthAdjust="spacingAndGlyphs" stroke="#000" stroke-width="0.45">Non Diseased 1</text><text x="318.4" y="29.3" font-size="19.5" textLength="25.9" lengthAdjust="spacingAndGlyphs" font-weight="bold" stroke="#000" stroke-width="0.5">(b)</text><text x="352.5" y="28.8" font-size="16.4" textLength="107" lengthAdjust="spacingAndGlyphs" stroke="#000" stroke-width="0.45">Non Diseased 2</text><text x="-1.2" y="235.1" font-size="19.5" textLength="25.2" lengthAdjust="spacingAndGlyphs" font-weight="bold" stroke="#000" stroke-width="0.5">(c)</text><text x="35.2" y="231.7" font-size="16.2" textLength="50.7" lengthAdjust="spacingAndGlyphs" stroke="#000" stroke-width="0.45">NASH 1</text><text x="318.6" y="235.1" font-size="19.5" textLength="25.4" lengthAdjust="spacingAndGlyphs" font-weight="bold" stroke="#000" stroke-width="0.5">(d)</text><text x="350" y="235.2" font-size="15.8" textLength="50.7" lengthAdjust="spacingAndGlyphs" stroke="#000" stroke-width="0.45">NASH 2</text><text x="25.2" y="53" font-size="15" textLength="35.6" lengthAdjust="spacingAndGlyphs" stroke="#000" stroke-width="0.45">&#945;-Hb</text><text x="26" y="71.8" font-size="15.4" textLength="44" lengthAdjust="spacingAndGlyphs" stroke="#000" stroke-width="0.45">FABP1</text><text x="25.5" y="90.6" font-size="15.4" textLength="36" lengthAdjust="spacingAndGlyphs" stroke="#000" stroke-width="0.45">FABP</text><text x="61.5" y="95.6" font-size="11.8" textLength="12.5" lengthAdjust="spacingAndGlyphs" stroke="#000" stroke-width="0.45">TA</text><text x="176.7" y="12.8" font-size="15.2" textLength="21.6" lengthAdjust="spacingAndGlyphs" stroke="#000" stroke-width="0.3">15+</text><text x="490.7" y="17.3" font-size="15.2" textLength="22.3" lengthAdjust="spacingAndGlyphs" stroke="#000" stroke-width="0.3">15+</text><text x="444.1" y="55.4" font-size="15.2" textLength="22.2" lengthAdjust="spacingAndGlyphs" stroke="#000" stroke-width="0.3">15+</text><text x="538.8" y="95.9" font-size="15.2" textLength="22.1" lengthAdjust="spacingAndGlyphs" stroke="#000" stroke-width="0.3">16+</text><text x="143.7" y="229.8" font-size="15.2" textLength="22.3" lengthAdjust="spacingAndGlyphs" stroke="#000" stroke-width="0.3">15+</text><text x="244.2" y="223" font-size="15.2" textLength="22" lengthAdjust="spacingAndGlyphs" stroke="#000" stroke-width="0.3">16+</text><text x="554.3" y="226.8" font-size="15.2" textLength="22.2" lengthAdjust="spacingAndGlyphs" stroke="#000" stroke-width="0.3">16+</text><text x="428.7" y="309.7" font-size="15.2" textLength="22" lengthAdjust="spacingAndGlyphs" stroke="#000" stroke-width="0.3">15+</text><text x="462.2" y="297.4" font-size="15.2" textLength="22" lengthAdjust="spacingAndGlyphs" stroke="#000" stroke-width="0.3">15+</text><text x="6" y="210.8" font-size="17.2" textLength="28" lengthAdjust="spacingAndGlyphs" stroke="#000" stroke-width="0.35">934</text><text x="268.8" y="210.1" font-size="17.2" textLength="27.6" lengthAdjust="spacingAndGlyphs" stroke="#000" stroke-width="0.35">950</text><text x="321.5" y="210.6" font-size="17.2" textLength="27.8" lengthAdjust="spacingAndGlyphs" stroke="#000" stroke-width="0.35">934</text><text x="583.1" y="210.3" font-size="17.2" textLength="27.4" lengthAdjust="spacingAndGlyphs" stroke="#000" stroke-width="0.35">950</text><text x="10.1" y="426.6" font-size="17.2" textLength="27.9" lengthAdjust="spacingAndGlyphs" stroke="#000" stroke-width="0.35">934</text><text x="274.8" y="426.8" font-size="17.2" textLength="27.5" lengthAdjust="spacingAndGlyphs" stroke="#000" stroke-width="0.35">950</text><text x="317.5" y="426.6" font-size="17.2" textLength="27.5" lengthAdjust="spacingAndGlyphs" stroke="#000" stroke-width="0.35">934</text><text x="577.9" y="426.6" font-size="17.2" textLength="28.3" lengthAdjust="spacingAndGlyphs" stroke="#000" stroke-width="0.35">950</text><text x="141.5" y="210.5" font-size="17.5" textLength="28" lengthAdjust="spacingAndGlyphs" font-style="italic" stroke="#000" stroke-width="0.35">m/z</text><text x="455.4" y="210.9" font-size="17.5" textLength="28" lengthAdjust="spacingAndGlyphs" font-style="italic" stroke="#000" stroke-width="0.35">m/z</text><text x="147.1" y="426.6" font-size="17.5" textLength="28" lengthAdjust="spacingAndGlyphs" font-style="italic" stroke="#000" stroke-width="0.35">m/z</text><text x="452.6" y="426.6" font-size="17.5" textLength="28" lengthAdjust="spacingAndGlyphs" font-style="italic" stroke="#000" stroke-width="0.35">m/z</text>
</svg>
</body></html>
